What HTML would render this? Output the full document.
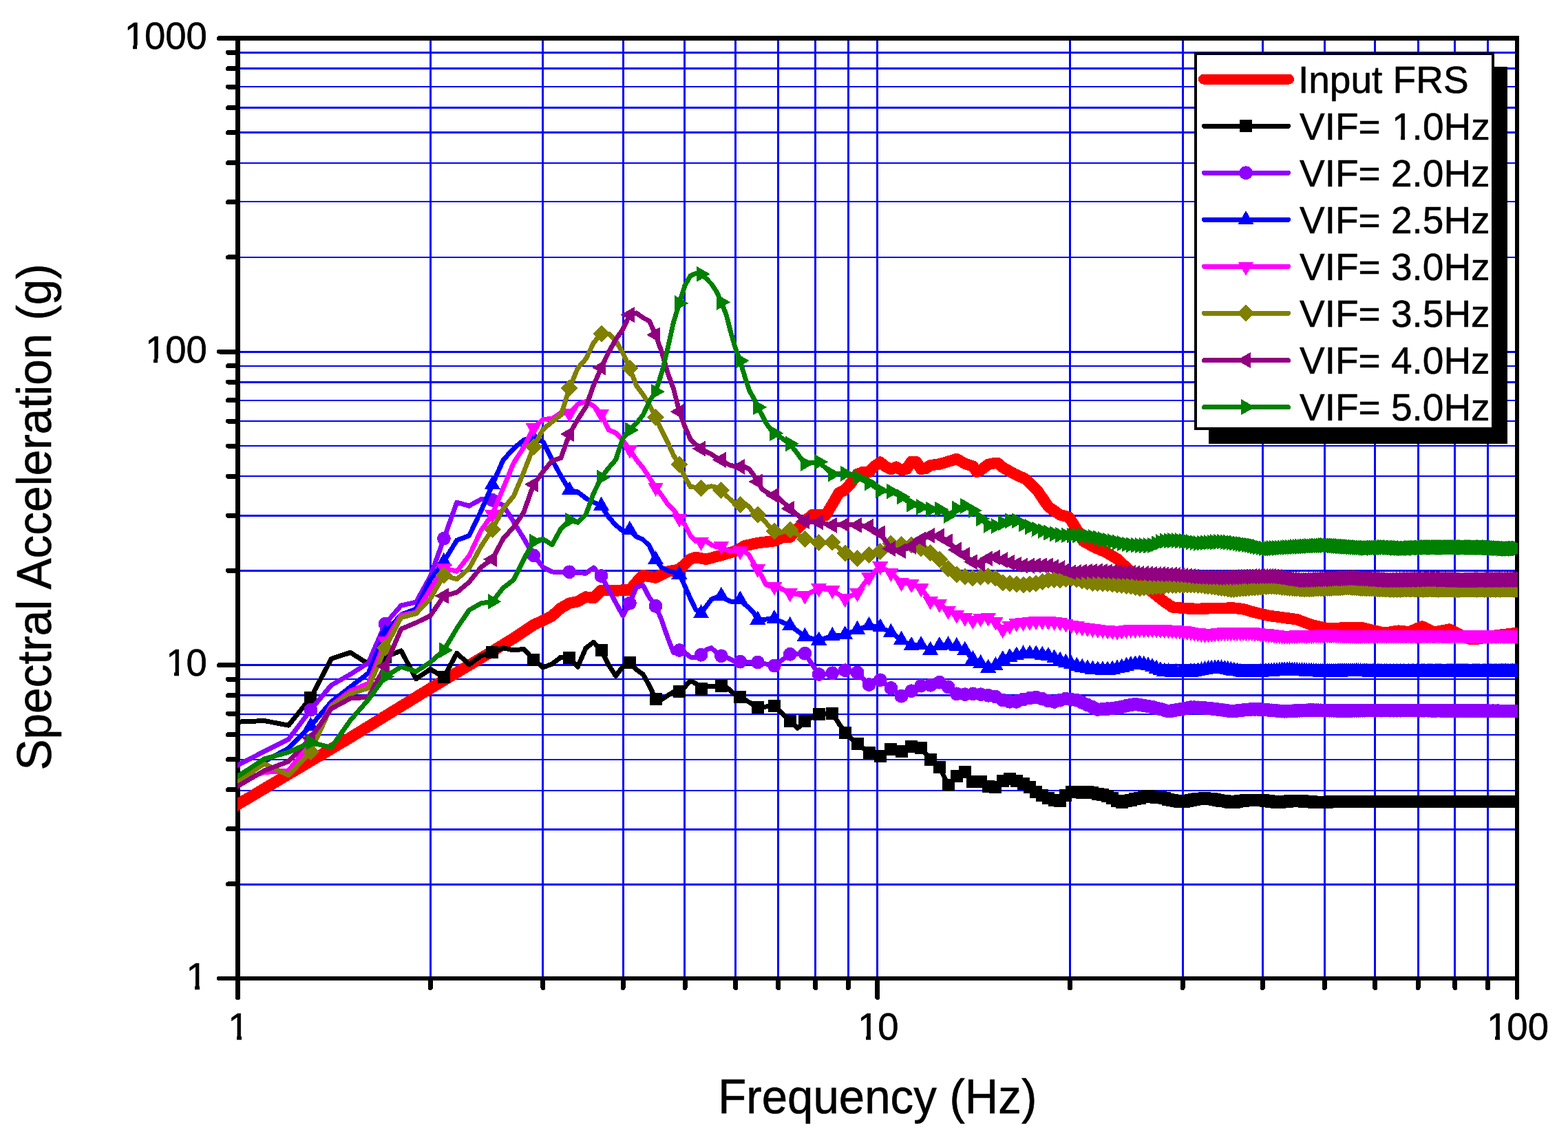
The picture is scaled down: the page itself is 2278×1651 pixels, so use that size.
<!DOCTYPE html>
<html lang="en"><head><meta charset="utf-8"><title>Spectral Acceleration vs Frequency</title>
<style>html,body{margin:0;padding:0;background:#fff}body{width:2278px;height:1651px;overflow:hidden}svg{display:block}text{font-family:"Liberation Sans",sans-serif;fill:#000;stroke:#000;stroke-width:0.6px;stroke-linejoin:round}</style></head><body>
<svg width="2278" height="1651" viewBox="0 0 2278 1651">
<rect width="2278" height="1651" fill="#fff"/>
<defs><clipPath id="pc"><rect x="345" y="56" width="1860" height="1366"/></clipPath></defs>
<path d="M624 59h3V1419h-3zM787 59h3V1419h-3zM904 59h3V1419h-3zM993 59h3V1419h-3zM1067 59h3V1419h-3zM1129 59h3V1419h-3zM1183 59h3V1419h-3zM1231 59h3V1419h-3zM1273 59h3V1419h-3zM1553 59h3V1419h-3zM1717 59h3V1419h-3zM1833 59h3V1419h-3zM1923 59h3V1419h-3zM1996 59h3V1419h-3zM2059 59h3V1419h-3zM2112 59h3V1419h-3zM2160 59h3V1419h-3zM349 75H2201v3H349zM349 98H2201v3H349zM349 125H2201v2H349zM349 155H2201v3H349zM349 191H2201v3H349zM349 236H2201v2H349zM349 292H2201v2H349zM349 373H2201v2H349zM349 510H2201v3H349zM349 531H2201v2H349zM349 554H2201v3H349zM349 581H2201v2H349zM349 611H2201v2H349zM349 647H2201v2H349zM349 691H2201v2H349zM349 748H2201v3H349zM349 828H2201v3H349zM349 965H2201v3H349zM349 986H2201v2H349zM349 1009H2201v3H349zM349 1037H2201v2H349zM349 1067H2201v2H349zM349 1103H2201v2H349zM349 1148H2201v2H349zM349 1204H2201v3H349zM349 1284H2201v3H349z" fill="#0000ff" shape-rendering="crispEdges"/>
<g fill="#000" shape-rendering="crispEdges">
<rect x="342" y="52" width="1865" height="7"/>
<rect x="342" y="1419" width="1865" height="6"/>
<rect x="342" y="52" width="7" height="1373"/>
<rect x="2201" y="52" width="6" height="1373"/>
</g>
<path d="M331.5 1284.9H345M331.5 1204.7H345M331.5 1147.8H345M331.5 1103.6H345M331.5 1067.6H345M331.5 1037.1H345M331.5 1010.6H345M331.5 987.3H345M318.5 966.5H345M331.5 829.4H345M331.5 749.2H345M331.5 692.3H345M331.5 648.1H345M331.5 612.1H345M331.5 581.6H345M331.5 555.1H345M331.5 531.8H345M318.5 511H345M331.5 373.9H345M331.5 293.7H345M331.5 236.8H345M331.5 192.6H345M331.5 156.6H345M331.5 126.1H345M331.5 99.6H345M331.5 76.3H345M318.5 55.5H345M345.5 1422V1449.5M625.2 1422V1435.5M788.9 1422V1435.5M905 1422V1435.5M995 1422V1435.5M1068.6 1422V1435.5M1130.8 1422V1435.5M1184.7 1422V1435.5M1232.2 1422V1435.5M1274.8 1422V1449.5M1554.5 1422V1435.5M1718.1 1422V1435.5M1834.2 1422V1435.5M1924.3 1422V1435.5M1997.8 1422V1435.5M2060.1 1422V1435.5M2113.9 1422V1435.5M2161.5 1422V1435.5" stroke="#000" stroke-width="7" stroke-linecap="round" fill="none" shape-rendering="crispEdges"/>
<path d="M318 1422H345M2204 1422V1450" stroke="#000" stroke-width="6" stroke-linecap="round" fill="none" shape-rendering="crispEdges"/>
<g clip-path="url(#pc)" shape-rendering="crispEdges">
<polyline points="303,1194.3 345.5,1169 384,1146.2 419.1,1125.3 451.4,1106.1 481.3,1088.3 509.1,1071.8 535.2,1055.8 559.6,1040.8 582.7,1026.6 604.5,1013.2 625.2,1000.5 644.9,988.7 663.7,977.4 681.6,966.7 698.8,956.4 715.3,946.5 731.1,936.8 746.3,927.5 761,917.7 775.2,908.3 788.9,901.7 802.1,895 814.9,883.7 827.3,876.7 839.4,874.2 851.1,867.5 862.4,869.2 873.5,857.8 884.3,857.8 894.7,858.7 905,857.5 914.9,857.5 924.7,846 934.2,836.2 943.4,837.9 952.5,839.5 961.4,835.1 970,830.8 978.5,829.1 986.9,827.5 995,819.9 1003,812.5 1010.8,810 1018.5,811.4 1026.1,812.8 1033.5,810.8 1040.8,808.9 1047.9,807 1054.9,804.9 1061.8,802.8 1068.6,800.8 1075.3,797 1081.8,793.3 1088.3,791.8 1094.6,790.4 1100.9,789 1107.1,788.3 1113.1,787.6 1119.1,786.9 1125,786.2 1130.8,783.6 1136.5,781 1142.2,780.9 1147.7,780.8 1153.2,774.4 1158.7,768 1164,763 1169.3,758 1174.5,753.1 1179.6,748.3 1184.7,748.3 1189.7,748.3 1194.7,748.6 1199.6,748.8 1204.4,740.9 1209.2,733 1213.9,724.8 1218.5,716.7 1223.2,714.2 1227.7,711.7 1232.2,706.7 1236.7,701.7 1241.1,695.3 1245.5,689 1249.8,687.5 1254,686 1258.3,686 1262.5,686 1266.6,681.7 1270.7,677.5 1274.8,674.6 1278.8,671.7 1282.7,675 1286.7,678.3 1290.6,680.2 1294.4,682 1298.3,680.3 1302.1,678.7 1305.8,681 1309.5,683.3 1313.2,682.5 1316.9,681.7 1320.5,676.2 1324.1,670.8 1327.6,671 1331.2,671.2 1334.6,676.5 1338.1,681.7 1341.5,681.2 1345,680.8 1348.3,678.5 1351.7,676.2 1355,675.8 1358.3,675.3 1361.6,674.9 1364.8,674.5 1368,673.6 1371.2,672.6 1374.4,671.7 1377.5,670.8 1380.6,669.8 1383.7,668.9 1386.8,667.9 1389.8,667 1392.9,668.7 1395.9,670.4 1398.8,672 1401.8,673.7 1404.7,674.7 1407.6,675.6 1410.5,676.6 1413.4,677.5 1416.3,681.7 1419.1,685.8 1421.9,684.5 1424.7,683.3 1427.5,681.2 1430.2,679.1 1433,677.1 1435.7,675 1438.4,674.4 1441.1,673.9 1443.7,673.3 1446.4,672.8 1449,672.8 1451.6,675 1454.2,677.1 1456.8,679.3 1459.4,680.7 1461.9,682.2 1464.4,683.6 1466.9,685.1 1469.4,686.5 1471.9,687.9 1474.4,689.2 1476.8,690.3 1479.3,691.4 1481.7,692.5 1484.1,693.6 1486.5,694.6 1488.9,695.7 1491.3,697.4 1493.6,699.7 1496,702 1498.3,704.3 1500.6,706.5 1502.9,708.8 1505.2,711 1507.5,713.6 1509.7,716.9 1512,720.2 1514.2,723.4 1516.4,726.7 1518.6,729.9 1520.8,733.1 1523,736.3 1525.2,738 1527.4,739.5 1529.5,741 1531.7,742.5 1533.8,744 1535.9,745.5 1538,746.9 1540.1,748.3 1542.2,748.9 1544.3,749.4 1546.3,749.9 1548.4,750.4 1550.4,751 1552.5,751.5 1554.5,753.6 1556.5,756.9 1558.5,760.2 1560.5,763.4 1562.5,766.7 1564.4,769.9 1566.4,773.4 1568.4,777 1570.3,780.7 1572.2,784.2 1574.2,786.7 1576.1,787.7 1578,788.8 1579.9,789.8 1581.8,790.8 1583.7,791.8 1585.5,792.9 1587.4,793.9 1589.3,794.9 1591.1,795.8 1592.9,796.6 1594.8,797.4 1596.6,798.1 1598.4,798.9 1600.2,799.7 1602,800.5 1603.8,801.3 1605.6,802 1607.4,802.9 1609.1,804 1610.9,805 1612.6,806.1 1614.4,807.1 1616.1,808.2 1617.8,809.2 1619.6,810.2 1621.3,811.3 1623,812.3 1624.7,813.8 1626.4,815.4 1628.1,817 1629.7,818.6 1631.4,820.2 1633.1,821.7 1634.7,823.3 1636.4,824.9 1638,826.4 1639.7,828 1641.3,829.6 1642.9,831.2 1644.5,832.8 1646.1,834.4 1647.8,836.1 1649.3,837.6 1650.9,839.2 1652.5,840.8 1654.1,842.4 1655.7,844 1657.2,845.5 1658.8,846.9 1660.4,848.3 1661.9,849.7 1663.5,851.1 1665,852.5 1666.5,853.9 1668.1,855.3 1669.6,856.6 1671.1,858 1672.6,859.4 1674.1,860.6 1675.6,861.8 1677.1,863 1678.6,864.2 1680.1,865.4 1681.5,866.6 1683,867.7 1684.5,868.9 1685.9,870.1 1687.4,871.2 1688.8,872.4 1690.3,873.5 1691.7,874.5 1693.1,875.5 1694.6,876.5 1696,877.4 1697.4,878.4 1698.8,879.4 1700.2,880.4 1701.6,881.4 1703,882.3 1704.4,882.6 1705.8,882.7 1707.2,882.8 1708.6,882.9 1710,883.1 1711.3,883.2 1712.7,883.3 1714.1,883.4 1715.4,883.5 1716.8,883.6 1718.1,883.8 1719.5,883.9 1720.8,884 1722.1,884.1 1723.5,884.2 1724.8,884.3 1726.1,884.3 1727.4,884.4 1728.7,884.5 1730,884.5 1731.3,884.6 1732.6,884.6 1733.9,884.7 1735.2,884.8 1736.5,884.8 1737.8,884.9 1739.1,885 1740.4,885 1741.6,884.9 1742.9,884.9 1744.2,884.8 1745.4,884.7 1746.7,884.7 1747.9,884.6 1749.2,884.6 1750.4,884.5 1751.7,884.4 1752.9,884.4 1754.1,884.3 1755.4,884.3 1756.6,884.2 1757.8,884.2 1759,884.2 1760.2,884.2 1761.4,884.2 1762.6,884.2 1763.9,884.2 1765.1,884.2 1766.2,884.2 1767.4,884.2 1768.6,884.2 1769.8,884.2 1771,884.2 1772.2,884.2 1773.3,884.2 1774.5,884.1 1775.7,884.1 1776.9,884 1778,883.9 1779.2,883.9 1780.3,883.8 1781.5,883.8 1782.6,883.7 1783.8,883.6 1784.9,883.6 1786,883.5 1787.2,883.5 1788.3,883.4 1789.4,883.3 1790.6,883.4 1791.7,883.5 1792.8,883.6 1793.9,883.8 1795,883.9 1796.2,884 1797.3,884.2 1798.4,884.3 1799.5,884.4 1800.6,884.6 1801.7,884.7 1802.8,884.8 1803.8,885 1804.9,885.1 1806,885.2 1807.1,885.4 1808.2,885.7 1809.2,886.1 1810.3,886.4 1811.4,886.7 1812.5,887 1813.5,887.4 1814.6,887.7 1815.6,888 1816.7,888.3 1817.7,888.6 1818.8,888.9 1819.8,889.2 1820.9,889.4 1821.9,889.7 1823,889.9 1824,890.2 1825,890.4 1826.1,890.7 1827.1,890.9 1828.1,891.2 1829.1,891.4 1830.2,891.7 1831.2,891.9 1832.2,892.2 1833.2,892.4 1834.2,892.7 1835.2,892.9 1836.2,893.2 1837.2,893.4 1838.2,893.7 1839.2,893.9 1840.2,894.2 1841.2,894.4 1842.2,894.6 1843.2,894.8 1844.2,894.9 1845.2,895 1846.1,895.2 1847.1,895.3 1848.1,895.4 1849.1,895.6 1850,895.7 1851,895.8 1852,895.9 1852.9,896.1 1853.9,896.2 1854.9,896.3 1855.8,896.5 1856.8,896.6 1857.7,896.7 1858.7,896.8 1859.6,897 1860.6,897.1 1861.5,897.2 1862.5,897.4 1863.4,897.5 1864.3,897.6 1865.3,897.7 1866.2,897.9 1867.1,898 1868.1,898.1 1869,898.2 1869.9,898.4 1870.8,898.5 1871.8,898.6 1872.7,898.7 1873.6,898.8 1874.5,899 1875.4,899.1 1876.3,899.2 1877.2,899.3 1878.1,899.5 1879,899.6 1880,899.7 1880.8,899.8 1881.7,899.9 1882.6,900.1 1883.5,900.2 1884.4,900.3 1885.3,900.6 1886.2,901 1887.1,901.3 1888,901.7 1888.9,902 1889.7,902.3 1890.6,902.7 1891.5,903 1892.4,903.3 1893.2,903.7 1894.1,904 1895,904.3 1895.8,904.6 1896.7,905 1897.6,905.3 1898.4,905.6 1899.3,905.9 1900.2,906.3 1901,906.6 1901.9,906.9 1902.7,907.2 1903.6,907.6 1904.4,907.9 1905.3,908.2 1906.1,908.4 1907,908.6 1907.8,908.8 1908.6,909 1909.5,909.2 1910.3,909.3 1911.1,909.5 1912,909.7 1912.8,909.9 1913.6,910.1 1914.5,910.3 1915.3,910.4 1916.1,910.6 1916.9,910.8 1917.8,911 1918.6,911.2 1919.4,911.3 1920.2,911.5 1921,911.7 1921.8,911.9 1922.7,912 1923.5,912.2 1924.3,912.4 1925.1,912.6 1925.9,912.7 1926.7,912.9 1927.5,912.9 1928.3,912.9 1929.1,912.9 1929.9,912.9 1930.7,912.9 1931.5,912.9 1932.3,912.9 1933.1,912.9 1933.8,912.8 1934.6,912.8 1935.4,912.8 1936.2,912.8 1937,912.8 1937.8,912.8 1938.5,912.8 1939.3,912.8 1940.1,912.8 1940.9,912.8 1941.6,912.8 1942.4,912.8 1943.2,912.8 1944,912.8 1944.7,912.8 1945.5,912.8 1946.3,912.8 1947,912.7 1947.8,912.7 1948.5,912.7 1949.3,912.7 1950.1,912.7 1950.8,912.7 1951.6,912.7 1952.3,912.7 1953.1,912.7 1953.8,912.7 1954.6,912.7 1955.3,912.7 1956.1,912.7 1956.8,912.7 1957.6,912.7 1958.3,912.7 1959,912.7 1959.8,912.6 1960.5,912.6 1961.3,912.6 1962,912.6 1962.7,912.6 1963.5,912.6 1964.2,912.6 1964.9,912.6 1965.7,912.6 1966.4,912.6 1967.1,912.6 1967.8,912.6 1968.6,912.6 1969.3,912.6 1970,912.6 1970.7,912.6 1971.4,912.6 1972.2,912.6 1972.9,912.5 1973.6,912.5 1974.3,912.5 1975,912.5 1975.7,912.5 1976.4,912.5 1977.1,912.5 1977.9,912.5 1978.6,912.5 1979.3,912.5 1980,912.6 1980.7,912.8 1981.4,913 1982.1,913.1 1982.8,913.3 1983.5,913.5 1984.2,913.6 1984.9,913.8 1985.6,913.9 1986.2,914.1 1986.9,914.3 1987.6,914.4 1988.3,914.6 1989,914.7 1989.7,914.9 1990.4,915.1 1991.1,915.2 1991.7,915.4 1992.4,915.6 1993.1,915.7 1993.8,915.9 1994.5,916 1995.1,916.2 1995.8,916.3 1996.5,916.5 1997.2,916.7 1997.8,916.8 1998.5,917 1999.2,917.1 1999.9,917.3 2000.5,917.4 2001.2,917.6 2001.9,917.8 2002.5,917.9 2003.2,918.1 2003.9,918.2 2004.5,918.4 2005.2,918.5 2005.8,918.7 2006.5,918.8 2007.2,919 2007.8,919.2 2008.5,919.3 2009.1,919.5 2009.8,919.6 2010.4,919.8 2011.1,919.9 2011.7,919.8 2012.4,919.7 2013,919.6 2013.7,919.5 2014.3,919.4 2015,919.3 2015.6,919.2 2016.3,919.1 2016.9,919 2017.5,918.9 2018.2,918.8 2018.8,918.7 2019.5,918.6 2020.1,918.5 2020.7,918.4 2021.4,918.3 2022,918.2 2022.6,918.1 2023.3,918 2023.9,917.9 2024.5,917.8 2025.2,917.7 2025.8,917.6 2026.4,917.6 2027,917.5 2027.7,917.4 2028.3,917.3 2028.9,917.2 2029.5,917.1 2030.1,917 2030.8,916.9 2031.4,916.8 2032,916.7 2032.6,916.8 2033.2,916.8 2033.9,916.9 2034.5,917 2035.1,917 2035.7,917.1 2036.3,917.2 2036.9,917.3 2037.5,917.3 2038.1,917.4 2038.7,917.5 2039.4,917.5 2040,917.6 2040.6,917.7 2041.2,917.7 2041.8,917.8 2042.4,917.9 2043,917.9 2043.6,918 2044.2,918.1 2044.8,918.1 2045.4,918.2 2046,918.3 2046.6,918.4 2047.2,918.3 2047.8,918.1 2048.4,917.8 2049,917.6 2049.5,917.3 2050.1,917.1 2050.7,916.8 2051.3,916.6 2051.9,916.3 2052.5,916.1 2053.1,915.8 2053.7,915.6 2054.3,915.3 2054.8,915.1 2055.4,914.9 2056,914.6 2056.6,914.4 2057.2,914.1 2057.7,913.9 2058.3,913.6 2058.9,913.4 2059.5,913.1 2060.1,912.9 2060.6,912.7 2061.2,912.4 2061.8,912.2 2062.4,911.9 2062.9,911.7 2063.5,911.5 2064.1,911.2 2064.6,911 2065.2,910.7 2065.8,910.5 2066.3,910.6 2066.9,910.9 2067.5,911.1 2068,911.4 2068.6,911.7 2069.2,912 2069.7,912.2 2070.3,912.5 2070.9,912.8 2071.4,913.1 2072,913.4 2072.5,913.6 2073.1,913.9 2073.7,914.2 2074.2,914.5 2074.8,914.7 2075.3,915 2075.9,915.3 2076.4,915.6 2077,915.8 2077.5,916.1 2078.1,916.4 2078.6,916.6 2079.2,916.9 2079.7,917.2 2080.3,917.5 2080.8,917.7 2081.4,918 2081.9,918.3 2082.5,918.5 2083,918.8 2083.6,918.7 2084.1,918.6 2084.7,918.5 2085.2,918.4 2085.7,918.3 2086.3,918.2 2086.8,918.1 2087.4,918 2087.9,917.9 2088.4,917.8 2089,917.7 2089.5,917.6 2090,917.5 2090.6,917.4 2091.1,917.3 2091.6,917.2 2092.2,917.1 2092.7,917 2093.2,916.9 2093.8,916.8 2094.3,916.7 2094.8,916.6 2095.4,916.5 2095.9,916.4 2096.4,916.3 2096.9,916.3 2097.5,916.2 2098,916.1 2098.5,916 2099,915.9 2099.6,915.8 2100.1,915.7 2100.6,915.6 2101.1,915.5 2101.7,915.4 2102.2,915.3 2102.7,915.2 2103.2,915.1 2103.7,915 2104.2,914.9 2104.8,914.8 2105.3,914.7 2105.8,914.6 2106.3,914.8 2106.8,915 2107.3,915.3 2107.8,915.5 2108.4,915.8 2108.9,916 2109.4,916.3 2109.9,916.5 2110.4,916.8 2110.9,917 2111.4,917.3 2111.9,917.6 2112.4,917.8 2112.9,918.1 2113.4,918.3 2113.9,918.6 2114.5,918.8 2115,919.1 2115.5,919.3 2116,919.6 2116.5,919.8 2117,920.1 2117.5,920.3 2118,920.6 2118.5,920.8 2119,921.1 2119.5,921.3 2120,921.6 2120.5,921.8 2120.9,922 2121.4,922.3 2121.9,922.5 2122.4,922.8 2122.9,923 2123.4,923.3 2123.9,923.5 2124.4,923.8 2124.9,924 2125.4,924.3 2125.9,924.5 2126.4,924.7 2126.9,925 2127.3,925.2 2127.8,925.5 2128.3,925.7 2128.8,926 2129.3,926.2 2129.8,926.4 2130.3,926.7 2130.7,926.9 2131.2,927.2 2131.7,927.4 2132.2,927.6 2132.7,927.9 2133.2,928.1 2133.6,928.3 2134.1,928.3 2134.6,928.3 2135.1,928.3 2135.6,928.3 2136,928.3 2136.5,928.3 2137,928.3 2137.5,928.3 2137.9,928.3 2138.4,928.3 2138.9,928.3 2139.4,928.3 2139.8,928.3 2140.3,928.3 2140.8,928.3 2141.3,928.3 2141.7,928.3 2142.2,928.3 2142.7,928.3 2143.1,928.3 2143.6,928.3 2144.1,928.3 2144.5,928.3 2145,928.3 2145.5,928.3 2145.9,928.3 2146.4,928.3 2146.9,928.3 2147.3,928.3 2147.8,928.3 2148.3,928.2 2148.7,928.2 2149.2,928.1 2149.6,928 2150.1,927.9 2150.6,927.8 2151,927.7 2151.5,927.6 2152,927.5 2152.4,927.4 2152.9,927.3 2153.3,927.2 2153.8,927.1 2154.2,927.1 2154.7,927 2155.2,926.9 2155.6,926.8 2156.1,926.7 2156.5,926.6 2157,926.5 2157.4,926.4 2157.9,926.3 2158.3,926.2 2158.8,926.1 2159.2,926.1 2159.7,926 2160.1,925.9 2160.6,925.8 2161,925.7 2161.5,925.6 2161.9,925.5 2162.4,925.4 2162.8,925.3 2163.3,925.2 2163.7,925.2 2164.2,925.1 2164.6,925 2165.1,924.9 2165.5,924.8 2165.9,924.7 2166.4,924.6 2166.8,924.5 2167.3,924.4 2167.7,924.4 2168.2,924.3 2168.6,924.2 2169,924.1 2169.5,924 2169.9,924 2170.3,923.9 2170.8,923.9 2171.2,923.8 2171.7,923.8 2172.1,923.7 2172.5,923.7 2173,923.6 2173.4,923.6 2173.8,923.5 2174.3,923.5 2174.7,923.4 2175.1,923.4 2175.6,923.3 2176,923.3 2176.4,923.2 2176.9,923.2 2177.3,923.1 2177.7,923.1 2178.2,923 2178.6,922.9 2179,922.9 2179.5,922.8 2179.9,922.8 2180.3,922.7 2180.7,922.7 2181.2,922.6 2181.6,922.6 2182,922.5 2182.4,922.5 2182.9,922.4 2183.3,922.4 2183.7,922.3 2184.1,922.3 2184.6,922.2 2185,922.2 2185.4,922.1 2185.8,922.1 2186.3,922 2186.7,922 2187.1,921.9 2187.5,921.9 2187.9,921.8 2188.4,921.8 2188.8,921.7 2189.2,921.7 2189.6,921.6 2190,921.6 2190.5,921.5 2190.9,921.5 2191.3,921.4 2191.7,921.4 2192.1,921.3 2192.5,921.3 2193,921.2 2193.4,921.2 2193.8,921.1 2194.2,921.1 2194.6,921 2195,921 2195.4,920.9 2195.8,920.9 2196.3,920.8 2196.7,920.8 2197.1,920.7 2197.5,920.7 2197.9,920.6 2198.3,920.6 2198.7,920.5 2199.1,920.5 2199.5,920.4 2199.9,920.4 2200.4,920.3 2200.8,920.3 2201.2,920.2 2201.6,920.2 2202,920.1 2202.4,920.1 2202.8,920 2203.2,920 2203.6,919.9 2204,919.9 2204.4,919.9" fill="none" stroke="#ff0000" stroke-width="16.5" stroke-linejoin="round" stroke-linecap="round"/>
<polyline points="303,1051.1 345.5,1049.2 384,1047.5 419.1,1054.2 451.4,1014.2 481.3,957.5 509.1,948.3 535.2,965 559.6,955 582.7,945.8 604.5,986.7 625.2,972.5 644.9,984.2 663.7,949.2 681.6,965.8 698.8,953.3 715.3,948 731.1,941.7 746.3,945 761,943.3 775.2,958.7 788.9,970 802.1,965 814.9,955 827.3,955.8 839.4,969.2 851.1,941.7 862.4,933.3 873.5,945 884.3,966.7 894.7,982.5 905,968.3 914.9,963 924.7,973.3 934.2,980 943.4,996.7 952.5,1015.8 961.4,1016.7 970,1010.8 978.5,1005.8 986.9,1005 995,998.3 1003,989.2 1010.8,993.3 1018.5,1000.8 1026.1,997.5 1033.5,997.5 1040.8,997.5 1047.9,996.7 1054.9,998.3 1061.8,1004.2 1068.6,1010 1075.3,1012.5 1081.8,1016.5 1088.3,1020.5 1094.6,1024.4 1100.9,1028.3 1107.1,1027.7 1113.1,1027 1119.1,1026.4 1125,1025.8 1130.8,1031.5 1136.5,1037.2 1142.2,1042.8 1147.7,1048.3 1153.2,1053.3 1158.7,1058.3 1164,1053.3 1169.3,1048.3 1174.5,1045.5 1179.6,1042.8 1184.7,1040.1 1189.7,1037.5 1194.7,1037.4 1199.6,1037.2 1204.4,1037.1 1209.2,1037 1213.9,1044.1 1218.5,1051.2 1223.2,1058.1 1227.7,1065 1232.2,1069.1 1236.7,1073.1 1241.1,1077.1 1245.5,1081 1249.8,1084.2 1254,1087.3 1258.3,1090.4 1262.5,1093.5 1266.6,1094.9 1270.7,1096.3 1274.8,1097.6 1278.8,1099 1282.7,1096.5 1286.7,1094 1290.6,1091.5 1294.4,1089 1298.3,1089.8 1302.1,1090.5 1305.8,1091.3 1309.5,1092 1313.2,1090.2 1316.9,1088.5 1320.5,1086.7 1324.1,1085 1327.6,1085.4 1331.2,1085.9 1334.6,1086.3 1338.1,1086.7 1341.5,1091.1 1345,1095.5 1348.3,1099.9 1351.7,1104.2 1355,1106.9 1358.3,1109.6 1361.6,1112.3 1364.8,1115 1368,1121.5 1371.2,1128 1374.4,1134.4 1377.5,1140.8 1380.6,1137.6 1383.7,1134.4 1386.8,1131.2 1389.8,1128 1392.9,1126.5 1395.9,1125 1398.8,1123.5 1401.8,1122 1404.7,1125.5 1407.6,1128.9 1410.5,1132.4 1413.4,1135.8 1416.3,1135.8 1419.1,1135.8 1421.9,1135.8 1424.7,1135.8 1427.5,1137.6 1430.2,1139.4 1433,1141.2 1435.7,1143 1438.4,1143.2 1441.1,1143.4 1443.7,1143.5 1446.4,1143.7 1449,1141.4 1451.6,1139.2 1454.2,1136.9 1456.8,1134.7 1459.4,1134.1 1461.9,1133.4 1464.4,1132.8 1466.9,1132.2 1469.4,1132.9 1471.9,1133.6 1474.4,1134.3 1476.8,1135 1479.3,1136.1 1481.7,1137.1 1484.1,1138.2 1486.5,1139.2 1488.9,1140.5 1491.3,1141.7 1493.6,1143 1496,1144.2 1498.3,1145.9 1500.6,1147.5 1502.9,1149.2 1505.2,1150.8 1507.5,1152.1 1509.7,1153.3 1512,1154.6 1514.2,1155.8 1516.4,1156.9 1518.6,1157.9 1520.8,1159 1523,1160 1525.2,1160.8 1527.4,1161.5 1529.5,1162.3 1531.7,1163 1533.8,1163.2 1535.9,1163.4 1538,1163.5 1540.1,1163.7 1542.2,1161.7 1544.3,1159.7 1546.3,1157.8 1548.4,1155.8 1550.4,1154.5 1552.5,1153.3 1554.5,1152 1556.5,1150.8 1558.5,1150.8 1560.5,1150.8 1562.5,1150.8 1564.4,1150.8 1566.4,1151 1568.4,1151.3 1570.3,1151.5 1572.2,1151.7 1574.2,1151.6 1576.1,1151.5 1578,1151.4 1579.9,1151.3 1581.8,1151.2 1583.7,1151.6 1585.5,1151.9 1587.4,1152.2 1589.3,1152.6 1591.1,1152.9 1592.9,1153.3 1594.8,1153.6 1596.6,1153.9 1598.4,1154.3 1600.2,1154.6 1602,1154.9 1603.8,1155.3 1605.6,1155.6 1607.4,1156.1 1609.1,1157 1610.9,1157.8 1612.6,1158.7 1614.4,1159.5 1616.1,1160.3 1617.8,1161.2 1619.6,1162 1621.3,1162.8 1623,1163.6 1624.7,1164.5 1626.4,1165.3 1628.1,1166.1 1629.7,1165.9 1631.4,1165.5 1633.1,1165.1 1634.7,1164.8 1636.4,1164.4 1638,1164 1639.7,1163.6 1641.3,1163.3 1642.9,1162.9 1644.5,1162.5 1646.1,1162.2 1647.8,1161.8 1649.3,1161.4 1650.9,1161.1 1652.5,1160.7 1654.1,1160.3 1655.7,1159.9 1657.2,1159.5 1658.8,1159.1 1660.4,1158.7 1661.9,1158.4 1663.5,1158 1665,1157.6 1666.5,1157.2 1668.1,1156.9 1669.6,1157 1671.1,1157.2 1672.6,1157.4 1674.1,1157.7 1675.6,1157.9 1677.1,1158.1 1678.6,1158.3 1680.1,1158.5 1681.5,1158.8 1683,1159 1684.5,1159.2 1685.9,1159.4 1687.4,1159.6 1688.8,1159.8 1690.3,1160.1 1691.7,1160.4 1693.1,1160.7 1694.6,1161 1696,1161.3 1697.4,1161.6 1698.8,1161.9 1700.2,1162.2 1701.6,1162.5 1703,1162.8 1704.4,1163.1 1705.8,1163.4 1707.2,1163.6 1708.6,1163.9 1710,1164.2 1711.3,1164.5 1712.7,1164.8 1714.1,1165.1 1715.4,1165.2 1716.8,1165 1718.1,1164.8 1719.5,1164.6 1720.8,1164.3 1722.1,1164.1 1723.5,1163.9 1724.8,1163.7 1726.1,1163.4 1727.4,1163.2 1728.7,1163 1730,1162.8 1731.3,1162.6 1732.6,1162.4 1733.9,1162.2 1735.2,1162.1 1736.5,1161.9 1737.8,1161.7 1739.1,1161.6 1740.4,1161.4 1741.6,1161.3 1742.9,1161.1 1744.2,1160.9 1745.4,1160.8 1746.7,1160.6 1747.9,1160.5 1749.2,1160.3 1750.4,1160.2 1751.7,1160 1752.9,1160.2 1754.1,1160.4 1755.4,1160.6 1756.6,1160.7 1757.8,1160.9 1759,1161.1 1760.2,1161.3 1761.4,1161.5 1762.6,1161.7 1763.9,1161.9 1765.1,1162 1766.2,1162.2 1767.4,1162.4 1768.6,1162.6 1769.8,1162.8 1771,1162.9 1772.2,1163.1 1773.3,1163.3 1774.5,1163.5 1775.7,1163.7 1776.9,1163.9 1778,1164.1 1779.2,1164.2 1780.3,1164.4 1781.5,1164.6 1782.6,1164.8 1783.8,1165 1784.9,1165.2 1786,1165.4 1787.2,1165.5 1788.3,1165.7 1789.4,1165.9 1790.6,1165.9 1791.7,1165.8 1792.8,1165.6 1793.9,1165.4 1795,1165.3 1796.2,1165.1 1797.3,1165 1798.4,1164.8 1799.5,1164.7 1800.6,1164.5 1801.7,1164.4 1802.8,1164.2 1803.8,1164.1 1804.9,1163.9 1806,1163.8 1807.1,1163.6 1808.2,1163.5 1809.2,1163.3 1810.3,1163.2 1811.4,1163 1812.5,1162.9 1813.5,1162.7 1814.6,1162.6 1815.6,1162.5 1816.7,1162.5 1817.7,1162.5 1818.8,1162.5 1819.8,1162.5 1820.9,1162.5 1821.9,1162.5 1823,1162.5 1824,1162.5 1825,1162.5 1826.1,1162.5 1827.1,1162.5 1828.1,1162.5 1829.1,1162.5 1830.2,1162.5 1831.2,1162.5 1832.2,1162.6 1833.2,1162.7 1834.2,1162.8 1835.2,1163 1836.2,1163.1 1837.2,1163.2 1838.2,1163.4 1839.2,1163.5 1840.2,1163.6 1841.2,1163.8 1842.2,1163.9 1843.2,1164 1844.2,1164.1 1845.2,1164.3 1846.1,1164.4 1847.1,1164.5 1848.1,1164.7 1849.1,1164.8 1850,1164.9 1851,1165 1852,1165.2 1852.9,1165.3 1853.9,1165.4 1854.9,1165.6 1855.8,1165.7 1856.8,1165.8 1857.7,1165.7 1858.7,1165.6 1859.6,1165.6 1860.6,1165.5 1861.5,1165.4 1862.5,1165.3 1863.4,1165.2 1864.3,1165.2 1865.3,1165.1 1866.2,1165 1867.1,1164.9 1868.1,1164.8 1869,1164.8 1869.9,1164.7 1870.8,1164.6 1871.8,1164.5 1872.7,1164.5 1873.6,1164.4 1874.5,1164.3 1875.4,1164.2 1876.3,1164.2 1877.2,1164.1 1878.1,1164 1879,1163.9 1880,1163.8 1880.8,1163.8 1881.7,1163.7 1882.6,1163.8 1883.5,1163.8 1884.4,1163.9 1885.3,1164 1886.2,1164 1887.1,1164.1 1888,1164.1 1888.9,1164.2 1889.7,1164.3 1890.6,1164.3 1891.5,1164.4 1892.4,1164.5 1893.2,1164.5 1894.1,1164.6 1895,1164.6 1895.8,1164.7 1896.7,1164.8 1897.6,1164.8 1898.4,1164.9 1899.3,1165 1900.2,1165 1901,1165.1 1901.9,1165.1 1902.7,1165.2 1903.6,1165.3 1904.4,1165.3 1905.3,1165.4 1906.1,1165.4 1907,1165.5 1907.8,1165.6 1908.6,1165.6 1909.5,1165.7 1910.3,1165.7 1911.1,1165.8 1912,1165.9 1912.8,1165.9 1913.6,1166 1914.5,1166 1915.3,1166.1 1916.1,1166.2 1916.9,1166.2 1917.8,1166.1 1918.6,1166.1 1919.4,1166.1 1920.2,1166 1921,1166 1921.8,1165.9 1922.7,1165.9 1923.5,1165.9 1924.3,1165.8 1925.1,1165.8 1925.9,1165.7 1926.7,1165.7 1927.5,1165.6 1928.3,1165.6 1929.1,1165.6 1929.9,1165.5 1930.7,1165.5 1931.5,1165.4 1932.3,1165.4 1933.1,1165.4 1933.8,1165.3 1934.6,1165.3 1935.4,1165.2 1936.2,1165.2 1937,1165.2 1937.8,1165.1 1938.5,1165.1 1939.3,1165 1940.1,1165 1940.9,1165 1941.6,1164.9 1942.4,1164.9 1943.2,1164.8 1944,1164.8 1944.7,1164.8 1945.5,1164.7 1946.3,1164.7 1947,1164.7 1947.8,1164.6 1948.5,1164.6 1949.3,1164.5 1950.1,1164.5 1950.8,1164.5 1951.6,1164.5 1952.3,1164.5 1953.1,1164.5 1953.8,1164.5 1954.6,1164.5 1955.3,1164.5 1956.1,1164.5 1956.8,1164.5 1957.6,1164.5 1958.3,1164.5 1959,1164.5 1959.8,1164.5 1960.5,1164.5 1961.3,1164.5 1962,1164.5 1962.7,1164.5 1963.5,1164.5 1964.2,1164.5 1964.9,1164.5 1965.7,1164.5 1966.4,1164.5 1967.1,1164.5 1967.8,1164.5 1968.6,1164.5 1969.3,1164.5 1970,1164.5 1970.7,1164.5 1971.4,1164.5 1972.2,1164.5 1972.9,1164.5 1973.6,1164.5 1974.3,1164.5 1975,1164.5 1975.7,1164.6 1976.4,1164.6 1977.1,1164.6 1977.9,1164.6 1978.6,1164.6 1979.3,1164.6 1980,1164.6 1980.7,1164.6 1981.4,1164.6 1982.1,1164.6 1982.8,1164.6 1983.5,1164.6 1984.2,1164.6 1984.9,1164.6 1985.6,1164.6 1986.2,1164.6 1986.9,1164.6 1987.6,1164.6 1988.3,1164.6 1989,1164.6 1989.7,1164.6 1990.4,1164.6 1991.1,1164.6 1991.7,1164.6 1992.4,1164.6 1993.1,1164.6 1993.8,1164.6 1994.5,1164.6 1995.1,1164.6 1995.8,1164.6 1996.5,1164.6 1997.2,1164.6 1997.8,1164.6 1998.5,1164.6 1999.2,1164.6 1999.9,1164.6 2000.5,1164.6 2001.2,1164.6 2001.9,1164.6 2002.5,1164.6 2003.2,1164.6 2003.9,1164.6 2004.5,1164.6 2005.2,1164.6 2005.8,1164.6 2006.5,1164.6 2007.2,1164.6 2007.8,1164.6 2008.5,1164.6 2009.1,1164.6 2009.8,1164.6 2010.4,1164.6 2011.1,1164.6 2011.7,1164.6 2012.4,1164.6 2013,1164.6 2013.7,1164.6 2014.3,1164.6 2015,1164.6 2015.6,1164.6 2016.3,1164.6 2016.9,1164.6 2017.5,1164.6 2018.2,1164.6 2018.8,1164.6 2019.5,1164.6 2020.1,1164.6 2020.7,1164.6 2021.4,1164.6 2022,1164.6 2022.6,1164.6 2023.3,1164.6 2023.9,1164.6 2024.5,1164.6 2025.2,1164.6 2025.8,1164.6 2026.4,1164.7 2027,1164.7 2027.7,1164.7 2028.3,1164.7 2028.9,1164.7 2029.5,1164.7 2030.1,1164.7 2030.8,1164.7 2031.4,1164.7 2032,1164.7 2032.6,1164.7 2033.2,1164.7 2033.9,1164.7 2034.5,1164.7 2035.1,1164.7 2035.7,1164.7 2036.3,1164.7 2036.9,1164.7 2037.5,1164.7 2038.1,1164.7 2038.7,1164.7 2039.4,1164.7 2040,1164.7 2040.6,1164.7 2041.2,1164.7 2041.8,1164.7 2042.4,1164.7 2043,1164.7 2043.6,1164.7 2044.2,1164.7 2044.8,1164.7 2045.4,1164.7 2046,1164.7 2046.6,1164.7 2047.2,1164.7 2047.8,1164.7 2048.4,1164.7 2049,1164.7 2049.5,1164.7 2050.1,1164.7 2050.7,1164.7 2051.3,1164.7 2051.9,1164.7 2052.5,1164.7 2053.1,1164.7 2053.7,1164.7 2054.3,1164.7 2054.8,1164.7 2055.4,1164.7 2056,1164.7 2056.6,1164.7 2057.2,1164.7 2057.7,1164.7 2058.3,1164.7 2058.9,1164.7 2059.5,1164.7 2060.1,1164.7 2060.6,1164.7 2061.2,1164.7 2061.8,1164.7 2062.4,1164.7 2062.9,1164.7 2063.5,1164.7 2064.1,1164.7 2064.6,1164.7 2065.2,1164.7 2065.8,1164.7 2066.3,1164.7 2066.9,1164.7 2067.5,1164.7 2068,1164.7 2068.6,1164.7 2069.2,1164.7 2069.7,1164.7 2070.3,1164.7 2070.9,1164.7 2071.4,1164.7 2072,1164.7 2072.5,1164.7 2073.1,1164.7 2073.7,1164.7 2074.2,1164.7 2074.8,1164.7 2075.3,1164.7 2075.9,1164.7 2076.4,1164.7 2077,1164.7 2077.5,1164.8 2078.1,1164.8 2078.6,1164.8 2079.2,1164.8 2079.7,1164.8 2080.3,1164.8 2080.8,1164.8 2081.4,1164.8 2081.9,1164.8 2082.5,1164.8 2083,1164.8 2083.6,1164.8 2084.1,1164.8 2084.7,1164.8 2085.2,1164.8 2085.7,1164.8 2086.3,1164.8 2086.8,1164.8 2087.4,1164.8 2087.9,1164.8 2088.4,1164.8 2089,1164.8 2089.5,1164.8 2090,1164.8 2090.6,1164.8 2091.1,1164.8 2091.6,1164.8 2092.2,1164.8 2092.7,1164.8 2093.2,1164.8 2093.8,1164.8 2094.3,1164.8 2094.8,1164.8 2095.4,1164.8 2095.9,1164.8 2096.4,1164.8 2096.9,1164.8 2097.5,1164.8 2098,1164.8 2098.5,1164.8 2099,1164.8 2099.6,1164.8 2100.1,1164.8 2100.6,1164.8 2101.1,1164.8 2101.7,1164.8 2102.2,1164.8 2102.7,1164.8 2103.2,1164.8 2103.7,1164.8 2104.2,1164.8 2104.8,1164.8 2105.3,1164.8 2105.8,1164.8 2106.3,1164.8 2106.8,1164.8 2107.3,1164.8 2107.8,1164.8 2108.4,1164.8 2108.9,1164.8 2109.4,1164.8 2109.9,1164.8 2110.4,1164.8 2110.9,1164.8 2111.4,1164.8 2111.9,1164.8 2112.4,1164.8 2112.9,1164.8 2113.4,1164.8 2113.9,1164.8 2114.5,1164.8 2115,1164.8 2115.5,1164.8 2116,1164.8 2116.5,1164.8 2117,1164.8 2117.5,1164.8 2118,1164.8 2118.5,1164.8 2119,1164.8 2119.5,1164.8 2120,1164.8 2120.5,1164.8 2120.9,1164.8 2121.4,1164.8 2121.9,1164.8 2122.4,1164.8 2122.9,1164.8 2123.4,1164.8 2123.9,1164.8 2124.4,1164.8 2124.9,1164.8 2125.4,1164.8 2125.9,1164.8 2126.4,1164.8 2126.9,1164.8 2127.3,1164.8 2127.8,1164.9 2128.3,1164.9 2128.8,1164.9 2129.3,1164.9 2129.8,1164.9 2130.3,1164.9 2130.7,1164.9 2131.2,1164.9 2131.7,1164.9 2132.2,1164.9 2132.7,1164.9 2133.2,1164.9 2133.6,1164.9 2134.1,1164.9 2134.6,1164.9 2135.1,1164.9 2135.6,1164.9 2136,1164.9 2136.5,1164.9 2137,1164.9 2137.5,1164.9 2137.9,1164.9 2138.4,1164.9 2138.9,1164.9 2139.4,1164.9 2139.8,1164.9 2140.3,1164.9 2140.8,1164.9 2141.3,1164.9 2141.7,1164.9 2142.2,1164.9 2142.7,1164.9 2143.1,1164.9 2143.6,1164.9 2144.1,1164.9 2144.5,1164.9 2145,1164.9 2145.5,1164.9 2145.9,1164.9 2146.4,1164.9 2146.9,1164.9 2147.3,1164.9 2147.8,1164.9 2148.3,1164.9 2148.7,1164.9 2149.2,1164.9 2149.6,1164.9 2150.1,1164.9 2150.6,1164.9 2151,1164.9 2151.5,1164.9 2152,1164.9 2152.4,1164.9 2152.9,1164.9 2153.3,1164.9 2153.8,1164.9 2154.2,1164.9 2154.7,1164.9 2155.2,1164.9 2155.6,1164.9 2156.1,1164.9 2156.5,1164.9 2157,1164.9 2157.4,1164.9 2157.9,1164.9 2158.3,1164.9 2158.8,1164.9 2159.2,1164.9 2159.7,1164.9 2160.1,1164.9 2160.6,1164.9 2161,1164.9 2161.5,1164.9 2161.9,1164.9 2162.4,1164.9 2162.8,1164.9 2163.3,1164.9 2163.7,1164.9 2164.2,1164.9 2164.6,1164.9 2165.1,1164.9 2165.5,1164.9 2165.9,1164.9 2166.4,1164.9 2166.8,1164.9 2167.3,1164.9 2167.7,1164.9 2168.2,1164.9 2168.6,1164.9 2169,1164.9 2169.5,1164.9 2169.9,1164.9 2170.3,1164.9 2170.8,1164.9 2171.2,1164.9 2171.7,1164.9 2172.1,1164.9 2172.5,1164.9 2173,1164.9 2173.4,1164.9 2173.8,1164.9 2174.3,1164.9 2174.7,1164.9 2175.1,1164.9 2175.6,1164.9 2176,1164.9 2176.4,1164.9 2176.9,1164.9 2177.3,1164.9 2177.7,1164.9 2178.2,1164.9 2178.6,1164.9 2179,1165 2179.5,1165 2179.9,1165 2180.3,1165 2180.7,1165 2181.2,1165 2181.6,1165 2182,1165 2182.4,1165 2182.9,1165 2183.3,1165 2183.7,1165 2184.1,1165 2184.6,1165 2185,1165 2185.4,1165 2185.8,1165 2186.3,1165 2186.7,1165 2187.1,1165 2187.5,1165 2187.9,1165 2188.4,1165 2188.8,1165 2189.2,1165 2189.6,1165 2190,1165 2190.5,1165 2190.9,1165 2191.3,1165 2191.7,1165 2192.1,1165 2192.5,1165 2193,1165 2193.4,1165 2193.8,1165 2194.2,1165 2194.6,1165 2195,1165 2195.4,1165 2195.8,1165 2196.3,1165 2196.7,1165 2197.1,1165 2197.5,1165 2197.9,1165 2198.3,1165 2198.7,1165 2199.1,1165 2199.5,1165 2199.9,1165 2200.4,1165 2200.8,1165 2201.2,1165 2201.6,1165 2202,1165 2202.4,1165 2202.8,1165 2203.2,1165 2203.6,1165 2204,1165 2204.4,1165" fill="none" stroke="#000000" stroke-width="7" stroke-linejoin="round" stroke-linecap="round"/>
<path d="M294 1042.1h18v18h-18zM442.4 1005.2h18v18h-18zM550.6 946h18v18h-18zM635.9 975.2h18v18h-18zM706.3 939h18v18h-18zM766.2 949.7h18v18h-18zM818.3 946.8h18v18h-18zM864.5 936h18v18h-18zM905.9 954h18v18h-18zM943.5 1006.8h18v18h-18zM977.9 996h18v18h-18zM1009.5 991.8h18v18h-18zM1038.9 987.7h18v18h-18zM1066.3 1003.5h18v18h-18zM1091.9 1019.3h18v18h-18zM1116 1016.8h18v18h-18zM1138.7 1039.3h18v18h-18zM1160.3 1039.3h18v18h-18zM1180.7 1028.5h18v18h-18zM1200.2 1028h18v18h-18zM1218.7 1056h18v18h-18zM1236.5 1072h18v18h-18zM1253.5 1084.5h18v18h-18zM1269.8 1090h18v18h-18zM1285.4 1080h18v18h-18zM1300.5 1083h18v18h-18zM1315.1 1076h18v18h-18zM1329.1 1077.7h18v18h-18zM1342.7 1095.2h18v18h-18zM1355.8 1106h18v18h-18zM1368.5 1131.8h18v18h-18zM1380.8 1119h18v18h-18zM1392.8 1113h18v18h-18zM1404.4 1126.8h18v18h-18zM1415.7 1126.8h18v18h-18zM1426.7 1134h18v18h-18zM1437.4 1134.7h18v18h-18zM1447.8 1125.7h18v18h-18zM1457.9 1123.2h18v18h-18zM1467.8 1126h18v18h-18zM1477.5 1130.2h18v18h-18zM1487 1135.2h18v18h-18zM1496.2 1141.8h18v18h-18zM1505.2 1146.8h18v18h-18zM1514 1151h18v18h-18zM1522.7 1154h18v18h-18zM1531.1 1154.7h18v18h-18zM1539.4 1146.8h18v18h-18zM1547.5 1141.8h18v18h-18zM1555.4 1141.8h18v18h-18zM1563.2 1142.7h18v18h-18zM1570.9 1142.3h18v18h-18zM1578.4 1143.2h18v18h-18zM1585.8 1144.6h18v18h-18zM1593 1145.9h18v18h-18zM1600.1 1148h18v18h-18zM1607.1 1151.3h18v18h-18zM1614 1154.6h18v18h-18zM1620.7 1156.9h18v18h-18zM1627.4 1155.4h18v18h-18zM1633.9 1153.9h18v18h-18zM1640.3 1152.4h18v18h-18zM1646.7 1150.9h18v18h-18zM1652.9 1149.4h18v18h-18zM1659.1 1147.9h18v18h-18zM1665.1 1148.7h18v18h-18zM1671.1 1149.5h18v18h-18zM1676.9 1150.4h18v18h-18zM1682.7 1151.4h18v18h-18zM1688.4 1152.6h18v18h-18zM1694 1153.8h18v18h-18zM1699.6 1154.9h18v18h-18zM1705.1 1156.1h18v18h-18zM1710.5 1155.6h18v18h-18zM1715.8 1154.7h18v18h-18zM1721 1153.8h18v18h-18zM1726.2 1153.1h18v18h-18zM1731.4 1152.4h18v18h-18zM1736.4 1151.8h18v18h-18zM1741.4 1151.2h18v18h-18zM1746.4 1151.6h18v18h-18zM1751.2 1152.3h18v18h-18zM1756.1 1153h18v18h-18zM1760.8 1153.8h18v18h-18zM1765.5 1154.5h18v18h-18zM1770.2 1155.2h18v18h-18zM1774.8 1156h18v18h-18zM1779.3 1156.7h18v18h-18zM1783.8 1156.6h18v18h-18zM1788.3 1156h18v18h-18zM1792.7 1155.4h18v18h-18zM1797 1154.8h18v18h-18zM1801.3 1154.2h18v18h-18zM1805.6 1153.6h18v18h-18zM1809.8 1153.5h18v18h-18zM1814 1153.5h18v18h-18zM1818.1 1153.5h18v18h-18zM1822.2 1153.5h18v18h-18zM1826.2 1154h18v18h-18zM1830.2 1154.5h18v18h-18zM1834.2 1155h18v18h-18zM1838.1 1155.5h18v18h-18zM1842 1156h18v18h-18zM1845.9 1156.6h18v18h-18zM1849.7 1156.6h18v18h-18zM1853.5 1156.3h18v18h-18zM1857.2 1156h18v18h-18zM1860.9 1155.7h18v18h-18zM1864.6 1155.4h18v18h-18zM1868.2 1155.1h18v18h-18zM1871.8 1154.8h18v18h-18zM1875.4 1154.9h18v18h-18zM1879 1155.1h18v18h-18zM1882.5 1155.4h18v18h-18zM1886 1155.6h18v18h-18zM1889.4 1155.9h18v18h-18zM1892.9 1156.1h18v18h-18zM1896.3 1156.4h18v18h-18zM1899.6 1156.6h18v18h-18zM1903 1156.9h18v18h-18zM1906.3 1157.1h18v18h-18zM1909.6 1157.1h18v18h-18zM1912.8 1156.9h18v18h-18zM1916.1 1156.8h18v18h-18zM1919.3 1156.6h18v18h-18zM1922.5 1156.4h18v18h-18zM1925.6 1156.3h18v18h-18zM1928.8 1156.1h18v18h-18zM1931.9 1156h18v18h-18zM1935 1155.8h18v18h-18zM1938 1155.7h18v18h-18zM1941.1 1155.5h18v18h-18zM1944.1 1155.5h18v18h-18zM1947.1 1155.5h18v18h-18zM1950 1155.5h18v18h-18zM1953 1155.5h18v18h-18zM1955.9 1155.5h18v18h-18zM1958.8 1155.5h18v18h-18zM1961.7 1155.5h18v18h-18zM1964.6 1155.5h18v18h-18zM1967.4 1155.6h18v18h-18zM1970.3 1155.6h18v18h-18zM1973.1 1155.6h18v18h-18zM1975.9 1155.6h18v18h-18zM1978.6 1155.6h18v18h-18zM1981.4 1155.6h18v18h-18zM1984.1 1155.6h18v18h-18zM1986.8 1155.6h18v18h-18zM1989.5 1155.6h18v18h-18zM1992.2 1155.6h18v18h-18zM1994.9 1155.6h18v18h-18zM1997.5 1155.6h18v18h-18zM2000.1 1155.6h18v18h-18zM2002.7 1155.6h18v18h-18zM2005.3 1155.6h18v18h-18zM2007.9 1155.6h18v18h-18zM2010.5 1155.6h18v18h-18zM2013 1155.6h18v18h-18zM2015.5 1155.6h18v18h-18zM2018 1155.7h18v18h-18zM2020.5 1155.7h18v18h-18zM2023 1155.7h18v18h-18zM2025.5 1155.7h18v18h-18zM2027.9 1155.7h18v18h-18zM2030.4 1155.7h18v18h-18zM2032.8 1155.7h18v18h-18zM2035.2 1155.7h18v18h-18zM2037.6 1155.7h18v18h-18zM2040 1155.7h18v18h-18zM2042.3 1155.7h18v18h-18zM2044.7 1155.7h18v18h-18zM2047 1155.7h18v18h-18zM2049.3 1155.7h18v18h-18zM2051.6 1155.7h18v18h-18zM2053.9 1155.7h18v18h-18zM2056.2 1155.7h18v18h-18zM2058.5 1155.7h18v18h-18zM2060.7 1155.7h18v18h-18zM2063 1155.7h18v18h-18zM2065.2 1155.7h18v18h-18zM2067.4 1155.7h18v18h-18zM2069.6 1155.8h18v18h-18zM2071.8 1155.8h18v18h-18zM2074 1155.8h18v18h-18zM2076.2 1155.8h18v18h-18zM2078.4 1155.8h18v18h-18zM2080.5 1155.8h18v18h-18zM2082.6 1155.8h18v18h-18zM2084.8 1155.8h18v18h-18zM2086.9 1155.8h18v18h-18zM2089 1155.8h18v18h-18zM2091.1 1155.8h18v18h-18zM2093.2 1155.8h18v18h-18zM2095.2 1155.8h18v18h-18zM2097.3 1155.8h18v18h-18zM2099.4 1155.8h18v18h-18zM2101.4 1155.8h18v18h-18zM2103.4 1155.8h18v18h-18zM2105.5 1155.8h18v18h-18zM2107.5 1155.8h18v18h-18zM2109.5 1155.8h18v18h-18zM2111.5 1155.8h18v18h-18zM2113.4 1155.8h18v18h-18zM2115.4 1155.8h18v18h-18zM2117.4 1155.8h18v18h-18zM2119.3 1155.9h18v18h-18zM2121.3 1155.9h18v18h-18zM2123.2 1155.9h18v18h-18zM2125.1 1155.9h18v18h-18zM2127 1155.9h18v18h-18zM2128.9 1155.9h18v18h-18zM2130.8 1155.9h18v18h-18zM2132.7 1155.9h18v18h-18zM2134.6 1155.9h18v18h-18zM2136.5 1155.9h18v18h-18zM2138.3 1155.9h18v18h-18zM2140.2 1155.9h18v18h-18zM2142 1155.9h18v18h-18zM2143.9 1155.9h18v18h-18zM2145.7 1155.9h18v18h-18zM2147.5 1155.9h18v18h-18zM2149.3 1155.9h18v18h-18zM2151.1 1155.9h18v18h-18zM2152.9 1155.9h18v18h-18zM2154.7 1155.9h18v18h-18zM2156.5 1155.9h18v18h-18zM2158.3 1155.9h18v18h-18zM2160 1155.9h18v18h-18zM2161.8 1155.9h18v18h-18zM2163.5 1155.9h18v18h-18zM2165.3 1155.9h18v18h-18zM2167 1155.9h18v18h-18zM2168.7 1155.9h18v18h-18zM2170.5 1156h18v18h-18zM2172.2 1156h18v18h-18zM2173.9 1156h18v18h-18zM2175.6 1156h18v18h-18zM2177.3 1156h18v18h-18zM2178.9 1156h18v18h-18zM2180.6 1156h18v18h-18zM2182.3 1156h18v18h-18zM2184 1156h18v18h-18zM2185.6 1156h18v18h-18zM2187.3 1156h18v18h-18zM2188.9 1156h18v18h-18zM2190.5 1156h18v18h-18zM2192.2 1156h18v18h-18zM2193.8 1156h18v18h-18zM2195.4 1156h18v18h-18z" fill="#000000"/>
<polyline points="303,1134.1 345.5,1112 384,1092 419.1,1074.5 451.4,1031.7 481.3,995.8 509.1,980 535.2,963.3 559.6,906.7 582.7,880 604.5,875.2 625.2,837.7 644.9,782.7 663.7,730.2 681.6,735.2 698.8,725.7 715.3,726.8 731.1,734.3 746.3,758.5 761,782.7 775.2,807.2 788.9,824.2 802.1,831 814.9,831.3 827.3,831.3 839.4,832.6 851.1,833.2 862.4,825.1 873.5,837 884.3,857 894.7,876 905,895 914.9,876.7 924.7,853.3 934.2,850.8 943.4,868.3 952.5,880.8 961.4,901.7 970,926.7 978.5,948.3 986.9,945 995,948.3 1003,955 1010.8,955 1018.5,951.7 1026.1,944.2 1033.5,941.7 1040.8,948.3 1047.9,953.3 1054.9,955 1061.8,958.3 1068.6,961.7 1075.3,961.7 1081.8,961.9 1088.3,962.1 1094.6,962.3 1100.9,962.5 1107.1,963.8 1113.1,965 1119.1,966.3 1125,967.5 1130.8,963.2 1136.5,959 1142.2,954.9 1147.7,950.8 1153.2,950.5 1158.7,950.2 1164,950 1169.3,949.7 1174.5,957.4 1179.6,965 1184.7,972.6 1189.7,980 1194.7,979.6 1199.6,979.1 1204.4,978.7 1209.2,978.3 1213.9,977.3 1218.5,976.2 1223.2,975.2 1227.7,974.2 1232.2,975 1236.7,975.9 1241.1,976.7 1245.5,977.5 1249.8,981.9 1254,986.3 1258.3,990.7 1262.5,995 1266.6,993.3 1270.7,991.6 1274.8,989.9 1278.8,988.3 1282.7,991.3 1286.7,994.2 1290.6,997.1 1294.4,1000 1298.3,1003 1302.1,1005.9 1305.8,1008.8 1309.5,1011.7 1313.2,1009.8 1316.9,1007.9 1320.5,1006 1324.1,1004.2 1327.6,1002.3 1331.2,1000.4 1334.6,998.6 1338.1,996.7 1341.5,996.5 1345,996.2 1348.3,996 1351.7,995.8 1355,994.8 1358.3,993.7 1361.6,992.7 1364.8,991.7 1368,993.4 1371.2,995 1374.4,996.7 1377.5,998.3 1380.6,1000.8 1383.7,1003.3 1386.8,1005.8 1389.8,1008.3 1392.9,1008.5 1395.9,1008.8 1398.8,1009 1401.8,1009.2 1404.7,1009 1407.6,1008.7 1410.5,1008.5 1413.4,1008.3 1416.3,1008.5 1419.1,1008.8 1421.9,1009 1424.7,1009.2 1427.5,1009.6 1430.2,1010 1433,1010.4 1435.7,1010.8 1438.4,1011.2 1441.1,1011.7 1443.7,1012.1 1446.4,1012.5 1449,1013.8 1451.6,1015 1454.2,1016.3 1456.8,1017.5 1459.4,1018.1 1461.9,1018.7 1464.4,1019.2 1466.9,1019.8 1469.4,1020.3 1471.9,1020.9 1474.4,1020.8 1476.8,1019.9 1479.3,1019.1 1481.7,1018.2 1484.1,1017.4 1486.5,1016.5 1488.9,1015.7 1491.3,1015.1 1493.6,1014.9 1496,1014.6 1498.3,1014.3 1500.6,1014 1502.9,1013.8 1505.2,1013.5 1507.5,1013.5 1509.7,1014.3 1512,1015 1514.2,1015.7 1516.4,1016.5 1518.6,1017.2 1520.8,1017.9 1523,1018.6 1525.2,1019 1527.4,1019.3 1529.5,1019.7 1531.7,1020 1533.8,1019.4 1535.9,1018.9 1538,1018.3 1540.1,1017.7 1542.2,1017.2 1544.3,1016.6 1546.3,1016 1548.4,1015.5 1550.4,1015.8 1552.5,1016.1 1554.5,1016.4 1556.5,1016.6 1558.5,1016.9 1560.5,1017.2 1562.5,1017.5 1564.4,1017.7 1566.4,1018.4 1568.4,1019.3 1570.3,1020.2 1572.2,1021.1 1574.2,1021.9 1576.1,1022.8 1578,1023.6 1579.9,1024.5 1581.8,1025.3 1583.7,1026.2 1585.5,1027 1587.4,1027.8 1589.3,1028.7 1591.1,1029.5 1592.9,1030.3 1594.8,1031.1 1596.6,1031.1 1598.4,1030.9 1600.2,1030.8 1602,1030.7 1603.8,1030.5 1605.6,1030.4 1607.4,1030.2 1609.1,1030.1 1610.9,1029.9 1612.6,1029.7 1614.4,1029.6 1616.1,1029.4 1617.8,1029.2 1619.6,1029.1 1621.3,1028.9 1623,1028.7 1624.7,1028.4 1626.4,1028 1628.1,1027.7 1629.7,1027.3 1631.4,1026.9 1633.1,1026.5 1634.7,1026.2 1636.4,1025.8 1638,1025.5 1639.7,1025.1 1641.3,1024.7 1642.9,1024.4 1644.5,1024 1646.1,1023.7 1647.8,1023.3 1649.3,1023.4 1650.9,1023.7 1652.5,1023.9 1654.1,1024.2 1655.7,1024.5 1657.2,1024.7 1658.8,1025 1660.4,1025.3 1661.9,1025.5 1663.5,1025.8 1665,1026.1 1666.5,1026.3 1668.1,1026.6 1669.6,1026.9 1671.1,1027.1 1672.6,1027.4 1674.1,1027.7 1675.6,1028.1 1677.1,1028.4 1678.6,1028.8 1680.1,1029.2 1681.5,1029.5 1683,1029.9 1684.5,1030.3 1685.9,1030.6 1687.4,1031 1688.8,1031.4 1690.3,1031.7 1691.7,1032.1 1693.1,1032.4 1694.6,1032.8 1696,1033.1 1697.4,1033.5 1698.8,1033.6 1700.2,1033.4 1701.6,1033.1 1703,1032.9 1704.4,1032.6 1705.8,1032.4 1707.2,1032.2 1708.6,1031.9 1710,1031.7 1711.3,1031.4 1712.7,1031.2 1714.1,1031 1715.4,1030.7 1716.8,1030.5 1718.1,1030.2 1719.5,1030 1720.8,1029.7 1722.1,1029.5 1723.5,1029.2 1724.8,1029 1726.1,1028.7 1727.4,1028.5 1728.7,1028.3 1730,1028 1731.3,1027.8 1732.6,1027.8 1733.9,1027.9 1735.2,1028 1736.5,1028 1737.8,1028.1 1739.1,1028.2 1740.4,1028.3 1741.6,1028.4 1742.9,1028.5 1744.2,1028.6 1745.4,1028.7 1746.7,1028.8 1747.9,1028.9 1749.2,1029 1750.4,1029 1751.7,1029.1 1752.9,1029.2 1754.1,1029.3 1755.4,1029.4 1756.6,1029.5 1757.8,1029.6 1759,1029.8 1760.2,1029.9 1761.4,1030.1 1762.6,1030.3 1763.9,1030.4 1765.1,1030.6 1766.2,1030.7 1767.4,1030.9 1768.6,1031 1769.8,1031.2 1771,1031.3 1772.2,1031.5 1773.3,1031.6 1774.5,1031.7 1775.7,1031.9 1776.9,1032 1778,1032.2 1779.2,1032.3 1780.3,1032.5 1781.5,1032.6 1782.6,1032.8 1783.8,1032.9 1784.9,1033.1 1786,1033.2 1787.2,1033.3 1788.3,1033.5 1789.4,1033.6 1790.6,1033.6 1791.7,1033.5 1792.8,1033.4 1793.9,1033.3 1795,1033.2 1796.2,1033.1 1797.3,1032.9 1798.4,1032.8 1799.5,1032.7 1800.6,1032.6 1801.7,1032.5 1802.8,1032.4 1803.8,1032.3 1804.9,1032.2 1806,1032 1807.1,1031.9 1808.2,1031.8 1809.2,1031.7 1810.3,1031.6 1811.4,1031.5 1812.5,1031.4 1813.5,1031.3 1814.6,1031.2 1815.6,1031 1816.7,1030.9 1817.7,1030.8 1818.8,1030.8 1819.8,1030.8 1820.9,1030.8 1821.9,1030.9 1823,1030.9 1824,1030.9 1825,1030.9 1826.1,1030.9 1827.1,1030.9 1828.1,1030.9 1829.1,1031 1830.2,1031 1831.2,1031 1832.2,1031 1833.2,1031.1 1834.2,1031.2 1835.2,1031.3 1836.2,1031.4 1837.2,1031.5 1838.2,1031.5 1839.2,1031.6 1840.2,1031.7 1841.2,1031.8 1842.2,1031.9 1843.2,1032 1844.2,1032.1 1845.2,1032.2 1846.1,1032.2 1847.1,1032.3 1848.1,1032.4 1849.1,1032.5 1850,1032.6 1851,1032.7 1852,1032.8 1852.9,1032.8 1853.9,1032.9 1854.9,1033 1855.8,1033.1 1856.8,1033.2 1857.7,1033.3 1858.7,1033.3 1859.6,1033.4 1860.6,1033.5 1861.5,1033.6 1862.5,1033.7 1863.4,1033.8 1864.3,1033.8 1865.3,1033.9 1866.2,1033.8 1867.1,1033.8 1868.1,1033.8 1869,1033.7 1869.9,1033.7 1870.8,1033.6 1871.8,1033.6 1872.7,1033.5 1873.6,1033.5 1874.5,1033.4 1875.4,1033.4 1876.3,1033.4 1877.2,1033.3 1878.1,1033.3 1879,1033.2 1880,1033.2 1880.8,1033.1 1881.7,1033.1 1882.6,1033.1 1883.5,1033 1884.4,1033 1885.3,1032.9 1886.2,1032.9 1887.1,1032.9 1888,1032.8 1888.9,1032.8 1889.7,1032.7 1890.6,1032.7 1891.5,1032.6 1892.4,1032.6 1893.2,1032.6 1894.1,1032.5 1895,1032.5 1895.8,1032.4 1896.7,1032.4 1897.6,1032.4 1898.4,1032.3 1899.3,1032.3 1900.2,1032.2 1901,1032.2 1901.9,1032.1 1902.7,1032.1 1903.6,1032.1 1904.4,1032 1905.3,1032 1906.1,1032 1907,1032 1907.8,1032.1 1908.6,1032.1 1909.5,1032.1 1910.3,1032.1 1911.1,1032.1 1912,1032.2 1912.8,1032.2 1913.6,1032.2 1914.5,1032.2 1915.3,1032.2 1916.1,1032.3 1916.9,1032.3 1917.8,1032.3 1918.6,1032.3 1919.4,1032.3 1920.2,1032.4 1921,1032.4 1921.8,1032.4 1922.7,1032.4 1923.5,1032.4 1924.3,1032.4 1925.1,1032.5 1925.9,1032.5 1926.7,1032.5 1927.5,1032.5 1928.3,1032.5 1929.1,1032.6 1929.9,1032.6 1930.7,1032.6 1931.5,1032.6 1932.3,1032.6 1933.1,1032.7 1933.8,1032.7 1934.6,1032.7 1935.4,1032.7 1936.2,1032.7 1937,1032.7 1937.8,1032.8 1938.5,1032.8 1939.3,1032.8 1940.1,1032.8 1940.9,1032.8 1941.6,1032.9 1942.4,1032.9 1943.2,1032.9 1944,1032.9 1944.7,1032.9 1945.5,1032.9 1946.3,1033 1947,1033 1947.8,1033 1948.5,1033 1949.3,1033 1950.1,1033 1950.8,1033 1951.6,1033 1952.3,1033 1953.1,1033 1953.8,1032.9 1954.6,1032.9 1955.3,1032.9 1956.1,1032.9 1956.8,1032.9 1957.6,1032.9 1958.3,1032.9 1959,1032.9 1959.8,1032.9 1960.5,1032.9 1961.3,1032.9 1962,1032.9 1962.7,1032.9 1963.5,1032.9 1964.2,1032.8 1964.9,1032.8 1965.7,1032.8 1966.4,1032.8 1967.1,1032.8 1967.8,1032.8 1968.6,1032.8 1969.3,1032.8 1970,1032.8 1970.7,1032.8 1971.4,1032.8 1972.2,1032.8 1972.9,1032.8 1973.6,1032.8 1974.3,1032.7 1975,1032.7 1975.7,1032.7 1976.4,1032.7 1977.1,1032.7 1977.9,1032.7 1978.6,1032.7 1979.3,1032.7 1980,1032.7 1980.7,1032.7 1981.4,1032.7 1982.1,1032.7 1982.8,1032.7 1983.5,1032.7 1984.2,1032.7 1984.9,1032.6 1985.6,1032.6 1986.2,1032.6 1986.9,1032.6 1987.6,1032.6 1988.3,1032.6 1989,1032.6 1989.7,1032.6 1990.4,1032.6 1991.1,1032.6 1991.7,1032.6 1992.4,1032.6 1993.1,1032.6 1993.8,1032.6 1994.5,1032.6 1995.1,1032.6 1995.8,1032.6 1996.5,1032.6 1997.2,1032.6 1997.8,1032.6 1998.5,1032.6 1999.2,1032.6 1999.9,1032.6 2000.5,1032.6 2001.2,1032.6 2001.9,1032.6 2002.5,1032.6 2003.2,1032.6 2003.9,1032.6 2004.5,1032.6 2005.2,1032.6 2005.8,1032.6 2006.5,1032.6 2007.2,1032.6 2007.8,1032.6 2008.5,1032.6 2009.1,1032.6 2009.8,1032.6 2010.4,1032.6 2011.1,1032.6 2011.7,1032.6 2012.4,1032.6 2013,1032.6 2013.7,1032.6 2014.3,1032.6 2015,1032.6 2015.6,1032.6 2016.3,1032.6 2016.9,1032.6 2017.5,1032.6 2018.2,1032.6 2018.8,1032.6 2019.5,1032.6 2020.1,1032.6 2020.7,1032.6 2021.4,1032.6 2022,1032.6 2022.6,1032.6 2023.3,1032.6 2023.9,1032.6 2024.5,1032.6 2025.2,1032.6 2025.8,1032.6 2026.4,1032.6 2027,1032.6 2027.7,1032.6 2028.3,1032.6 2028.9,1032.6 2029.5,1032.6 2030.1,1032.6 2030.8,1032.6 2031.4,1032.6 2032,1032.6 2032.6,1032.6 2033.2,1032.6 2033.9,1032.6 2034.5,1032.6 2035.1,1032.6 2035.7,1032.6 2036.3,1032.6 2036.9,1032.6 2037.5,1032.6 2038.1,1032.6 2038.7,1032.6 2039.4,1032.6 2040,1032.6 2040.6,1032.6 2041.2,1032.6 2041.8,1032.6 2042.4,1032.6 2043,1032.6 2043.6,1032.6 2044.2,1032.6 2044.8,1032.6 2045.4,1032.6 2046,1032.6 2046.6,1032.6 2047.2,1032.6 2047.8,1032.6 2048.4,1032.6 2049,1032.6 2049.5,1032.6 2050.1,1032.6 2050.7,1032.6 2051.3,1032.6 2051.9,1032.6 2052.5,1032.6 2053.1,1032.6 2053.7,1032.6 2054.3,1032.6 2054.8,1032.6 2055.4,1032.6 2056,1032.6 2056.6,1032.6 2057.2,1032.6 2057.7,1032.6 2058.3,1032.6 2058.9,1032.6 2059.5,1032.6 2060.1,1032.6 2060.6,1032.6 2061.2,1032.6 2061.8,1032.7 2062.4,1032.7 2062.9,1032.7 2063.5,1032.7 2064.1,1032.7 2064.6,1032.7 2065.2,1032.7 2065.8,1032.7 2066.3,1032.7 2066.9,1032.7 2067.5,1032.7 2068,1032.7 2068.6,1032.7 2069.2,1032.7 2069.7,1032.7 2070.3,1032.7 2070.9,1032.7 2071.4,1032.7 2072,1032.7 2072.5,1032.7 2073.1,1032.7 2073.7,1032.7 2074.2,1032.7 2074.8,1032.7 2075.3,1032.7 2075.9,1032.7 2076.4,1032.7 2077,1032.7 2077.5,1032.7 2078.1,1032.7 2078.6,1032.8 2079.2,1032.8 2079.7,1032.8 2080.3,1032.8 2080.8,1032.8 2081.4,1032.8 2081.9,1032.8 2082.5,1032.8 2083,1032.8 2083.6,1032.8 2084.1,1032.8 2084.7,1032.8 2085.2,1032.8 2085.7,1032.8 2086.3,1032.8 2086.8,1032.8 2087.4,1032.8 2087.9,1032.8 2088.4,1032.8 2089,1032.8 2089.5,1032.8 2090,1032.8 2090.6,1032.8 2091.1,1032.8 2091.6,1032.8 2092.2,1032.8 2092.7,1032.8 2093.2,1032.8 2093.8,1032.8 2094.3,1032.8 2094.8,1032.8 2095.4,1032.9 2095.9,1032.9 2096.4,1032.9 2096.9,1032.9 2097.5,1032.9 2098,1032.9 2098.5,1032.9 2099,1032.9 2099.6,1032.9 2100.1,1032.9 2100.6,1032.9 2101.1,1032.9 2101.7,1032.9 2102.2,1032.9 2102.7,1032.9 2103.2,1032.9 2103.7,1032.9 2104.2,1032.9 2104.8,1032.9 2105.3,1032.9 2105.8,1032.9 2106.3,1032.9 2106.8,1032.9 2107.3,1032.9 2107.8,1032.9 2108.4,1032.9 2108.9,1032.9 2109.4,1032.9 2109.9,1032.9 2110.4,1032.9 2110.9,1032.9 2111.4,1032.9 2111.9,1033 2112.4,1033 2112.9,1033 2113.4,1033 2113.9,1033 2114.5,1033 2115,1033 2115.5,1033 2116,1033 2116.5,1033 2117,1033 2117.5,1033 2118,1033 2118.5,1033 2119,1033 2119.5,1033 2120,1033 2120.5,1033 2120.9,1033 2121.4,1033 2121.9,1033 2122.4,1033 2122.9,1033 2123.4,1033 2123.9,1033 2124.4,1033 2124.9,1033 2125.4,1033 2125.9,1033 2126.4,1033 2126.9,1033 2127.3,1033 2127.8,1033 2128.3,1033 2128.8,1033.1 2129.3,1033.1 2129.8,1033.1 2130.3,1033.1 2130.7,1033.1 2131.2,1033.1 2131.7,1033.1 2132.2,1033.1 2132.7,1033.1 2133.2,1033.1 2133.6,1033.1 2134.1,1033.1 2134.6,1033.1 2135.1,1033.1 2135.6,1033.1 2136,1033.1 2136.5,1033.1 2137,1033.1 2137.5,1033.1 2137.9,1033.1 2138.4,1033.1 2138.9,1033.1 2139.4,1033.1 2139.8,1033.1 2140.3,1033.1 2140.8,1033.1 2141.3,1033.1 2141.7,1033.1 2142.2,1033.1 2142.7,1033.1 2143.1,1033.1 2143.6,1033.1 2144.1,1033.1 2144.5,1033.1 2145,1033.1 2145.5,1033.2 2145.9,1033.2 2146.4,1033.2 2146.9,1033.2 2147.3,1033.2 2147.8,1033.2 2148.3,1033.2 2148.7,1033.2 2149.2,1033.2 2149.6,1033.2 2150.1,1033.2 2150.6,1033.2 2151,1033.2 2151.5,1033.2 2152,1033.2 2152.4,1033.2 2152.9,1033.2 2153.3,1033.2 2153.8,1033.2 2154.2,1033.2 2154.7,1033.2 2155.2,1033.2 2155.6,1033.2 2156.1,1033.2 2156.5,1033.2 2157,1033.2 2157.4,1033.2 2157.9,1033.2 2158.3,1033.2 2158.8,1033.2 2159.2,1033.2 2159.7,1033.2 2160.1,1033.2 2160.6,1033.2 2161,1033.2 2161.5,1033.2 2161.9,1033.2 2162.4,1033.3 2162.8,1033.3 2163.3,1033.3 2163.7,1033.3 2164.2,1033.3 2164.6,1033.3 2165.1,1033.3 2165.5,1033.3 2165.9,1033.3 2166.4,1033.3 2166.8,1033.3 2167.3,1033.3 2167.7,1033.3 2168.2,1033.3 2168.6,1033.3 2169,1033.3 2169.5,1033.3 2169.9,1033.3 2170.3,1033.3 2170.8,1033.3 2171.2,1033.3 2171.7,1033.3 2172.1,1033.3 2172.5,1033.3 2173,1033.3 2173.4,1033.3 2173.8,1033.3 2174.3,1033.3 2174.7,1033.3 2175.1,1033.3 2175.6,1033.3 2176,1033.3 2176.4,1033.3 2176.9,1033.3 2177.3,1033.3 2177.7,1033.3 2178.2,1033.3 2178.6,1033.3 2179,1033.4 2179.5,1033.4 2179.9,1033.4 2180.3,1033.4 2180.7,1033.4 2181.2,1033.4 2181.6,1033.4 2182,1033.4 2182.4,1033.4 2182.9,1033.4 2183.3,1033.4 2183.7,1033.4 2184.1,1033.4 2184.6,1033.4 2185,1033.4 2185.4,1033.4 2185.8,1033.4 2186.3,1033.4 2186.7,1033.4 2187.1,1033.4 2187.5,1033.4 2187.9,1033.4 2188.4,1033.4 2188.8,1033.4 2189.2,1033.4 2189.6,1033.4 2190,1033.4 2190.5,1033.4 2190.9,1033.4 2191.3,1033.4 2191.7,1033.4 2192.1,1033.4 2192.5,1033.4 2193,1033.4 2193.4,1033.4 2193.8,1033.4 2194.2,1033.4 2194.6,1033.4 2195,1033.4 2195.4,1033.4 2195.8,1033.5 2196.3,1033.5 2196.7,1033.5 2197.1,1033.5 2197.5,1033.5 2197.9,1033.5 2198.3,1033.5 2198.7,1033.5 2199.1,1033.5 2199.5,1033.5 2199.9,1033.5 2200.4,1033.5 2200.8,1033.5 2201.2,1033.5 2201.6,1033.5 2202,1033.5 2202.4,1033.5 2202.8,1033.5 2203.2,1033.5 2203.6,1033.5 2204,1033.5 2204.4,1033.5" fill="none" stroke="#9000ff" stroke-width="7" stroke-linejoin="round" stroke-linecap="round"/>
<path d="M293.1 1134.1a9.9 9.9 0 1 0 19.8 0a9.9 9.9 0 1 0 -19.8 0zM441.5 1031.7a9.9 9.9 0 1 0 19.8 0a9.9 9.9 0 1 0 -19.8 0zM549.7 906.7a9.9 9.9 0 1 0 19.8 0a9.9 9.9 0 1 0 -19.8 0zM635 782.7a9.9 9.9 0 1 0 19.8 0a9.9 9.9 0 1 0 -19.8 0zM705.4 726.8a9.9 9.9 0 1 0 19.8 0a9.9 9.9 0 1 0 -19.8 0zM765.3 807.2a9.9 9.9 0 1 0 19.8 0a9.9 9.9 0 1 0 -19.8 0zM817.4 831.3a9.9 9.9 0 1 0 19.8 0a9.9 9.9 0 1 0 -19.8 0zM863.6 837a9.9 9.9 0 1 0 19.8 0a9.9 9.9 0 1 0 -19.8 0zM905 876.7a9.9 9.9 0 1 0 19.8 0a9.9 9.9 0 1 0 -19.8 0zM942.6 880.8a9.9 9.9 0 1 0 19.8 0a9.9 9.9 0 1 0 -19.8 0zM977 945a9.9 9.9 0 1 0 19.8 0a9.9 9.9 0 1 0 -19.8 0zM1008.6 951.7a9.9 9.9 0 1 0 19.8 0a9.9 9.9 0 1 0 -19.8 0zM1038 953.3a9.9 9.9 0 1 0 19.8 0a9.9 9.9 0 1 0 -19.8 0zM1065.4 961.7a9.9 9.9 0 1 0 19.8 0a9.9 9.9 0 1 0 -19.8 0zM1091 962.5a9.9 9.9 0 1 0 19.8 0a9.9 9.9 0 1 0 -19.8 0zM1115.1 967.5a9.9 9.9 0 1 0 19.8 0a9.9 9.9 0 1 0 -19.8 0zM1137.8 950.8a9.9 9.9 0 1 0 19.8 0a9.9 9.9 0 1 0 -19.8 0zM1159.4 949.7a9.9 9.9 0 1 0 19.8 0a9.9 9.9 0 1 0 -19.8 0zM1179.8 980a9.9 9.9 0 1 0 19.8 0a9.9 9.9 0 1 0 -19.8 0zM1199.3 978.3a9.9 9.9 0 1 0 19.8 0a9.9 9.9 0 1 0 -19.8 0zM1217.8 974.2a9.9 9.9 0 1 0 19.8 0a9.9 9.9 0 1 0 -19.8 0zM1235.6 977.5a9.9 9.9 0 1 0 19.8 0a9.9 9.9 0 1 0 -19.8 0zM1252.6 995a9.9 9.9 0 1 0 19.8 0a9.9 9.9 0 1 0 -19.8 0zM1268.9 988.3a9.9 9.9 0 1 0 19.8 0a9.9 9.9 0 1 0 -19.8 0zM1284.5 1000a9.9 9.9 0 1 0 19.8 0a9.9 9.9 0 1 0 -19.8 0zM1299.6 1011.7a9.9 9.9 0 1 0 19.8 0a9.9 9.9 0 1 0 -19.8 0zM1314.2 1004.2a9.9 9.9 0 1 0 19.8 0a9.9 9.9 0 1 0 -19.8 0zM1328.2 996.7a9.9 9.9 0 1 0 19.8 0a9.9 9.9 0 1 0 -19.8 0zM1341.8 995.8a9.9 9.9 0 1 0 19.8 0a9.9 9.9 0 1 0 -19.8 0zM1354.9 991.7a9.9 9.9 0 1 0 19.8 0a9.9 9.9 0 1 0 -19.8 0zM1367.6 998.3a9.9 9.9 0 1 0 19.8 0a9.9 9.9 0 1 0 -19.8 0zM1379.9 1008.3a9.9 9.9 0 1 0 19.8 0a9.9 9.9 0 1 0 -19.8 0zM1391.9 1009.2a9.9 9.9 0 1 0 19.8 0a9.9 9.9 0 1 0 -19.8 0zM1403.5 1008.3a9.9 9.9 0 1 0 19.8 0a9.9 9.9 0 1 0 -19.8 0zM1414.8 1009.2a9.9 9.9 0 1 0 19.8 0a9.9 9.9 0 1 0 -19.8 0zM1425.8 1010.8a9.9 9.9 0 1 0 19.8 0a9.9 9.9 0 1 0 -19.8 0zM1436.5 1012.5a9.9 9.9 0 1 0 19.8 0a9.9 9.9 0 1 0 -19.8 0zM1446.9 1017.5a9.9 9.9 0 1 0 19.8 0a9.9 9.9 0 1 0 -19.8 0zM1457 1019.8a9.9 9.9 0 1 0 19.8 0a9.9 9.9 0 1 0 -19.8 0zM1466.9 1019.9a9.9 9.9 0 1 0 19.8 0a9.9 9.9 0 1 0 -19.8 0zM1476.6 1016.5a9.9 9.9 0 1 0 19.8 0a9.9 9.9 0 1 0 -19.8 0zM1486.1 1014.6a9.9 9.9 0 1 0 19.8 0a9.9 9.9 0 1 0 -19.8 0zM1495.3 1013.5a9.9 9.9 0 1 0 19.8 0a9.9 9.9 0 1 0 -19.8 0zM1504.3 1015.7a9.9 9.9 0 1 0 19.8 0a9.9 9.9 0 1 0 -19.8 0zM1513.1 1018.6a9.9 9.9 0 1 0 19.8 0a9.9 9.9 0 1 0 -19.8 0zM1521.8 1020a9.9 9.9 0 1 0 19.8 0a9.9 9.9 0 1 0 -19.8 0zM1530.2 1017.7a9.9 9.9 0 1 0 19.8 0a9.9 9.9 0 1 0 -19.8 0zM1538.5 1015.5a9.9 9.9 0 1 0 19.8 0a9.9 9.9 0 1 0 -19.8 0zM1546.6 1016.6a9.9 9.9 0 1 0 19.8 0a9.9 9.9 0 1 0 -19.8 0zM1554.5 1017.7a9.9 9.9 0 1 0 19.8 0a9.9 9.9 0 1 0 -19.8 0zM1562.3 1021.1a9.9 9.9 0 1 0 19.8 0a9.9 9.9 0 1 0 -19.8 0zM1570 1024.5a9.9 9.9 0 1 0 19.8 0a9.9 9.9 0 1 0 -19.8 0zM1577.5 1027.8a9.9 9.9 0 1 0 19.8 0a9.9 9.9 0 1 0 -19.8 0zM1584.9 1031.1a9.9 9.9 0 1 0 19.8 0a9.9 9.9 0 1 0 -19.8 0zM1592.1 1030.7a9.9 9.9 0 1 0 19.8 0a9.9 9.9 0 1 0 -19.8 0zM1599.2 1030.1a9.9 9.9 0 1 0 19.8 0a9.9 9.9 0 1 0 -19.8 0zM1606.2 1029.4a9.9 9.9 0 1 0 19.8 0a9.9 9.9 0 1 0 -19.8 0zM1613.1 1028.7a9.9 9.9 0 1 0 19.8 0a9.9 9.9 0 1 0 -19.8 0zM1619.8 1027.3a9.9 9.9 0 1 0 19.8 0a9.9 9.9 0 1 0 -19.8 0zM1626.5 1025.8a9.9 9.9 0 1 0 19.8 0a9.9 9.9 0 1 0 -19.8 0zM1633 1024.4a9.9 9.9 0 1 0 19.8 0a9.9 9.9 0 1 0 -19.8 0zM1639.4 1023.4a9.9 9.9 0 1 0 19.8 0a9.9 9.9 0 1 0 -19.8 0zM1645.8 1024.5a9.9 9.9 0 1 0 19.8 0a9.9 9.9 0 1 0 -19.8 0zM1652 1025.5a9.9 9.9 0 1 0 19.8 0a9.9 9.9 0 1 0 -19.8 0zM1658.2 1026.6a9.9 9.9 0 1 0 19.8 0a9.9 9.9 0 1 0 -19.8 0zM1664.2 1027.7a9.9 9.9 0 1 0 19.8 0a9.9 9.9 0 1 0 -19.8 0zM1670.2 1029.2a9.9 9.9 0 1 0 19.8 0a9.9 9.9 0 1 0 -19.8 0zM1676 1030.6a9.9 9.9 0 1 0 19.8 0a9.9 9.9 0 1 0 -19.8 0zM1681.8 1032.1a9.9 9.9 0 1 0 19.8 0a9.9 9.9 0 1 0 -19.8 0zM1687.5 1033.5a9.9 9.9 0 1 0 19.8 0a9.9 9.9 0 1 0 -19.8 0zM1693.1 1032.9a9.9 9.9 0 1 0 19.8 0a9.9 9.9 0 1 0 -19.8 0zM1698.7 1031.9a9.9 9.9 0 1 0 19.8 0a9.9 9.9 0 1 0 -19.8 0zM1704.2 1031a9.9 9.9 0 1 0 19.8 0a9.9 9.9 0 1 0 -19.8 0zM1709.6 1030a9.9 9.9 0 1 0 19.8 0a9.9 9.9 0 1 0 -19.8 0zM1714.9 1029a9.9 9.9 0 1 0 19.8 0a9.9 9.9 0 1 0 -19.8 0zM1720.1 1028a9.9 9.9 0 1 0 19.8 0a9.9 9.9 0 1 0 -19.8 0zM1725.3 1028a9.9 9.9 0 1 0 19.8 0a9.9 9.9 0 1 0 -19.8 0zM1730.5 1028.3a9.9 9.9 0 1 0 19.8 0a9.9 9.9 0 1 0 -19.8 0zM1735.5 1028.7a9.9 9.9 0 1 0 19.8 0a9.9 9.9 0 1 0 -19.8 0zM1740.5 1029a9.9 9.9 0 1 0 19.8 0a9.9 9.9 0 1 0 -19.8 0zM1745.5 1029.4a9.9 9.9 0 1 0 19.8 0a9.9 9.9 0 1 0 -19.8 0zM1750.3 1029.9a9.9 9.9 0 1 0 19.8 0a9.9 9.9 0 1 0 -19.8 0zM1755.2 1030.6a9.9 9.9 0 1 0 19.8 0a9.9 9.9 0 1 0 -19.8 0zM1759.9 1031.2a9.9 9.9 0 1 0 19.8 0a9.9 9.9 0 1 0 -19.8 0zM1764.6 1031.7a9.9 9.9 0 1 0 19.8 0a9.9 9.9 0 1 0 -19.8 0zM1769.3 1032.3a9.9 9.9 0 1 0 19.8 0a9.9 9.9 0 1 0 -19.8 0zM1773.9 1032.9a9.9 9.9 0 1 0 19.8 0a9.9 9.9 0 1 0 -19.8 0zM1778.4 1033.5a9.9 9.9 0 1 0 19.8 0a9.9 9.9 0 1 0 -19.8 0zM1782.9 1033.4a9.9 9.9 0 1 0 19.8 0a9.9 9.9 0 1 0 -19.8 0zM1787.4 1032.9a9.9 9.9 0 1 0 19.8 0a9.9 9.9 0 1 0 -19.8 0zM1791.8 1032.5a9.9 9.9 0 1 0 19.8 0a9.9 9.9 0 1 0 -19.8 0zM1796.1 1032a9.9 9.9 0 1 0 19.8 0a9.9 9.9 0 1 0 -19.8 0zM1800.4 1031.6a9.9 9.9 0 1 0 19.8 0a9.9 9.9 0 1 0 -19.8 0zM1804.7 1031.2a9.9 9.9 0 1 0 19.8 0a9.9 9.9 0 1 0 -19.8 0zM1808.9 1030.8a9.9 9.9 0 1 0 19.8 0a9.9 9.9 0 1 0 -19.8 0zM1813.1 1030.9a9.9 9.9 0 1 0 19.8 0a9.9 9.9 0 1 0 -19.8 0zM1817.2 1030.9a9.9 9.9 0 1 0 19.8 0a9.9 9.9 0 1 0 -19.8 0zM1821.3 1031a9.9 9.9 0 1 0 19.8 0a9.9 9.9 0 1 0 -19.8 0zM1825.3 1031.3a9.9 9.9 0 1 0 19.8 0a9.9 9.9 0 1 0 -19.8 0zM1829.3 1031.6a9.9 9.9 0 1 0 19.8 0a9.9 9.9 0 1 0 -19.8 0zM1833.3 1032a9.9 9.9 0 1 0 19.8 0a9.9 9.9 0 1 0 -19.8 0zM1837.2 1032.3a9.9 9.9 0 1 0 19.8 0a9.9 9.9 0 1 0 -19.8 0zM1841.1 1032.7a9.9 9.9 0 1 0 19.8 0a9.9 9.9 0 1 0 -19.8 0zM1845 1033a9.9 9.9 0 1 0 19.8 0a9.9 9.9 0 1 0 -19.8 0zM1848.8 1033.3a9.9 9.9 0 1 0 19.8 0a9.9 9.9 0 1 0 -19.8 0zM1852.6 1033.7a9.9 9.9 0 1 0 19.8 0a9.9 9.9 0 1 0 -19.8 0zM1856.3 1033.8a9.9 9.9 0 1 0 19.8 0a9.9 9.9 0 1 0 -19.8 0zM1860 1033.7a9.9 9.9 0 1 0 19.8 0a9.9 9.9 0 1 0 -19.8 0zM1863.7 1033.5a9.9 9.9 0 1 0 19.8 0a9.9 9.9 0 1 0 -19.8 0zM1867.3 1033.3a9.9 9.9 0 1 0 19.8 0a9.9 9.9 0 1 0 -19.8 0zM1870.9 1033.1a9.9 9.9 0 1 0 19.8 0a9.9 9.9 0 1 0 -19.8 0zM1874.5 1033a9.9 9.9 0 1 0 19.8 0a9.9 9.9 0 1 0 -19.8 0zM1878.1 1032.8a9.9 9.9 0 1 0 19.8 0a9.9 9.9 0 1 0 -19.8 0zM1881.6 1032.6a9.9 9.9 0 1 0 19.8 0a9.9 9.9 0 1 0 -19.8 0zM1885.1 1032.5a9.9 9.9 0 1 0 19.8 0a9.9 9.9 0 1 0 -19.8 0zM1888.5 1032.3a9.9 9.9 0 1 0 19.8 0a9.9 9.9 0 1 0 -19.8 0zM1892 1032.1a9.9 9.9 0 1 0 19.8 0a9.9 9.9 0 1 0 -19.8 0zM1895.4 1032a9.9 9.9 0 1 0 19.8 0a9.9 9.9 0 1 0 -19.8 0zM1898.7 1032.1a9.9 9.9 0 1 0 19.8 0a9.9 9.9 0 1 0 -19.8 0zM1902.1 1032.2a9.9 9.9 0 1 0 19.8 0a9.9 9.9 0 1 0 -19.8 0zM1905.4 1032.2a9.9 9.9 0 1 0 19.8 0a9.9 9.9 0 1 0 -19.8 0zM1908.7 1032.3a9.9 9.9 0 1 0 19.8 0a9.9 9.9 0 1 0 -19.8 0zM1911.9 1032.4a9.9 9.9 0 1 0 19.8 0a9.9 9.9 0 1 0 -19.8 0zM1915.2 1032.5a9.9 9.9 0 1 0 19.8 0a9.9 9.9 0 1 0 -19.8 0zM1918.4 1032.5a9.9 9.9 0 1 0 19.8 0a9.9 9.9 0 1 0 -19.8 0zM1921.6 1032.6a9.9 9.9 0 1 0 19.8 0a9.9 9.9 0 1 0 -19.8 0zM1924.7 1032.7a9.9 9.9 0 1 0 19.8 0a9.9 9.9 0 1 0 -19.8 0zM1927.9 1032.8a9.9 9.9 0 1 0 19.8 0a9.9 9.9 0 1 0 -19.8 0zM1931 1032.8a9.9 9.9 0 1 0 19.8 0a9.9 9.9 0 1 0 -19.8 0zM1934.1 1032.9a9.9 9.9 0 1 0 19.8 0a9.9 9.9 0 1 0 -19.8 0zM1937.1 1033a9.9 9.9 0 1 0 19.8 0a9.9 9.9 0 1 0 -19.8 0zM1940.2 1033a9.9 9.9 0 1 0 19.8 0a9.9 9.9 0 1 0 -19.8 0zM1943.2 1033a9.9 9.9 0 1 0 19.8 0a9.9 9.9 0 1 0 -19.8 0zM1946.2 1032.9a9.9 9.9 0 1 0 19.8 0a9.9 9.9 0 1 0 -19.8 0zM1949.1 1032.9a9.9 9.9 0 1 0 19.8 0a9.9 9.9 0 1 0 -19.8 0zM1952.1 1032.9a9.9 9.9 0 1 0 19.8 0a9.9 9.9 0 1 0 -19.8 0zM1955 1032.8a9.9 9.9 0 1 0 19.8 0a9.9 9.9 0 1 0 -19.8 0zM1957.9 1032.8a9.9 9.9 0 1 0 19.8 0a9.9 9.9 0 1 0 -19.8 0zM1960.8 1032.8a9.9 9.9 0 1 0 19.8 0a9.9 9.9 0 1 0 -19.8 0zM1963.7 1032.8a9.9 9.9 0 1 0 19.8 0a9.9 9.9 0 1 0 -19.8 0zM1966.5 1032.7a9.9 9.9 0 1 0 19.8 0a9.9 9.9 0 1 0 -19.8 0zM1969.4 1032.7a9.9 9.9 0 1 0 19.8 0a9.9 9.9 0 1 0 -19.8 0zM1972.2 1032.7a9.9 9.9 0 1 0 19.8 0a9.9 9.9 0 1 0 -19.8 0zM1975 1032.6a9.9 9.9 0 1 0 19.8 0a9.9 9.9 0 1 0 -19.8 0zM1977.7 1032.6a9.9 9.9 0 1 0 19.8 0a9.9 9.9 0 1 0 -19.8 0zM1980.5 1032.6a9.9 9.9 0 1 0 19.8 0a9.9 9.9 0 1 0 -19.8 0zM1983.2 1032.6a9.9 9.9 0 1 0 19.8 0a9.9 9.9 0 1 0 -19.8 0zM1985.9 1032.6a9.9 9.9 0 1 0 19.8 0a9.9 9.9 0 1 0 -19.8 0zM1988.6 1032.6a9.9 9.9 0 1 0 19.8 0a9.9 9.9 0 1 0 -19.8 0zM1991.3 1032.6a9.9 9.9 0 1 0 19.8 0a9.9 9.9 0 1 0 -19.8 0zM1994 1032.6a9.9 9.9 0 1 0 19.8 0a9.9 9.9 0 1 0 -19.8 0zM1996.6 1032.6a9.9 9.9 0 1 0 19.8 0a9.9 9.9 0 1 0 -19.8 0zM1999.2 1032.6a9.9 9.9 0 1 0 19.8 0a9.9 9.9 0 1 0 -19.8 0zM2001.8 1032.6a9.9 9.9 0 1 0 19.8 0a9.9 9.9 0 1 0 -19.8 0zM2004.4 1032.6a9.9 9.9 0 1 0 19.8 0a9.9 9.9 0 1 0 -19.8 0zM2007 1032.6a9.9 9.9 0 1 0 19.8 0a9.9 9.9 0 1 0 -19.8 0zM2009.6 1032.6a9.9 9.9 0 1 0 19.8 0a9.9 9.9 0 1 0 -19.8 0zM2012.1 1032.6a9.9 9.9 0 1 0 19.8 0a9.9 9.9 0 1 0 -19.8 0zM2014.6 1032.6a9.9 9.9 0 1 0 19.8 0a9.9 9.9 0 1 0 -19.8 0zM2017.1 1032.6a9.9 9.9 0 1 0 19.8 0a9.9 9.9 0 1 0 -19.8 0zM2019.6 1032.6a9.9 9.9 0 1 0 19.8 0a9.9 9.9 0 1 0 -19.8 0zM2022.1 1032.6a9.9 9.9 0 1 0 19.8 0a9.9 9.9 0 1 0 -19.8 0zM2024.6 1032.6a9.9 9.9 0 1 0 19.8 0a9.9 9.9 0 1 0 -19.8 0zM2027 1032.6a9.9 9.9 0 1 0 19.8 0a9.9 9.9 0 1 0 -19.8 0zM2029.5 1032.6a9.9 9.9 0 1 0 19.8 0a9.9 9.9 0 1 0 -19.8 0zM2031.9 1032.6a9.9 9.9 0 1 0 19.8 0a9.9 9.9 0 1 0 -19.8 0zM2034.3 1032.6a9.9 9.9 0 1 0 19.8 0a9.9 9.9 0 1 0 -19.8 0zM2036.7 1032.6a9.9 9.9 0 1 0 19.8 0a9.9 9.9 0 1 0 -19.8 0zM2039.1 1032.6a9.9 9.9 0 1 0 19.8 0a9.9 9.9 0 1 0 -19.8 0zM2041.4 1032.6a9.9 9.9 0 1 0 19.8 0a9.9 9.9 0 1 0 -19.8 0zM2043.8 1032.6a9.9 9.9 0 1 0 19.8 0a9.9 9.9 0 1 0 -19.8 0zM2046.1 1032.6a9.9 9.9 0 1 0 19.8 0a9.9 9.9 0 1 0 -19.8 0zM2048.4 1032.6a9.9 9.9 0 1 0 19.8 0a9.9 9.9 0 1 0 -19.8 0zM2050.7 1032.6a9.9 9.9 0 1 0 19.8 0a9.9 9.9 0 1 0 -19.8 0zM2053 1032.7a9.9 9.9 0 1 0 19.8 0a9.9 9.9 0 1 0 -19.8 0zM2055.3 1032.7a9.9 9.9 0 1 0 19.8 0a9.9 9.9 0 1 0 -19.8 0zM2057.6 1032.7a9.9 9.9 0 1 0 19.8 0a9.9 9.9 0 1 0 -19.8 0zM2059.8 1032.7a9.9 9.9 0 1 0 19.8 0a9.9 9.9 0 1 0 -19.8 0zM2062.1 1032.7a9.9 9.9 0 1 0 19.8 0a9.9 9.9 0 1 0 -19.8 0zM2064.3 1032.7a9.9 9.9 0 1 0 19.8 0a9.9 9.9 0 1 0 -19.8 0zM2066.5 1032.7a9.9 9.9 0 1 0 19.8 0a9.9 9.9 0 1 0 -19.8 0zM2068.7 1032.8a9.9 9.9 0 1 0 19.8 0a9.9 9.9 0 1 0 -19.8 0zM2070.9 1032.8a9.9 9.9 0 1 0 19.8 0a9.9 9.9 0 1 0 -19.8 0zM2073.1 1032.8a9.9 9.9 0 1 0 19.8 0a9.9 9.9 0 1 0 -19.8 0zM2075.3 1032.8a9.9 9.9 0 1 0 19.8 0a9.9 9.9 0 1 0 -19.8 0zM2077.5 1032.8a9.9 9.9 0 1 0 19.8 0a9.9 9.9 0 1 0 -19.8 0zM2079.6 1032.8a9.9 9.9 0 1 0 19.8 0a9.9 9.9 0 1 0 -19.8 0zM2081.7 1032.8a9.9 9.9 0 1 0 19.8 0a9.9 9.9 0 1 0 -19.8 0zM2083.9 1032.8a9.9 9.9 0 1 0 19.8 0a9.9 9.9 0 1 0 -19.8 0zM2086 1032.9a9.9 9.9 0 1 0 19.8 0a9.9 9.9 0 1 0 -19.8 0zM2088.1 1032.9a9.9 9.9 0 1 0 19.8 0a9.9 9.9 0 1 0 -19.8 0zM2090.2 1032.9a9.9 9.9 0 1 0 19.8 0a9.9 9.9 0 1 0 -19.8 0zM2092.3 1032.9a9.9 9.9 0 1 0 19.8 0a9.9 9.9 0 1 0 -19.8 0zM2094.3 1032.9a9.9 9.9 0 1 0 19.8 0a9.9 9.9 0 1 0 -19.8 0zM2096.4 1032.9a9.9 9.9 0 1 0 19.8 0a9.9 9.9 0 1 0 -19.8 0zM2098.5 1032.9a9.9 9.9 0 1 0 19.8 0a9.9 9.9 0 1 0 -19.8 0zM2100.5 1032.9a9.9 9.9 0 1 0 19.8 0a9.9 9.9 0 1 0 -19.8 0zM2102.5 1033a9.9 9.9 0 1 0 19.8 0a9.9 9.9 0 1 0 -19.8 0zM2104.6 1033a9.9 9.9 0 1 0 19.8 0a9.9 9.9 0 1 0 -19.8 0zM2106.6 1033a9.9 9.9 0 1 0 19.8 0a9.9 9.9 0 1 0 -19.8 0zM2108.6 1033a9.9 9.9 0 1 0 19.8 0a9.9 9.9 0 1 0 -19.8 0zM2110.6 1033a9.9 9.9 0 1 0 19.8 0a9.9 9.9 0 1 0 -19.8 0zM2112.5 1033a9.9 9.9 0 1 0 19.8 0a9.9 9.9 0 1 0 -19.8 0zM2114.5 1033a9.9 9.9 0 1 0 19.8 0a9.9 9.9 0 1 0 -19.8 0zM2116.5 1033a9.9 9.9 0 1 0 19.8 0a9.9 9.9 0 1 0 -19.8 0zM2118.4 1033a9.9 9.9 0 1 0 19.8 0a9.9 9.9 0 1 0 -19.8 0zM2120.4 1033.1a9.9 9.9 0 1 0 19.8 0a9.9 9.9 0 1 0 -19.8 0zM2122.3 1033.1a9.9 9.9 0 1 0 19.8 0a9.9 9.9 0 1 0 -19.8 0zM2124.2 1033.1a9.9 9.9 0 1 0 19.8 0a9.9 9.9 0 1 0 -19.8 0zM2126.1 1033.1a9.9 9.9 0 1 0 19.8 0a9.9 9.9 0 1 0 -19.8 0zM2128 1033.1a9.9 9.9 0 1 0 19.8 0a9.9 9.9 0 1 0 -19.8 0zM2129.9 1033.1a9.9 9.9 0 1 0 19.8 0a9.9 9.9 0 1 0 -19.8 0zM2131.8 1033.1a9.9 9.9 0 1 0 19.8 0a9.9 9.9 0 1 0 -19.8 0zM2133.7 1033.1a9.9 9.9 0 1 0 19.8 0a9.9 9.9 0 1 0 -19.8 0zM2135.6 1033.2a9.9 9.9 0 1 0 19.8 0a9.9 9.9 0 1 0 -19.8 0zM2137.4 1033.2a9.9 9.9 0 1 0 19.8 0a9.9 9.9 0 1 0 -19.8 0zM2139.3 1033.2a9.9 9.9 0 1 0 19.8 0a9.9 9.9 0 1 0 -19.8 0zM2141.1 1033.2a9.9 9.9 0 1 0 19.8 0a9.9 9.9 0 1 0 -19.8 0zM2143 1033.2a9.9 9.9 0 1 0 19.8 0a9.9 9.9 0 1 0 -19.8 0zM2144.8 1033.2a9.9 9.9 0 1 0 19.8 0a9.9 9.9 0 1 0 -19.8 0zM2146.6 1033.2a9.9 9.9 0 1 0 19.8 0a9.9 9.9 0 1 0 -19.8 0zM2148.4 1033.2a9.9 9.9 0 1 0 19.8 0a9.9 9.9 0 1 0 -19.8 0zM2150.2 1033.2a9.9 9.9 0 1 0 19.8 0a9.9 9.9 0 1 0 -19.8 0zM2152 1033.2a9.9 9.9 0 1 0 19.8 0a9.9 9.9 0 1 0 -19.8 0zM2153.8 1033.3a9.9 9.9 0 1 0 19.8 0a9.9 9.9 0 1 0 -19.8 0zM2155.6 1033.3a9.9 9.9 0 1 0 19.8 0a9.9 9.9 0 1 0 -19.8 0zM2157.4 1033.3a9.9 9.9 0 1 0 19.8 0a9.9 9.9 0 1 0 -19.8 0zM2159.1 1033.3a9.9 9.9 0 1 0 19.8 0a9.9 9.9 0 1 0 -19.8 0zM2160.9 1033.3a9.9 9.9 0 1 0 19.8 0a9.9 9.9 0 1 0 -19.8 0zM2162.6 1033.3a9.9 9.9 0 1 0 19.8 0a9.9 9.9 0 1 0 -19.8 0zM2164.4 1033.3a9.9 9.9 0 1 0 19.8 0a9.9 9.9 0 1 0 -19.8 0zM2166.1 1033.3a9.9 9.9 0 1 0 19.8 0a9.9 9.9 0 1 0 -19.8 0zM2167.8 1033.3a9.9 9.9 0 1 0 19.8 0a9.9 9.9 0 1 0 -19.8 0zM2169.6 1033.4a9.9 9.9 0 1 0 19.8 0a9.9 9.9 0 1 0 -19.8 0zM2171.3 1033.4a9.9 9.9 0 1 0 19.8 0a9.9 9.9 0 1 0 -19.8 0zM2173 1033.4a9.9 9.9 0 1 0 19.8 0a9.9 9.9 0 1 0 -19.8 0zM2174.7 1033.4a9.9 9.9 0 1 0 19.8 0a9.9 9.9 0 1 0 -19.8 0zM2176.4 1033.4a9.9 9.9 0 1 0 19.8 0a9.9 9.9 0 1 0 -19.8 0zM2178 1033.4a9.9 9.9 0 1 0 19.8 0a9.9 9.9 0 1 0 -19.8 0zM2179.7 1033.4a9.9 9.9 0 1 0 19.8 0a9.9 9.9 0 1 0 -19.8 0zM2181.4 1033.4a9.9 9.9 0 1 0 19.8 0a9.9 9.9 0 1 0 -19.8 0zM2183.1 1033.4a9.9 9.9 0 1 0 19.8 0a9.9 9.9 0 1 0 -19.8 0zM2184.7 1033.4a9.9 9.9 0 1 0 19.8 0a9.9 9.9 0 1 0 -19.8 0zM2186.4 1033.5a9.9 9.9 0 1 0 19.8 0a9.9 9.9 0 1 0 -19.8 0zM2188 1033.5a9.9 9.9 0 1 0 19.8 0a9.9 9.9 0 1 0 -19.8 0zM2189.6 1033.5a9.9 9.9 0 1 0 19.8 0a9.9 9.9 0 1 0 -19.8 0zM2191.3 1033.5a9.9 9.9 0 1 0 19.8 0a9.9 9.9 0 1 0 -19.8 0zM2192.9 1033.5a9.9 9.9 0 1 0 19.8 0a9.9 9.9 0 1 0 -19.8 0zM2194.5 1033.5a9.9 9.9 0 1 0 19.8 0a9.9 9.9 0 1 0 -19.8 0z" fill="#9000ff"/>
<polyline points="303,1151.5 345.5,1128 384,1106.7 419.1,1087.5 451.4,1055 481.3,1020 509.1,998.3 535.2,978.3 559.6,920 582.7,893.3 604.5,885 625.2,842.7 644.9,816 663.7,785.2 681.6,778.5 698.8,742.7 715.3,704.3 731.1,668.5 746.3,651.8 761,639.3 775.2,636.8 788.9,641.8 802.1,668.3 814.9,691.7 827.3,712.5 839.4,715 851.1,724.2 862.4,730 873.5,735 884.3,751.7 894.7,763.3 905,771.7 914.9,770 924.7,780 934.2,784.2 943.4,793.3 952.5,813.3 961.4,825 970,829.2 978.5,831.7 986.9,835 995,851.7 1003,870 1010.8,886 1018.5,891.5 1026.1,881 1033.5,871.2 1040.8,868 1047.9,866 1054.9,871 1061.8,874.2 1068.6,874.2 1075.3,871.7 1081.8,878.3 1088.3,883.3 1094.6,890 1100.9,900.8 1107.1,900.4 1113.1,900 1119.1,899.6 1125,899.2 1130.8,901.8 1136.5,904.3 1142.2,906.8 1147.7,909.2 1153.2,913.2 1158.7,917.2 1164,921.1 1169.3,925 1174.5,926.5 1179.6,927.9 1184.7,929.4 1189.7,930.8 1194.7,929.1 1199.6,927.5 1204.4,925.8 1209.2,924.2 1213.9,923.8 1218.5,923.3 1223.2,922.9 1227.7,922.5 1232.2,920.6 1236.7,918.7 1241.1,916.8 1245.5,915 1249.8,913.5 1254,912.1 1258.3,910.6 1262.5,909.2 1266.6,909.8 1270.7,910.5 1274.8,911.1 1278.8,911.7 1282.7,913.6 1286.7,915.5 1290.6,917.4 1294.4,919.2 1298.3,921.9 1302.1,924.7 1305.8,927.3 1309.5,930 1313.2,932.1 1316.9,934.2 1320.5,936.3 1324.1,938.3 1327.6,938.1 1331.2,937.9 1334.6,937.7 1338.1,937.5 1341.5,939.4 1345,941.3 1348.3,943.1 1351.7,945 1355,943.3 1358.3,941.6 1361.6,940 1364.8,938.3 1368,938.1 1371.2,937.9 1374.4,937.7 1377.5,937.5 1380.6,937.9 1383.7,938.4 1386.8,938.8 1389.8,939.2 1392.9,940.7 1395.9,942.1 1398.8,943.6 1401.8,945 1404.7,948.4 1407.6,951.7 1410.5,955 1413.4,958.3 1416.3,959.8 1419.1,961.3 1421.9,962.7 1424.7,964.2 1427.5,965.9 1430.2,967.5 1433,969.2 1435.7,970.8 1438.4,970 1441.1,969.1 1443.7,968.3 1446.4,967.5 1449,965.2 1451.6,962.8 1454.2,960.5 1456.8,958.3 1459.4,957.5 1461.9,956.7 1464.4,956 1466.9,955.2 1469.4,954.5 1471.9,953.7 1474.4,953.1 1476.8,952.6 1479.3,952.1 1481.7,951.6 1484.1,951.2 1486.5,950.7 1488.9,950.2 1491.3,950.1 1493.6,950.2 1496,950.3 1498.3,950.4 1500.6,950.5 1502.9,950.6 1505.2,950.7 1507.5,950.9 1509.7,951.3 1512,951.6 1514.2,951.9 1516.4,952.3 1518.6,952.6 1520.8,952.9 1523,953.3 1525.2,954.1 1527.4,954.9 1529.5,955.8 1531.7,956.7 1533.8,957.5 1535.9,958.4 1538,959.2 1540.1,960 1542.2,960.8 1544.3,961.5 1546.3,962.2 1548.4,962.9 1550.4,963.6 1552.5,964.3 1554.5,965 1556.5,965.7 1558.5,966.3 1560.5,966.8 1562.5,967.4 1564.4,967.9 1566.4,968.4 1568.4,969 1570.3,969.5 1572.2,970 1574.2,970.5 1576.1,970.8 1578,971.1 1579.9,971.5 1581.8,971.8 1583.7,972.2 1585.5,972.5 1587.4,972.8 1589.3,973.2 1591.1,973.4 1592.9,973.5 1594.8,973.6 1596.6,973.7 1598.4,973.8 1600.2,973.9 1602,973.9 1603.8,974 1605.6,974.1 1607.4,974.1 1609.1,973.8 1610.9,973.6 1612.6,973.3 1614.4,973 1616.1,972.8 1617.8,972.5 1619.6,972.3 1621.3,972 1623,971.7 1624.7,971.3 1626.4,970.8 1628.1,970.3 1629.7,969.8 1631.4,969.3 1633.1,968.8 1634.7,968.3 1636.4,967.8 1638,967.3 1639.7,966.8 1641.3,966.5 1642.9,966.3 1644.5,966.1 1646.1,965.9 1647.8,965.7 1649.3,965.5 1650.9,965.3 1652.5,965 1654.1,964.8 1655.7,964.6 1657.2,964.7 1658.8,965.1 1660.4,965.5 1661.9,966 1663.5,966.4 1665,966.8 1666.5,967.3 1668.1,967.7 1669.6,968.1 1671.1,968.6 1672.6,969 1674.1,969.5 1675.6,970.1 1677.1,970.7 1678.6,971.3 1680.1,971.9 1681.5,972.5 1683,973 1684.5,973.6 1685.9,974.2 1687.4,974.8 1688.8,975.3 1690.3,975.8 1691.7,976 1693.1,976.1 1694.6,976.3 1696,976.4 1697.4,976.6 1698.8,976.7 1700.2,976.8 1701.6,977 1703,977.1 1704.4,977.3 1705.8,977.4 1707.2,977.5 1708.6,977.5 1710,977.5 1711.3,977.5 1712.7,977.5 1714.1,977.5 1715.4,977.5 1716.8,977.5 1718.1,977.5 1719.5,977.5 1720.8,977.5 1722.1,977.5 1723.5,977.5 1724.8,977.3 1726.1,977.2 1727.4,977.1 1728.7,976.9 1730,976.8 1731.3,976.7 1732.6,976.5 1733.9,976.4 1735.2,976.3 1736.5,976.2 1737.8,976 1739.1,975.9 1740.4,975.7 1741.6,975.4 1742.9,975.1 1744.2,974.9 1745.4,974.6 1746.7,974.3 1747.9,974 1749.2,973.7 1750.4,973.4 1751.7,973.1 1752.9,972.9 1754.1,972.6 1755.4,972.3 1756.6,972 1757.8,971.9 1759,971.9 1760.2,971.8 1761.4,971.8 1762.6,971.7 1763.9,971.7 1765.1,971.6 1766.2,971.5 1767.4,971.5 1768.6,971.4 1769.8,971.4 1771,971.3 1772.2,971.3 1773.3,971.2 1774.5,971.4 1775.7,971.6 1776.9,971.8 1778,972 1779.2,972.3 1780.3,972.5 1781.5,972.7 1782.6,972.9 1783.8,973.1 1784.9,973.3 1786,973.5 1787.2,973.7 1788.3,973.9 1789.4,974.1 1790.6,974.3 1791.7,974.5 1792.8,974.8 1793.9,975 1795,975.2 1796.2,975.4 1797.3,975.6 1798.4,975.9 1799.5,976.1 1800.6,976.3 1801.7,976.5 1802.8,976.7 1803.8,976.9 1804.9,977.1 1806,977.4 1807.1,977.5 1808.2,977.5 1809.2,977.6 1810.3,977.6 1811.4,977.6 1812.5,977.7 1813.5,977.7 1814.6,977.7 1815.6,977.7 1816.7,977.8 1817.7,977.8 1818.8,977.7 1819.8,977.7 1820.9,977.6 1821.9,977.5 1823,977.5 1824,977.4 1825,977.3 1826.1,977.3 1827.1,977.2 1828.1,977.1 1829.1,977.1 1830.2,977 1831.2,976.9 1832.2,976.9 1833.2,976.8 1834.2,976.7 1835.2,976.7 1836.2,976.6 1837.2,976.5 1838.2,976.5 1839.2,976.4 1840.2,976.3 1841.2,976.3 1842.2,976.2 1843.2,976.1 1844.2,976.1 1845.2,976 1846.1,975.9 1847.1,975.9 1848.1,975.8 1849.1,975.8 1850,975.7 1851,975.6 1852,975.6 1852.9,975.5 1853.9,975.4 1854.9,975.4 1855.8,975.3 1856.8,975.2 1857.7,975.2 1858.7,975.1 1859.6,975.1 1860.6,975 1861.5,974.9 1862.5,974.9 1863.4,974.8 1864.3,974.7 1865.3,974.7 1866.2,974.6 1867.1,974.6 1868.1,974.5 1869,974.4 1869.9,974.4 1870.8,974.5 1871.8,974.5 1872.7,974.6 1873.6,974.6 1874.5,974.6 1875.4,974.7 1876.3,974.7 1877.2,974.8 1878.1,974.8 1879,974.9 1880,974.9 1880.8,975 1881.7,975 1882.6,975.1 1883.5,975.1 1884.4,975.2 1885.3,975.2 1886.2,975.2 1887.1,975.3 1888,975.3 1888.9,975.4 1889.7,975.4 1890.6,975.5 1891.5,975.5 1892.4,975.6 1893.2,975.6 1894.1,975.6 1895,975.7 1895.8,975.7 1896.7,975.8 1897.6,975.8 1898.4,975.9 1899.3,975.9 1900.2,976 1901,976 1901.9,976 1902.7,976.1 1903.6,976.1 1904.4,976.2 1905.3,976.2 1906.1,976.3 1907,976.3 1907.8,976.3 1908.6,976.4 1909.5,976.4 1910.3,976.5 1911.1,976.5 1912,976.6 1912.8,976.6 1913.6,976.6 1914.5,976.7 1915.3,976.7 1916.1,976.8 1916.9,976.8 1917.8,976.9 1918.6,976.9 1919.4,976.9 1920.2,977 1921,977 1921.8,977.1 1922.7,977.1 1923.5,977.1 1924.3,977.2 1925.1,977.2 1925.9,977.3 1926.7,977.3 1927.5,977.3 1928.3,977.3 1929.1,977.2 1929.9,977.2 1930.7,977.2 1931.5,977.2 1932.3,977.2 1933.1,977.1 1933.8,977.1 1934.6,977.1 1935.4,977.1 1936.2,977.1 1937,977.1 1937.8,977 1938.5,977 1939.3,977 1940.1,977 1940.9,977 1941.6,976.9 1942.4,976.9 1943.2,976.9 1944,976.9 1944.7,976.9 1945.5,976.9 1946.3,976.8 1947,976.8 1947.8,976.8 1948.5,976.8 1949.3,976.8 1950.1,976.7 1950.8,976.7 1951.6,976.7 1952.3,976.7 1953.1,976.7 1953.8,976.7 1954.6,976.6 1955.3,976.6 1956.1,976.6 1956.8,976.6 1957.6,976.6 1958.3,976.5 1959,976.5 1959.8,976.5 1960.5,976.5 1961.3,976.5 1962,976.5 1962.7,976.4 1963.5,976.4 1964.2,976.4 1964.9,976.4 1965.7,976.4 1966.4,976.4 1967.1,976.3 1967.8,976.3 1968.6,976.3 1969.3,976.3 1970,976.3 1970.7,976.3 1971.4,976.4 1972.2,976.4 1972.9,976.4 1973.6,976.4 1974.3,976.4 1975,976.4 1975.7,976.5 1976.4,976.5 1977.1,976.5 1977.9,976.5 1978.6,976.5 1979.3,976.5 1980,976.6 1980.7,976.6 1981.4,976.6 1982.1,976.6 1982.8,976.6 1983.5,976.6 1984.2,976.7 1984.9,976.7 1985.6,976.7 1986.2,976.7 1986.9,976.7 1987.6,976.7 1988.3,976.8 1989,976.8 1989.7,976.8 1990.4,976.8 1991.1,976.8 1991.7,976.8 1992.4,976.9 1993.1,976.9 1993.8,976.9 1994.5,976.9 1995.1,976.9 1995.8,976.9 1996.5,977 1997.2,977 1997.8,977 1998.5,977 1999.2,977 1999.9,977 2000.5,977.1 2001.2,977.1 2001.9,977.1 2002.5,977.1 2003.2,977.1 2003.9,977.1 2004.5,977.1 2005.2,977.2 2005.8,977.2 2006.5,977.2 2007.2,977.2 2007.8,977.2 2008.5,977.2 2009.1,977.3 2009.8,977.3 2010.4,977.3 2011.1,977.3 2011.7,977.3 2012.4,977.3 2013,977.3 2013.7,977.3 2014.3,977.3 2015,977.3 2015.6,977.3 2016.3,977.3 2016.9,977.3 2017.5,977.3 2018.2,977.3 2018.8,977.3 2019.5,977.3 2020.1,977.3 2020.7,977.3 2021.4,977.3 2022,977.3 2022.6,977.3 2023.3,977.3 2023.9,977.3 2024.5,977.3 2025.2,977.3 2025.8,977.3 2026.4,977.3 2027,977.3 2027.7,977.3 2028.3,977.3 2028.9,977.3 2029.5,977.3 2030.1,977.3 2030.8,977.3 2031.4,977.3 2032,977.3 2032.6,977.3 2033.2,977.3 2033.9,977.3 2034.5,977.3 2035.1,977.3 2035.7,977.3 2036.3,977.3 2036.9,977.3 2037.5,977.3 2038.1,977.3 2038.7,977.3 2039.4,977.3 2040,977.3 2040.6,977.3 2041.2,977.3 2041.8,977.3 2042.4,977.3 2043,977.3 2043.6,977.3 2044.2,977.3 2044.8,977.3 2045.4,977.3 2046,977.3 2046.6,977.3 2047.2,977.3 2047.8,977.3 2048.4,977.3 2049,977.3 2049.5,977.3 2050.1,977.3 2050.7,977.3 2051.3,977.3 2051.9,977.3 2052.5,977.3 2053.1,977.3 2053.7,977.3 2054.3,977.3 2054.8,977.3 2055.4,977.3 2056,977.3 2056.6,977.3 2057.2,977.3 2057.7,977.3 2058.3,977.3 2058.9,977.3 2059.5,977.2 2060.1,977.2 2060.6,977.2 2061.2,977.2 2061.8,977.2 2062.4,977.2 2062.9,977.2 2063.5,977.2 2064.1,977.2 2064.6,977.2 2065.2,977.2 2065.8,977.2 2066.3,977.2 2066.9,977.2 2067.5,977.2 2068,977.2 2068.6,977.2 2069.2,977.2 2069.7,977.2 2070.3,977.2 2070.9,977.2 2071.4,977.2 2072,977.2 2072.5,977.2 2073.1,977.2 2073.7,977.2 2074.2,977.2 2074.8,977.2 2075.3,977.2 2075.9,977.2 2076.4,977.2 2077,977.2 2077.5,977.2 2078.1,977.2 2078.6,977.2 2079.2,977.2 2079.7,977.2 2080.3,977.2 2080.8,977.2 2081.4,977.2 2081.9,977.2 2082.5,977.2 2083,977.2 2083.6,977.2 2084.1,977.2 2084.7,977.2 2085.2,977.2 2085.7,977.2 2086.3,977.2 2086.8,977.2 2087.4,977.2 2087.9,977.2 2088.4,977.2 2089,977.2 2089.5,977.2 2090,977.2 2090.6,977.2 2091.1,977.2 2091.6,977.2 2092.2,977.2 2092.7,977.2 2093.2,977.2 2093.8,977.2 2094.3,977.2 2094.8,977.2 2095.4,977.2 2095.9,977.2 2096.4,977.2 2096.9,977.2 2097.5,977.2 2098,977.2 2098.5,977.2 2099,977.2 2099.6,977.2 2100.1,977.2 2100.6,977.2 2101.1,977.2 2101.7,977.2 2102.2,977.2 2102.7,977.2 2103.2,977.2 2103.7,977.2 2104.2,977.2 2104.8,977.2 2105.3,977.2 2105.8,977.2 2106.3,977.2 2106.8,977.2 2107.3,977.2 2107.8,977.2 2108.4,977.2 2108.9,977.2 2109.4,977.2 2109.9,977.2 2110.4,977.2 2110.9,977.2 2111.4,977.2 2111.9,977.2 2112.4,977.2 2112.9,977.2 2113.4,977.2 2113.9,977.2 2114.5,977.2 2115,977.2 2115.5,977.2 2116,977.2 2116.5,977.2 2117,977.2 2117.5,977.2 2118,977.2 2118.5,977.2 2119,977.2 2119.5,977.2 2120,977.2 2120.5,977.2 2120.9,977.2 2121.4,977.2 2121.9,977.2 2122.4,977.2 2122.9,977.2 2123.4,977.2 2123.9,977.2 2124.4,977.2 2124.9,977.2 2125.4,977.2 2125.9,977.2 2126.4,977.2 2126.9,977.2 2127.3,977.2 2127.8,977.2 2128.3,977.2 2128.8,977.2 2129.3,977.2 2129.8,977.2 2130.3,977.2 2130.7,977.2 2131.2,977.2 2131.7,977.2 2132.2,977.2 2132.7,977.2 2133.2,977.2 2133.6,977.2 2134.1,977.2 2134.6,977.2 2135.1,977.2 2135.6,977.2 2136,977.2 2136.5,977.2 2137,977.2 2137.5,977.2 2137.9,977.2 2138.4,977.2 2138.9,977.2 2139.4,977.2 2139.8,977.2 2140.3,977.2 2140.8,977.2 2141.3,977.2 2141.7,977.2 2142.2,977.2 2142.7,977.2 2143.1,977.2 2143.6,977.2 2144.1,977.2 2144.5,977.2 2145,977.2 2145.5,977.2 2145.9,977.2 2146.4,977.2 2146.9,977.2 2147.3,977.2 2147.8,977.2 2148.3,977.2 2148.7,977.2 2149.2,977.2 2149.6,977.2 2150.1,977.2 2150.6,977.2 2151,977.2 2151.5,977.2 2152,977.2 2152.4,977.2 2152.9,977.2 2153.3,977.2 2153.8,977.2 2154.2,977.2 2154.7,977.2 2155.2,977.2 2155.6,977.2 2156.1,977.1 2156.5,977.1 2157,977.1 2157.4,977.1 2157.9,977.1 2158.3,977.1 2158.8,977.1 2159.2,977.1 2159.7,977.1 2160.1,977.1 2160.6,977.1 2161,977.1 2161.5,977.1 2161.9,977.1 2162.4,977.1 2162.8,977.1 2163.3,977.1 2163.7,977.1 2164.2,977.1 2164.6,977.1 2165.1,977.1 2165.5,977.1 2165.9,977.1 2166.4,977.1 2166.8,977.1 2167.3,977.1 2167.7,977.1 2168.2,977.1 2168.6,977.1 2169,977.1 2169.5,977.1 2169.9,977.1 2170.3,977.1 2170.8,977.1 2171.2,977.1 2171.7,977.1 2172.1,977.1 2172.5,977.1 2173,977.1 2173.4,977.1 2173.8,977.1 2174.3,977.1 2174.7,977.1 2175.1,977.1 2175.6,977.1 2176,977.1 2176.4,977.1 2176.9,977.1 2177.3,977.1 2177.7,977.1 2178.2,977.1 2178.6,977.1 2179,977.1 2179.5,977.1 2179.9,977.1 2180.3,977.1 2180.7,977.1 2181.2,977.1 2181.6,977.1 2182,977.1 2182.4,977.1 2182.9,977.1 2183.3,977.1 2183.7,977.1 2184.1,977.1 2184.6,977.1 2185,977.1 2185.4,977.1 2185.8,977.1 2186.3,977.1 2186.7,977.1 2187.1,977.1 2187.5,977.1 2187.9,977.1 2188.4,977.1 2188.8,977.1 2189.2,977.1 2189.6,977.1 2190,977.1 2190.5,977.1 2190.9,977.1 2191.3,977.1 2191.7,977.1 2192.1,977.1 2192.5,977.1 2193,977.1 2193.4,977.1 2193.8,977.1 2194.2,977.1 2194.6,977.1 2195,977.1 2195.4,977.1 2195.8,977.1 2196.3,977.1 2196.7,977.1 2197.1,977.1 2197.5,977.1 2197.9,977.1 2198.3,977.1 2198.7,977.1 2199.1,977.1 2199.5,977.1 2199.9,977.1 2200.4,977.1 2200.8,977.1 2201.2,977.1 2201.6,977.1 2202,977.1 2202.4,977.1 2202.8,977.1 2203.2,977.1 2203.6,977.1 2204,977.1 2204.4,977.1" fill="none" stroke="#0000ff" stroke-width="7" stroke-linejoin="round" stroke-linecap="round"/>
<path d="M303 1138.2l11.5 20h-23zM451.4 1041.7l11.5 20h-23zM559.6 906.7l11.5 20h-23zM644.9 802.7l11.5 20h-23zM715.3 691l11.5 20h-23zM775.2 623.5l11.5 20h-23zM827.3 699.2l11.5 20h-23zM873.5 721.7l11.5 20h-23zM914.9 756.7l11.5 20h-23zM952.5 800l11.5 20h-23zM986.9 821.7l11.5 20h-23zM1018.5 878.2l11.5 20h-23zM1047.9 852.7l11.5 20h-23zM1075.3 858.4l11.5 20h-23zM1100.9 887.5l11.5 20h-23zM1125 885.9l11.5 20h-23zM1147.7 895.9l11.5 20h-23zM1169.3 911.7l11.5 20h-23zM1189.7 917.5l11.5 20h-23zM1209.2 910.9l11.5 20h-23zM1227.7 909.2l11.5 20h-23zM1245.5 901.7l11.5 20h-23zM1262.5 895.9l11.5 20h-23zM1278.8 898.4l11.5 20h-23zM1294.4 905.9l11.5 20h-23zM1309.5 916.7l11.5 20h-23zM1324.1 925l11.5 20h-23zM1338.1 924.2l11.5 20h-23zM1351.7 931.7l11.5 20h-23zM1364.8 925l11.5 20h-23zM1377.5 924.2l11.5 20h-23zM1389.8 925.9l11.5 20h-23zM1401.8 931.7l11.5 20h-23zM1413.4 945l11.5 20h-23zM1424.7 950.9l11.5 20h-23zM1435.7 957.5l11.5 20h-23zM1446.4 954.2l11.5 20h-23zM1456.8 945l11.5 20h-23zM1466.9 941.9l11.5 20h-23zM1476.8 939.3l11.5 20h-23zM1486.5 937.4l11.5 20h-23zM1496 937l11.5 20h-23zM1505.2 937.4l11.5 20h-23zM1514.2 938.6l11.5 20h-23zM1523 940l11.5 20h-23zM1531.7 943.4l11.5 20h-23zM1540.1 946.7l11.5 20h-23zM1548.4 949.6l11.5 20h-23zM1556.5 952.4l11.5 20h-23zM1564.4 954.6l11.5 20h-23zM1572.2 956.7l11.5 20h-23zM1579.9 958.2l11.5 20h-23zM1587.4 959.5l11.5 20h-23zM1594.8 960.3l11.5 20h-23zM1602 960.6l11.5 20h-23zM1609.1 960.5l11.5 20h-23zM1616.1 959.5l11.5 20h-23zM1623 958.4l11.5 20h-23zM1629.7 956.5l11.5 20h-23zM1636.4 954.5l11.5 20h-23zM1642.9 953l11.5 20h-23zM1649.3 952.2l11.5 20h-23zM1655.7 951.3l11.5 20h-23zM1661.9 952.7l11.5 20h-23zM1668.1 954.4l11.5 20h-23zM1674.1 956.2l11.5 20h-23zM1680.1 958.6l11.5 20h-23zM1685.9 960.9l11.5 20h-23zM1691.7 962.7l11.5 20h-23zM1697.4 963.3l11.5 20h-23zM1703 963.8l11.5 20h-23zM1708.6 964.2l11.5 20h-23zM1714.1 964.2l11.5 20h-23zM1719.5 964.2l11.5 20h-23zM1724.8 964l11.5 20h-23zM1730 963.5l11.5 20h-23zM1735.2 963l11.5 20h-23zM1740.4 962.4l11.5 20h-23zM1745.4 961.3l11.5 20h-23zM1750.4 960.1l11.5 20h-23zM1755.4 959l11.5 20h-23zM1760.2 958.5l11.5 20h-23zM1765.1 958.3l11.5 20h-23zM1769.8 958.1l11.5 20h-23zM1774.5 958.1l11.5 20h-23zM1779.2 959l11.5 20h-23zM1783.8 959.8l11.5 20h-23zM1788.3 960.6l11.5 20h-23zM1792.8 961.5l11.5 20h-23zM1797.3 962.3l11.5 20h-23zM1801.7 963.2l11.5 20h-23zM1806 964.1l11.5 20h-23zM1810.3 964.3l11.5 20h-23zM1814.6 964.4l11.5 20h-23zM1818.8 964.4l11.5 20h-23zM1823 964.2l11.5 20h-23zM1827.1 963.9l11.5 20h-23zM1831.2 963.6l11.5 20h-23zM1835.2 963.4l11.5 20h-23zM1839.2 963.1l11.5 20h-23zM1843.2 962.8l11.5 20h-23zM1847.1 962.6l11.5 20h-23zM1851 962.3l11.5 20h-23zM1854.9 962.1l11.5 20h-23zM1858.7 961.8l11.5 20h-23zM1862.5 961.6l11.5 20h-23zM1866.2 961.3l11.5 20h-23zM1869.9 961.1l11.5 20h-23zM1873.6 961.3l11.5 20h-23zM1877.2 961.5l11.5 20h-23zM1880.8 961.7l11.5 20h-23zM1884.4 961.9l11.5 20h-23zM1888 962l11.5 20h-23zM1891.5 962.2l11.5 20h-23zM1895 962.4l11.5 20h-23zM1898.4 962.6l11.5 20h-23zM1901.9 962.7l11.5 20h-23zM1905.3 962.9l11.5 20h-23zM1908.6 963.1l11.5 20h-23zM1912 963.3l11.5 20h-23zM1915.3 963.4l11.5 20h-23zM1918.6 963.6l11.5 20h-23zM1921.8 963.8l11.5 20h-23zM1925.1 963.9l11.5 20h-23zM1928.3 964l11.5 20h-23zM1931.5 963.9l11.5 20h-23zM1934.6 963.8l11.5 20h-23zM1937.8 963.7l11.5 20h-23zM1940.9 963.7l11.5 20h-23zM1944 963.6l11.5 20h-23zM1947 963.5l11.5 20h-23zM1950.1 963.4l11.5 20h-23zM1953.1 963.4l11.5 20h-23zM1956.1 963.3l11.5 20h-23zM1959 963.2l11.5 20h-23zM1962 963.2l11.5 20h-23zM1964.9 963.1l11.5 20h-23zM1967.8 963l11.5 20h-23zM1970.7 963l11.5 20h-23zM1973.6 963.1l11.5 20h-23zM1976.4 963.2l11.5 20h-23zM1979.3 963.2l11.5 20h-23zM1982.1 963.3l11.5 20h-23zM1984.9 963.4l11.5 20h-23zM1987.6 963.4l11.5 20h-23zM1990.4 963.5l11.5 20h-23zM1993.1 963.6l11.5 20h-23zM1995.8 963.6l11.5 20h-23zM1998.5 963.7l11.5 20h-23zM2001.2 963.8l11.5 20h-23zM2003.9 963.8l11.5 20h-23zM2006.5 963.9l11.5 20h-23zM2009.1 964l11.5 20h-23zM2011.7 964l11.5 20h-23zM2014.3 964l11.5 20h-23zM2016.9 964l11.5 20h-23zM2019.5 964l11.5 20h-23zM2022 964l11.5 20h-23zM2024.5 964l11.5 20h-23zM2027 964l11.5 20h-23zM2029.5 964l11.5 20h-23zM2032 964l11.5 20h-23zM2034.5 964l11.5 20h-23zM2036.9 964l11.5 20h-23zM2039.4 964l11.5 20h-23zM2041.8 964l11.5 20h-23zM2044.2 964l11.5 20h-23zM2046.6 964l11.5 20h-23zM2049 964l11.5 20h-23zM2051.3 964l11.5 20h-23zM2053.7 964l11.5 20h-23zM2056 964l11.5 20h-23zM2058.3 964l11.5 20h-23zM2060.6 963.9l11.5 20h-23zM2062.9 963.9l11.5 20h-23zM2065.2 963.9l11.5 20h-23zM2067.5 963.9l11.5 20h-23zM2069.7 963.9l11.5 20h-23zM2072 963.9l11.5 20h-23zM2074.2 963.9l11.5 20h-23zM2076.4 963.9l11.5 20h-23zM2078.6 963.9l11.5 20h-23zM2080.8 963.9l11.5 20h-23zM2083 963.9l11.5 20h-23zM2085.2 963.9l11.5 20h-23zM2087.4 963.9l11.5 20h-23zM2089.5 963.9l11.5 20h-23zM2091.6 963.9l11.5 20h-23zM2093.8 963.9l11.5 20h-23zM2095.9 963.9l11.5 20h-23zM2098 963.9l11.5 20h-23zM2100.1 963.9l11.5 20h-23zM2102.2 963.9l11.5 20h-23zM2104.2 963.9l11.5 20h-23zM2106.3 963.9l11.5 20h-23zM2108.4 963.9l11.5 20h-23zM2110.4 963.9l11.5 20h-23zM2112.4 963.9l11.5 20h-23zM2114.5 963.9l11.5 20h-23zM2116.5 963.9l11.5 20h-23zM2118.5 963.9l11.5 20h-23zM2120.5 963.9l11.5 20h-23zM2122.4 963.9l11.5 20h-23zM2124.4 963.9l11.5 20h-23zM2126.4 963.9l11.5 20h-23zM2128.3 963.9l11.5 20h-23zM2130.3 963.9l11.5 20h-23zM2132.2 963.9l11.5 20h-23zM2134.1 963.9l11.5 20h-23zM2136 963.9l11.5 20h-23zM2137.9 963.9l11.5 20h-23zM2139.8 963.9l11.5 20h-23zM2141.7 963.9l11.5 20h-23zM2143.6 963.9l11.5 20h-23zM2145.5 963.9l11.5 20h-23zM2147.3 963.9l11.5 20h-23zM2149.2 963.9l11.5 20h-23zM2151 963.9l11.5 20h-23zM2152.9 963.9l11.5 20h-23zM2154.7 963.9l11.5 20h-23zM2156.5 963.8l11.5 20h-23zM2158.3 963.8l11.5 20h-23zM2160.1 963.8l11.5 20h-23zM2161.9 963.8l11.5 20h-23zM2163.7 963.8l11.5 20h-23zM2165.5 963.8l11.5 20h-23zM2167.3 963.8l11.5 20h-23zM2169 963.8l11.5 20h-23zM2170.8 963.8l11.5 20h-23zM2172.5 963.8l11.5 20h-23zM2174.3 963.8l11.5 20h-23zM2176 963.8l11.5 20h-23zM2177.7 963.8l11.5 20h-23zM2179.5 963.8l11.5 20h-23zM2181.2 963.8l11.5 20h-23zM2182.9 963.8l11.5 20h-23zM2184.6 963.8l11.5 20h-23zM2186.3 963.8l11.5 20h-23zM2187.9 963.8l11.5 20h-23zM2189.6 963.8l11.5 20h-23zM2191.3 963.8l11.5 20h-23zM2193 963.8l11.5 20h-23zM2194.6 963.8l11.5 20h-23zM2196.3 963.8l11.5 20h-23zM2197.9 963.8l11.5 20h-23zM2199.5 963.8l11.5 20h-23zM2201.2 963.8l11.5 20h-23zM2202.8 963.8l11.5 20h-23zM2204.4 963.8l11.5 20h-23z" fill="#0000ff"/>
<polyline points="303,1148.8 345.5,1135 384,1122.5 419.1,1120 451.4,1080 481.3,1025 509.1,1004 535.2,993.3 559.6,931.7 582.7,894 604.5,890 625.2,856 644.9,826 663.7,830.2 681.6,807.7 698.8,771 715.3,747.7 731.1,709.3 746.3,672.7 761,650 775.2,622 788.9,609.6 802.1,608.3 814.9,600 827.3,601 839.4,587.5 851.1,583.3 862.4,590 873.5,601.7 884.3,625 894.7,629 905,640 914.9,653.3 924.7,668.3 934.2,680 943.4,694.2 952.5,708.3 961.4,720 970,732.5 978.5,740.8 986.9,753.3 995,762.5 1003,778.3 1010.8,786.7 1018.5,787.5 1026.1,786.7 1033.5,791.7 1040.8,795 1047.9,793.3 1054.9,799.2 1061.8,800.8 1068.6,800.8 1075.3,800.8 1081.8,801.7 1088.3,806.7 1094.6,818.3 1100.9,826.7 1107.1,838.3 1113.1,850 1119.1,851.7 1125,852.5 1130.8,853.3 1136.5,856.2 1142.2,859.1 1147.7,862 1153.2,862.9 1158.7,863.8 1164,864.6 1169.3,865.5 1174.5,862.8 1179.6,860.2 1184.7,857.6 1189.7,855 1194.7,855.6 1199.6,856.3 1204.4,856.9 1209.2,857.5 1213.9,860.7 1218.5,863.8 1223.2,866.9 1227.7,870 1232.2,867.9 1236.7,865.8 1241.1,863.7 1245.5,861.7 1249.8,855.9 1254,850.1 1258.3,844.4 1262.5,838.8 1266.6,834.8 1270.7,830.8 1274.8,826.9 1278.8,823 1282.7,825.4 1286.7,827.8 1290.6,830.2 1294.4,832.5 1298.3,836.1 1302.1,839.7 1305.8,843.2 1309.5,846.7 1313.2,847.2 1316.9,847.7 1320.5,848.2 1324.1,848.7 1327.6,850.3 1331.2,851.9 1334.6,853.4 1338.1,855 1341.5,859.6 1345,864.2 1348.3,868.8 1351.7,873.3 1355,874.4 1358.3,875.4 1361.6,876.5 1364.8,877.5 1368,880 1371.2,882.5 1374.4,885 1377.5,887.5 1380.6,889 1383.7,890.4 1386.8,891.9 1389.8,893.3 1392.9,894.4 1395.9,895.4 1398.8,896.5 1401.8,897.5 1404.7,898.6 1407.6,899.6 1410.5,900.7 1413.4,901.7 1416.3,900.8 1419.1,900 1421.9,899.1 1424.7,898.3 1427.5,898.1 1430.2,897.9 1433,897.7 1435.7,897.5 1438.4,899 1441.1,900.4 1443.7,901.9 1446.4,903.3 1449,906.3 1451.6,909.2 1454.2,912.2 1456.8,915 1459.4,913.5 1461.9,912.1 1464.4,910.7 1466.9,909.3 1469.4,907.9 1471.9,906.6 1474.4,905.7 1476.8,905.5 1479.3,905.2 1481.7,905 1484.1,904.8 1486.5,904.5 1488.9,904.3 1491.3,904.1 1493.6,903.8 1496,903.6 1498.3,903.4 1500.6,903.1 1502.9,902.9 1505.2,902.7 1507.5,902.5 1509.7,902.6 1512,902.7 1514.2,902.7 1516.4,902.8 1518.6,902.9 1520.8,902.9 1523,903 1525.2,903.1 1527.4,903.3 1529.5,903.4 1531.7,903.6 1533.8,903.8 1535.9,903.9 1538,904.1 1540.1,904.2 1542.2,904.7 1544.3,905.2 1546.3,905.8 1548.4,906.3 1550.4,906.8 1552.5,907.3 1554.5,907.8 1556.5,908.2 1558.5,908.7 1560.5,909.1 1562.5,909.5 1564.4,909.9 1566.4,910.3 1568.4,910.7 1570.3,911.1 1572.2,911.5 1574.2,911.8 1576.1,912.1 1578,912.4 1579.9,912.7 1581.8,913 1583.7,913.3 1585.5,913.5 1587.4,913.8 1589.3,914.1 1591.1,914.3 1592.9,914.5 1594.8,914.7 1596.6,914.8 1598.4,915 1600.2,915.2 1602,915.4 1603.8,915.5 1605.6,915.7 1607.4,915.9 1609.1,916 1610.9,916.2 1612.6,916.4 1614.4,916.6 1616.1,916.8 1617.8,916.9 1619.6,917.1 1621.3,917.3 1623,917.5 1624.7,917.3 1626.4,917 1628.1,916.8 1629.7,916.5 1631.4,916.3 1633.1,916 1634.7,915.8 1636.4,915.5 1638,915.3 1639.7,915.1 1641.3,914.9 1642.9,914.9 1644.5,914.8 1646.1,914.7 1647.8,914.6 1649.3,914.6 1650.9,914.5 1652.5,914.4 1654.1,914.3 1655.7,914.2 1657.2,914.2 1658.8,914.2 1660.4,914.2 1661.9,914.2 1663.5,914.2 1665,914.2 1666.5,914.2 1668.1,914.2 1669.6,914.2 1671.1,914.2 1672.6,914.2 1674.1,914.2 1675.6,914.3 1677.1,914.4 1678.6,914.5 1680.1,914.5 1681.5,914.6 1683,914.7 1684.5,914.7 1685.9,914.8 1687.4,914.9 1688.8,914.9 1690.3,915 1691.7,915.1 1693.1,915.2 1694.6,915.2 1696,915.3 1697.4,915.4 1698.8,915.4 1700.2,915.5 1701.6,915.6 1703,915.6 1704.4,915.7 1705.8,915.8 1707.2,915.9 1708.6,916 1710,916.1 1711.3,916.3 1712.7,916.4 1714.1,916.6 1715.4,916.7 1716.8,916.8 1718.1,917 1719.5,917.1 1720.8,917.2 1722.1,917.4 1723.5,917.5 1724.8,917.7 1726.1,917.9 1727.4,918.1 1728.7,918.3 1730,918.5 1731.3,918.7 1732.6,918.9 1733.9,919.1 1735.2,919.3 1736.5,919.5 1737.8,919.7 1739.1,919.9 1740.4,920.1 1741.6,920.2 1742.9,920.4 1744.2,920.6 1745.4,920.8 1746.7,921 1747.9,921.2 1749.2,921.3 1750.4,921.5 1751.7,921.7 1752.9,921.6 1754.1,921.4 1755.4,921.3 1756.6,921.1 1757.8,921 1759,920.9 1760.2,920.7 1761.4,920.6 1762.6,920.4 1763.9,920.3 1765.1,920.2 1766.2,920 1767.4,919.9 1768.6,919.7 1769.8,919.6 1771,919.5 1772.2,919.3 1773.3,919.2 1774.5,919.2 1775.7,919.1 1776.9,919.1 1778,919.1 1779.2,919 1780.3,919 1781.5,919 1782.6,918.9 1783.8,918.9 1784.9,918.9 1786,918.8 1787.2,918.8 1788.3,918.8 1789.4,918.7 1790.6,918.7 1791.7,918.7 1792.8,918.7 1793.9,918.7 1795,918.7 1796.2,918.7 1797.3,918.7 1798.4,918.7 1799.5,918.7 1800.6,918.7 1801.7,918.7 1802.8,918.7 1803.8,918.7 1804.9,918.7 1806,918.7 1807.1,918.7 1808.2,918.7 1809.2,918.7 1810.3,918.7 1811.4,918.7 1812.5,918.7 1813.5,918.7 1814.6,918.7 1815.6,918.7 1816.7,918.7 1817.7,918.7 1818.8,918.8 1819.8,918.9 1820.9,919 1821.9,919.1 1823,919.3 1824,919.4 1825,919.5 1826.1,919.6 1827.1,919.7 1828.1,919.8 1829.1,919.9 1830.2,920.1 1831.2,920.2 1832.2,920.3 1833.2,920.4 1834.2,920.5 1835.2,920.6 1836.2,920.7 1837.2,920.8 1838.2,920.9 1839.2,921.1 1840.2,921.2 1841.2,921.3 1842.2,921.4 1843.2,921.5 1844.2,921.6 1845.2,921.7 1846.1,921.8 1847.1,921.9 1848.1,922 1849.1,922.2 1850,922.3 1851,922.4 1852,922.5 1852.9,922.6 1853.9,922.7 1854.9,922.8 1855.8,922.9 1856.8,923 1857.7,923.1 1858.7,923.2 1859.6,923.3 1860.6,923.4 1861.5,923.5 1862.5,923.6 1863.4,923.7 1864.3,923.7 1865.3,923.6 1866.2,923.6 1867.1,923.6 1868.1,923.6 1869,923.5 1869.9,923.5 1870.8,923.5 1871.8,923.5 1872.7,923.4 1873.6,923.4 1874.5,923.4 1875.4,923.4 1876.3,923.3 1877.2,923.3 1878.1,923.3 1879,923.3 1880,923.2 1880.8,923.2 1881.7,923.2 1882.6,923.2 1883.5,923.2 1884.4,923.1 1885.3,923.1 1886.2,923.1 1887.1,923.1 1888,923 1888.9,923 1889.7,923 1890.6,923 1891.5,922.9 1892.4,922.9 1893.2,922.9 1894.1,922.9 1895,922.8 1895.8,922.8 1896.7,922.8 1897.6,922.8 1898.4,922.8 1899.3,922.7 1900.2,922.7 1901,922.7 1901.9,922.7 1902.7,922.6 1903.6,922.6 1904.4,922.6 1905.3,922.6 1906.1,922.5 1907,922.5 1907.8,922.5 1908.6,922.5 1909.5,922.5 1910.3,922.4 1911.1,922.4 1912,922.4 1912.8,922.4 1913.6,922.3 1914.5,922.3 1915.3,922.3 1916.1,922.3 1916.9,922.3 1917.8,922.2 1918.6,922.2 1919.4,922.2 1920.2,922.2 1921,922.1 1921.8,922.1 1922.7,922.1 1923.5,922.1 1924.3,922.1 1925.1,922 1925.9,922 1926.7,922 1927.5,922 1928.3,922.1 1929.1,922.1 1929.9,922.1 1930.7,922.1 1931.5,922.1 1932.3,922.2 1933.1,922.2 1933.8,922.2 1934.6,922.2 1935.4,922.3 1936.2,922.3 1937,922.3 1937.8,922.3 1938.5,922.4 1939.3,922.4 1940.1,922.4 1940.9,922.4 1941.6,922.5 1942.4,922.5 1943.2,922.5 1944,922.5 1944.7,922.6 1945.5,922.6 1946.3,922.6 1947,922.6 1947.8,922.7 1948.5,922.7 1949.3,922.7 1950.1,922.7 1950.8,922.7 1951.6,922.8 1952.3,922.8 1953.1,922.8 1953.8,922.8 1954.6,922.9 1955.3,922.9 1956.1,922.9 1956.8,922.9 1957.6,923 1958.3,923 1959,923 1959.8,923 1960.5,923 1961.3,923.1 1962,923.1 1962.7,923.1 1963.5,923.1 1964.2,923.2 1964.9,923.2 1965.7,923.2 1966.4,923.2 1967.1,923.2 1967.8,923.3 1968.6,923.3 1969.3,923.3 1970,923.3 1970.7,923.3 1971.4,923.3 1972.2,923.2 1972.9,923.2 1973.6,923.2 1974.3,923.2 1975,923.2 1975.7,923.2 1976.4,923.2 1977.1,923.2 1977.9,923.1 1978.6,923.1 1979.3,923.1 1980,923.1 1980.7,923.1 1981.4,923.1 1982.1,923.1 1982.8,923.1 1983.5,923.1 1984.2,923 1984.9,923 1985.6,923 1986.2,923 1986.9,923 1987.6,923 1988.3,923 1989,923 1989.7,923 1990.4,922.9 1991.1,922.9 1991.7,922.9 1992.4,922.9 1993.1,922.9 1993.8,922.9 1994.5,922.9 1995.1,922.9 1995.8,922.9 1996.5,922.8 1997.2,922.8 1997.8,922.8 1998.5,922.8 1999.2,922.8 1999.9,922.8 2000.5,922.8 2001.2,922.8 2001.9,922.8 2002.5,922.7 2003.2,922.7 2003.9,922.7 2004.5,922.7 2005.2,922.7 2005.8,922.7 2006.5,922.7 2007.2,922.7 2007.8,922.7 2008.5,922.6 2009.1,922.6 2009.8,922.6 2010.4,922.6 2011.1,922.6 2011.7,922.6 2012.4,922.6 2013,922.6 2013.7,922.6 2014.3,922.6 2015,922.6 2015.6,922.6 2016.3,922.6 2016.9,922.6 2017.5,922.6 2018.2,922.6 2018.8,922.6 2019.5,922.6 2020.1,922.6 2020.7,922.6 2021.4,922.6 2022,922.6 2022.6,922.6 2023.3,922.6 2023.9,922.6 2024.5,922.6 2025.2,922.6 2025.8,922.6 2026.4,922.6 2027,922.6 2027.7,922.6 2028.3,922.6 2028.9,922.6 2029.5,922.6 2030.1,922.6 2030.8,922.6 2031.4,922.6 2032,922.6 2032.6,922.6 2033.2,922.6 2033.9,922.6 2034.5,922.6 2035.1,922.6 2035.7,922.6 2036.3,922.6 2036.9,922.6 2037.5,922.6 2038.1,922.6 2038.7,922.6 2039.4,922.6 2040,922.6 2040.6,922.6 2041.2,922.6 2041.8,922.6 2042.4,922.6 2043,922.6 2043.6,922.6 2044.2,922.6 2044.8,922.6 2045.4,922.6 2046,922.6 2046.6,922.6 2047.2,922.6 2047.8,922.6 2048.4,922.6 2049,922.6 2049.5,922.6 2050.1,922.6 2050.7,922.6 2051.3,922.6 2051.9,922.6 2052.5,922.6 2053.1,922.6 2053.7,922.6 2054.3,922.6 2054.8,922.6 2055.4,922.6 2056,922.6 2056.6,922.6 2057.2,922.6 2057.7,922.6 2058.3,922.6 2058.9,922.6 2059.5,922.6 2060.1,922.6 2060.6,922.6 2061.2,922.6 2061.8,922.6 2062.4,922.6 2062.9,922.6 2063.5,922.6 2064.1,922.6 2064.6,922.6 2065.2,922.6 2065.8,922.6 2066.3,922.6 2066.9,922.6 2067.5,922.6 2068,922.6 2068.6,922.6 2069.2,922.6 2069.7,922.6 2070.3,922.6 2070.9,922.6 2071.4,922.6 2072,922.6 2072.5,922.6 2073.1,922.6 2073.7,922.6 2074.2,922.6 2074.8,922.6 2075.3,922.6 2075.9,922.6 2076.4,922.6 2077,922.6 2077.5,922.6 2078.1,922.6 2078.6,922.6 2079.2,922.6 2079.7,922.6 2080.3,922.6 2080.8,922.6 2081.4,922.6 2081.9,922.6 2082.5,922.6 2083,922.6 2083.6,922.6 2084.1,922.6 2084.7,922.6 2085.2,922.6 2085.7,922.6 2086.3,922.6 2086.8,922.6 2087.4,922.6 2087.9,922.6 2088.4,922.6 2089,922.6 2089.5,922.6 2090,922.6 2090.6,922.6 2091.1,922.6 2091.6,922.6 2092.2,922.6 2092.7,922.6 2093.2,922.6 2093.8,922.6 2094.3,922.6 2094.8,922.6 2095.4,922.6 2095.9,922.6 2096.4,922.6 2096.9,922.6 2097.5,922.6 2098,922.6 2098.5,922.6 2099,922.6 2099.6,922.6 2100.1,922.6 2100.6,922.6 2101.1,922.6 2101.7,922.6 2102.2,922.6 2102.7,922.6 2103.2,922.6 2103.7,922.6 2104.2,922.6 2104.8,922.6 2105.3,922.6 2105.8,922.6 2106.3,922.6 2106.8,922.6 2107.3,922.6 2107.8,922.6 2108.4,922.6 2108.9,922.6 2109.4,922.6 2109.9,922.6 2110.4,922.6 2110.9,922.6 2111.4,922.6 2111.9,922.6 2112.4,922.6 2112.9,922.6 2113.4,922.6 2113.9,922.6 2114.5,922.6 2115,922.6 2115.5,922.6 2116,922.6 2116.5,922.6 2117,922.6 2117.5,922.6 2118,922.6 2118.5,922.6 2119,922.6 2119.5,922.6 2120,922.6 2120.5,922.6 2120.9,922.6 2121.4,922.6 2121.9,922.6 2122.4,922.6 2122.9,922.6 2123.4,922.6 2123.9,922.6 2124.4,922.6 2124.9,922.6 2125.4,922.6 2125.9,922.6 2126.4,922.6 2126.9,922.6 2127.3,922.6 2127.8,922.6 2128.3,922.6 2128.8,922.6 2129.3,922.6 2129.8,922.6 2130.3,922.6 2130.7,922.6 2131.2,922.6 2131.7,922.6 2132.2,922.6 2132.7,922.6 2133.2,922.6 2133.6,922.6 2134.1,922.6 2134.6,922.6 2135.1,922.6 2135.6,922.6 2136,922.6 2136.5,922.6 2137,922.6 2137.5,922.6 2137.9,922.6 2138.4,922.6 2138.9,922.6 2139.4,922.6 2139.8,922.6 2140.3,922.6 2140.8,922.6 2141.3,922.6 2141.7,922.6 2142.2,922.6 2142.7,922.6 2143.1,922.6 2143.6,922.6 2144.1,922.6 2144.5,922.6 2145,922.6 2145.5,922.6 2145.9,922.6 2146.4,922.6 2146.9,922.6 2147.3,922.6 2147.8,922.6 2148.3,922.6 2148.7,922.6 2149.2,922.6 2149.6,922.6 2150.1,922.6 2150.6,922.6 2151,922.6 2151.5,922.6 2152,922.6 2152.4,922.6 2152.9,922.6 2153.3,922.6 2153.8,922.6 2154.2,922.6 2154.7,922.6 2155.2,922.6 2155.6,922.6 2156.1,922.6 2156.5,922.6 2157,922.6 2157.4,922.6 2157.9,922.6 2158.3,922.6 2158.8,922.6 2159.2,922.6 2159.7,922.6 2160.1,922.6 2160.6,922.6 2161,922.6 2161.5,922.6 2161.9,922.6 2162.4,922.6 2162.8,922.6 2163.3,922.6 2163.7,922.6 2164.2,922.6 2164.6,922.6 2165.1,922.6 2165.5,922.6 2165.9,922.6 2166.4,922.6 2166.8,922.6 2167.3,922.6 2167.7,922.6 2168.2,922.6 2168.6,922.6 2169,922.6 2169.5,922.6 2169.9,922.6 2170.3,922.6 2170.8,922.6 2171.2,922.6 2171.7,922.6 2172.1,922.6 2172.5,922.6 2173,922.6 2173.4,922.6 2173.8,922.6 2174.3,922.6 2174.7,922.6 2175.1,922.6 2175.6,922.6 2176,922.6 2176.4,922.6 2176.9,922.6 2177.3,922.6 2177.7,922.6 2178.2,922.6 2178.6,922.6 2179,922.6 2179.5,922.6 2179.9,922.6 2180.3,922.6 2180.7,922.6 2181.2,922.6 2181.6,922.6 2182,922.6 2182.4,922.6 2182.9,922.6 2183.3,922.6 2183.7,922.6 2184.1,922.6 2184.6,922.6 2185,922.6 2185.4,922.6 2185.8,922.6 2186.3,922.6 2186.7,922.6 2187.1,922.6 2187.5,922.6 2187.9,922.6 2188.4,922.6 2188.8,922.6 2189.2,922.6 2189.6,922.6 2190,922.6 2190.5,922.6 2190.9,922.6 2191.3,922.6 2191.7,922.6 2192.1,922.6 2192.5,922.6 2193,922.6 2193.4,922.6 2193.8,922.6 2194.2,922.6 2194.6,922.6 2195,922.6 2195.4,922.6 2195.8,922.6 2196.3,922.6 2196.7,922.6 2197.1,922.6 2197.5,922.6 2197.9,922.6 2198.3,922.6 2198.7,922.6 2199.1,922.6 2199.5,922.6 2199.9,922.6 2200.4,922.6 2200.8,922.6 2201.2,922.6 2201.6,922.6 2202,922.6 2202.4,922.6 2202.8,922.6 2203.2,922.6 2203.6,922.6 2204,922.6 2204.4,922.6" fill="none" stroke="#ff00ff" stroke-width="7" stroke-linejoin="round" stroke-linecap="round"/>
<path d="M303 1162.1l-11.5 -20h23zM451.4 1093.3l-11.5 -20h23zM559.6 945l-11.5 -20h23zM644.9 839.3l-11.5 -20h23zM715.3 761l-11.5 -20h23zM775.2 635.3l-11.5 -20h23zM827.3 614.3l-11.5 -20h23zM873.5 615l-11.5 -20h23zM914.9 666.6l-11.5 -20h23zM952.5 721.6l-11.5 -20h23zM986.9 766.6l-11.5 -20h23zM1018.5 800.8l-11.5 -20h23zM1047.9 806.6l-11.5 -20h23zM1075.3 814.1l-11.5 -20h23zM1100.9 840l-11.5 -20h23zM1125 865.8l-11.5 -20h23zM1147.7 875.3l-11.5 -20h23zM1169.3 878.8l-11.5 -20h23zM1189.7 868.3l-11.5 -20h23zM1209.2 870.8l-11.5 -20h23zM1227.7 883.3l-11.5 -20h23zM1245.5 875l-11.5 -20h23zM1262.5 852.1l-11.5 -20h23zM1278.8 836.3l-11.5 -20h23zM1294.4 845.8l-11.5 -20h23zM1309.5 860l-11.5 -20h23zM1324.1 862l-11.5 -20h23zM1338.1 868.3l-11.5 -20h23zM1351.7 886.6l-11.5 -20h23zM1364.8 890.8l-11.5 -20h23zM1377.5 900.8l-11.5 -20h23zM1389.8 906.6l-11.5 -20h23zM1401.8 910.8l-11.5 -20h23zM1413.4 915l-11.5 -20h23zM1424.7 911.6l-11.5 -20h23zM1435.7 910.8l-11.5 -20h23zM1446.4 916.6l-11.5 -20h23zM1456.8 928.3l-11.5 -20h23zM1466.9 922.6l-11.5 -20h23zM1476.8 918.8l-11.5 -20h23zM1486.5 917.8l-11.5 -20h23zM1496 916.9l-11.5 -20h23zM1505.2 916l-11.5 -20h23zM1514.2 916l-11.5 -20h23zM1523 916.3l-11.5 -20h23zM1531.7 916.9l-11.5 -20h23zM1540.1 917.5l-11.5 -20h23zM1548.4 919.6l-11.5 -20h23zM1556.5 921.5l-11.5 -20h23zM1564.4 923.2l-11.5 -20h23zM1572.2 924.8l-11.5 -20h23zM1579.9 926l-11.5 -20h23zM1587.4 927.1l-11.5 -20h23zM1594.8 928l-11.5 -20h23zM1602 928.7l-11.5 -20h23zM1609.1 929.3l-11.5 -20h23zM1616.1 930.1l-11.5 -20h23zM1623 930.8l-11.5 -20h23zM1629.7 929.8l-11.5 -20h23zM1636.4 928.8l-11.5 -20h23zM1642.9 928.2l-11.5 -20h23zM1649.3 927.9l-11.5 -20h23zM1655.7 927.5l-11.5 -20h23zM1661.9 927.5l-11.5 -20h23zM1668.1 927.5l-11.5 -20h23zM1674.1 927.5l-11.5 -20h23zM1680.1 927.8l-11.5 -20h23zM1685.9 928.1l-11.5 -20h23zM1691.7 928.4l-11.5 -20h23zM1697.4 928.7l-11.5 -20h23zM1703 928.9l-11.5 -20h23zM1708.6 929.3l-11.5 -20h23zM1714.1 929.9l-11.5 -20h23zM1719.5 930.4l-11.5 -20h23zM1724.8 931l-11.5 -20h23zM1730 931.8l-11.5 -20h23zM1735.2 932.6l-11.5 -20h23zM1740.4 933.4l-11.5 -20h23zM1745.4 934.1l-11.5 -20h23zM1750.4 934.8l-11.5 -20h23zM1755.4 934.6l-11.5 -20h23zM1760.2 934l-11.5 -20h23zM1765.1 933.5l-11.5 -20h23zM1769.8 932.9l-11.5 -20h23zM1774.5 932.5l-11.5 -20h23zM1779.2 932.3l-11.5 -20h23zM1783.8 932.2l-11.5 -20h23zM1788.3 932.1l-11.5 -20h23zM1792.8 932l-11.5 -20h23zM1797.3 932l-11.5 -20h23zM1801.7 932l-11.5 -20h23zM1806 932l-11.5 -20h23zM1810.3 932l-11.5 -20h23zM1814.6 932l-11.5 -20h23zM1818.8 932.1l-11.5 -20h23zM1823 932.6l-11.5 -20h23zM1827.1 933l-11.5 -20h23zM1831.2 933.5l-11.5 -20h23zM1835.2 933.9l-11.5 -20h23zM1839.2 934.4l-11.5 -20h23zM1843.2 934.8l-11.5 -20h23zM1847.1 935.2l-11.5 -20h23zM1851 935.7l-11.5 -20h23zM1854.9 936.1l-11.5 -20h23zM1858.7 936.5l-11.5 -20h23zM1862.5 936.9l-11.5 -20h23zM1866.2 936.9l-11.5 -20h23zM1869.9 936.8l-11.5 -20h23zM1873.6 936.7l-11.5 -20h23zM1877.2 936.6l-11.5 -20h23zM1880.8 936.5l-11.5 -20h23zM1884.4 936.4l-11.5 -20h23zM1888 936.3l-11.5 -20h23zM1891.5 936.2l-11.5 -20h23zM1895 936.1l-11.5 -20h23zM1898.4 936.1l-11.5 -20h23zM1901.9 936l-11.5 -20h23zM1905.3 935.9l-11.5 -20h23zM1908.6 935.8l-11.5 -20h23zM1912 935.7l-11.5 -20h23zM1915.3 935.6l-11.5 -20h23zM1918.6 935.5l-11.5 -20h23zM1921.8 935.4l-11.5 -20h23zM1925.1 935.3l-11.5 -20h23zM1928.3 935.4l-11.5 -20h23zM1931.5 935.4l-11.5 -20h23zM1934.6 935.5l-11.5 -20h23zM1937.8 935.6l-11.5 -20h23zM1940.9 935.7l-11.5 -20h23zM1944 935.8l-11.5 -20h23zM1947 935.9l-11.5 -20h23zM1950.1 936l-11.5 -20h23zM1953.1 936.1l-11.5 -20h23zM1956.1 936.2l-11.5 -20h23zM1959 936.3l-11.5 -20h23zM1962 936.4l-11.5 -20h23zM1964.9 936.5l-11.5 -20h23zM1967.8 936.6l-11.5 -20h23zM1970.7 936.6l-11.5 -20h23zM1973.6 936.5l-11.5 -20h23zM1976.4 936.5l-11.5 -20h23zM1979.3 936.4l-11.5 -20h23zM1982.1 936.4l-11.5 -20h23zM1984.9 936.3l-11.5 -20h23zM1987.6 936.3l-11.5 -20h23zM1990.4 936.2l-11.5 -20h23zM1993.1 936.2l-11.5 -20h23zM1995.8 936.2l-11.5 -20h23zM1998.5 936.1l-11.5 -20h23zM2001.2 936.1l-11.5 -20h23zM2003.9 936l-11.5 -20h23zM2006.5 936l-11.5 -20h23zM2009.1 935.9l-11.5 -20h23zM2011.7 935.9l-11.5 -20h23zM2014.3 935.9l-11.5 -20h23zM2016.9 935.9l-11.5 -20h23zM2019.5 935.9l-11.5 -20h23zM2022 935.9l-11.5 -20h23zM2024.5 935.9l-11.5 -20h23zM2027 935.9l-11.5 -20h23zM2029.5 935.9l-11.5 -20h23zM2032 935.9l-11.5 -20h23zM2034.5 935.9l-11.5 -20h23zM2036.9 935.9l-11.5 -20h23zM2039.4 935.9l-11.5 -20h23zM2041.8 935.9l-11.5 -20h23zM2044.2 935.9l-11.5 -20h23zM2046.6 935.9l-11.5 -20h23zM2049 935.9l-11.5 -20h23zM2051.3 935.9l-11.5 -20h23zM2053.7 935.9l-11.5 -20h23zM2056 935.9l-11.5 -20h23zM2058.3 935.9l-11.5 -20h23zM2060.6 935.9l-11.5 -20h23zM2062.9 935.9l-11.5 -20h23zM2065.2 935.9l-11.5 -20h23zM2067.5 935.9l-11.5 -20h23zM2069.7 935.9l-11.5 -20h23zM2072 935.9l-11.5 -20h23zM2074.2 935.9l-11.5 -20h23zM2076.4 935.9l-11.5 -20h23zM2078.6 935.9l-11.5 -20h23zM2080.8 935.9l-11.5 -20h23zM2083 935.9l-11.5 -20h23zM2085.2 935.9l-11.5 -20h23zM2087.4 935.9l-11.5 -20h23zM2089.5 935.9l-11.5 -20h23zM2091.6 935.9l-11.5 -20h23zM2093.8 935.9l-11.5 -20h23zM2095.9 935.9l-11.5 -20h23zM2098 935.9l-11.5 -20h23zM2100.1 935.9l-11.5 -20h23zM2102.2 935.9l-11.5 -20h23zM2104.2 935.9l-11.5 -20h23zM2106.3 935.9l-11.5 -20h23zM2108.4 935.9l-11.5 -20h23zM2110.4 935.9l-11.5 -20h23zM2112.4 935.9l-11.5 -20h23zM2114.5 935.9l-11.5 -20h23zM2116.5 935.9l-11.5 -20h23zM2118.5 935.9l-11.5 -20h23zM2120.5 935.9l-11.5 -20h23zM2122.4 935.9l-11.5 -20h23zM2124.4 935.9l-11.5 -20h23zM2126.4 935.9l-11.5 -20h23zM2128.3 935.9l-11.5 -20h23zM2130.3 935.9l-11.5 -20h23zM2132.2 935.9l-11.5 -20h23zM2134.1 935.9l-11.5 -20h23zM2136 935.9l-11.5 -20h23zM2137.9 935.9l-11.5 -20h23zM2139.8 935.9l-11.5 -20h23zM2141.7 935.9l-11.5 -20h23zM2143.6 935.9l-11.5 -20h23zM2145.5 935.9l-11.5 -20h23zM2147.3 935.9l-11.5 -20h23zM2149.2 935.9l-11.5 -20h23zM2151 935.9l-11.5 -20h23zM2152.9 935.9l-11.5 -20h23zM2154.7 935.9l-11.5 -20h23zM2156.5 935.9l-11.5 -20h23zM2158.3 935.9l-11.5 -20h23zM2160.1 935.9l-11.5 -20h23zM2161.9 935.9l-11.5 -20h23zM2163.7 935.9l-11.5 -20h23zM2165.5 935.9l-11.5 -20h23zM2167.3 935.9l-11.5 -20h23zM2169 935.9l-11.5 -20h23zM2170.8 935.9l-11.5 -20h23zM2172.5 935.9l-11.5 -20h23zM2174.3 935.9l-11.5 -20h23zM2176 935.9l-11.5 -20h23zM2177.7 935.9l-11.5 -20h23zM2179.5 935.9l-11.5 -20h23zM2181.2 935.9l-11.5 -20h23zM2182.9 935.9l-11.5 -20h23zM2184.6 935.9l-11.5 -20h23zM2186.3 935.9l-11.5 -20h23zM2187.9 935.9l-11.5 -20h23zM2189.6 935.9l-11.5 -20h23zM2191.3 935.9l-11.5 -20h23zM2193 935.9l-11.5 -20h23zM2194.6 935.9l-11.5 -20h23zM2196.3 935.9l-11.5 -20h23zM2197.9 935.9l-11.5 -20h23zM2199.5 935.9l-11.5 -20h23zM2201.2 935.9l-11.5 -20h23zM2202.8 935.9l-11.5 -20h23zM2204.4 935.9l-11.5 -20h23z" fill="#ff00ff"/>
<polyline points="303,1163.5 345.5,1135.4 384,1110 419.1,1126.7 451.4,1092.5 481.3,1026.7 509.1,1008.3 535.2,1000 559.6,941.7 582.7,897.5 604.5,891.7 625.2,870 644.9,836 663.7,841.8 681.6,826 698.8,794.3 715.3,769.3 731.1,739.3 746.3,721 761,686 775.2,649.5 788.9,624 802.1,613 814.9,603.3 827.3,564.2 839.4,535 851.1,521.7 862.4,498.3 873.5,485 884.3,485 894.7,495 905,513.3 914.9,535 924.7,560.8 934.2,573.3 943.4,588.3 952.5,606.7 961.4,626 970,643 978.5,661.7 986.9,675 995,693.3 1003,707.5 1010.8,708.3 1018.5,709.2 1026.1,708.3 1033.5,706.7 1040.8,708.3 1047.9,712.5 1054.9,720 1061.8,726.7 1068.6,731.7 1075.3,733.3 1081.8,731.7 1088.3,736.7 1094.6,745 1100.9,748.3 1107.1,753.3 1113.1,760 1119.1,766.7 1125,772 1130.8,775 1136.5,773.3 1142.2,771.6 1147.7,770 1153.2,773.4 1158.7,776.7 1164,780 1169.3,783.3 1174.5,784.6 1179.6,785.8 1184.7,787.1 1189.7,788.3 1194.7,788.3 1199.6,788.3 1204.4,788.3 1209.2,788.3 1213.9,792.3 1218.5,796.3 1223.2,800.3 1227.7,804.2 1232.2,806.1 1236.7,808 1241.1,809.9 1245.5,811.7 1249.8,810.4 1254,809.2 1258.3,807.9 1262.5,806.7 1266.6,805.4 1270.7,804.2 1274.8,802.9 1278.8,801.7 1282.7,798.7 1286.7,795.8 1290.6,792.9 1294.4,790 1298.3,790.4 1302.1,790.9 1305.8,791.3 1309.5,791.7 1313.2,791.7 1316.9,791.7 1320.5,791.7 1324.1,791.7 1327.6,793 1331.2,794.2 1334.6,795.5 1338.1,796.7 1341.5,798.4 1345,800 1348.3,801.7 1351.7,803.3 1355,805.8 1358.3,808.3 1361.6,810.8 1364.8,813.3 1368,816.7 1371.2,820.1 1374.4,823.4 1377.5,826.7 1380.6,828.8 1383.7,830.9 1386.8,832.9 1389.8,835 1392.9,835.8 1395.9,836.7 1398.8,837.5 1401.8,838.3 1404.7,838.7 1407.6,839.2 1410.5,839.6 1413.4,840 1416.3,839.6 1419.1,839.1 1421.9,838.7 1424.7,838.3 1427.5,838.1 1430.2,837.9 1433,837.7 1435.7,837.5 1438.4,838.1 1441.1,838.8 1443.7,839.4 1446.4,840 1449,841.8 1451.6,843.6 1454.2,845.3 1456.8,847 1459.4,847.3 1461.9,847.5 1464.4,847.8 1466.9,848 1469.4,848.3 1471.9,848.6 1474.4,848.8 1476.8,849 1479.3,849.3 1481.7,849.5 1484.1,849.7 1486.5,850 1488.9,850.2 1491.3,850.1 1493.6,849.8 1496,849.4 1498.3,849.1 1500.6,848.7 1502.9,848.4 1505.2,848 1507.5,847.6 1509.7,846.9 1512,846.2 1514.2,845.5 1516.4,844.9 1518.6,844.2 1520.8,843.5 1523,842.9 1525.2,842.8 1527.4,842.8 1529.5,842.8 1531.7,842.7 1533.8,842.7 1535.9,842.7 1538,842.7 1540.1,842.7 1542.2,842.4 1544.3,842.1 1546.3,841.8 1548.4,841.4 1550.4,841.1 1552.5,840.8 1554.5,840.5 1556.5,840.2 1558.5,840.6 1560.5,841.1 1562.5,841.6 1564.4,842.1 1566.4,842.6 1568.4,843.1 1570.3,843.6 1572.2,844 1574.2,844.5 1576.1,844.9 1578,845.3 1579.9,845.6 1581.8,846 1583.7,846.4 1585.5,846.8 1587.4,847.2 1589.3,847.5 1591.1,847.7 1592.9,847.7 1594.8,847.7 1596.6,847.7 1598.4,847.7 1600.2,847.7 1602,847.7 1603.8,847.7 1605.6,847.7 1607.4,847.8 1609.1,848 1610.9,848.2 1612.6,848.4 1614.4,848.6 1616.1,848.9 1617.8,849.1 1619.6,849.3 1621.3,849.5 1623,849.7 1624.7,849.9 1626.4,850.1 1628.1,850.3 1629.7,850.5 1631.4,850.7 1633.1,850.9 1634.7,851.2 1636.4,851.4 1638,851.6 1639.7,851.8 1641.3,852.1 1642.9,852.4 1644.5,852.7 1646.1,853.1 1647.8,853.4 1649.3,853.7 1650.9,854 1652.5,854.4 1654.1,854.7 1655.7,855 1657.2,855.1 1658.8,854.9 1660.4,854.6 1661.9,854.4 1663.5,854.2 1665,854 1666.5,853.7 1668.1,853.5 1669.6,853.3 1671.1,853 1672.6,852.8 1674.1,852.6 1675.6,852.5 1677.1,852.4 1678.6,852.3 1680.1,852.2 1681.5,852.1 1683,852 1684.5,851.9 1685.9,851.8 1687.4,851.6 1688.8,851.5 1690.3,851.4 1691.7,851.3 1693.1,851.2 1694.6,851.1 1696,851 1697.4,850.9 1698.8,850.8 1700.2,850.7 1701.6,850.6 1703,850.5 1704.4,850.4 1705.8,850.3 1707.2,850.2 1708.6,850.2 1710,850.2 1711.3,850.2 1712.7,850.2 1714.1,850.2 1715.4,850.2 1716.8,850.2 1718.1,850.2 1719.5,850.2 1720.8,850.2 1722.1,850.2 1723.5,850.2 1724.8,850.2 1726.1,850.2 1727.4,850.2 1728.7,850.2 1730,850.2 1731.3,850.2 1732.6,850.2 1733.9,850.2 1735.2,850.2 1736.5,850.2 1737.8,850.2 1739.1,850.2 1740.4,850.2 1741.6,850.4 1742.9,850.6 1744.2,850.7 1745.4,850.9 1746.7,851 1747.9,851.2 1749.2,851.3 1750.4,851.5 1751.7,851.6 1752.9,851.8 1754.1,851.9 1755.4,852.1 1756.6,852.2 1757.8,852.4 1759,852.5 1760.2,852.7 1761.4,852.8 1762.6,853 1763.9,853.1 1765.1,853.3 1766.2,853.4 1767.4,853.6 1768.6,853.7 1769.8,853.9 1771,854 1772.2,854.2 1773.3,854.3 1774.5,854.5 1775.7,854.7 1776.9,854.8 1778,855 1779.2,855.2 1780.3,855.4 1781.5,855.5 1782.6,855.7 1783.8,855.9 1784.9,856 1786,856.2 1787.2,856.4 1788.3,856.5 1789.4,856.7 1790.6,856.7 1791.7,856.6 1792.8,856.5 1793.9,856.4 1795,856.3 1796.2,856.3 1797.3,856.2 1798.4,856.1 1799.5,856 1800.6,855.9 1801.7,855.8 1802.8,855.7 1803.8,855.6 1804.9,855.5 1806,855.4 1807.1,855.3 1808.2,855.2 1809.2,855.1 1810.3,855 1811.4,854.9 1812.5,854.8 1813.5,854.7 1814.6,854.6 1815.6,854.5 1816.7,854.4 1817.7,854.3 1818.8,854.2 1819.8,854.2 1820.9,854.1 1821.9,854 1823,853.9 1824,853.8 1825,853.7 1826.1,853.7 1827.1,853.6 1828.1,853.5 1829.1,853.4 1830.2,853.3 1831.2,853.3 1832.2,853.2 1833.2,853.1 1834.2,853 1835.2,852.9 1836.2,852.9 1837.2,852.8 1838.2,852.7 1839.2,852.6 1840.2,852.6 1841.2,852.5 1842.2,852.4 1843.2,852.3 1844.2,852.2 1845.2,852.2 1846.1,852.1 1847.1,852 1848.1,851.9 1849.1,852 1850,852 1851,852.1 1852,852.2 1852.9,852.3 1853.9,852.4 1854.9,852.5 1855.8,852.6 1856.8,852.6 1857.7,852.7 1858.7,852.8 1859.6,852.9 1860.6,853 1861.5,853.1 1862.5,853.2 1863.4,853.2 1864.3,853.3 1865.3,853.4 1866.2,853.5 1867.1,853.6 1868.1,853.7 1869,853.8 1869.9,853.8 1870.8,853.9 1871.8,854 1872.7,854.1 1873.6,854.2 1874.5,854.2 1875.4,854.3 1876.3,854.4 1877.2,854.5 1878.1,854.6 1879,854.7 1880,854.7 1880.8,854.8 1881.7,854.9 1882.6,855 1883.5,855.1 1884.4,855.1 1885.3,855.2 1886.2,855.3 1887.1,855.4 1888,855.5 1888.9,855.5 1889.7,855.6 1890.6,855.7 1891.5,855.8 1892.4,855.9 1893.2,855.9 1894.1,856 1895,856.1 1895.8,856.1 1896.7,856 1897.6,856 1898.4,855.9 1899.3,855.9 1900.2,855.9 1901,855.8 1901.9,855.8 1902.7,855.7 1903.6,855.7 1904.4,855.7 1905.3,855.6 1906.1,855.6 1907,855.6 1907.8,855.5 1908.6,855.5 1909.5,855.4 1910.3,855.4 1911.1,855.4 1912,855.3 1912.8,855.3 1913.6,855.2 1914.5,855.2 1915.3,855.2 1916.1,855.1 1916.9,855.1 1917.8,855.1 1918.6,855 1919.4,855 1920.2,854.9 1921,854.9 1921.8,854.9 1922.7,854.8 1923.5,854.8 1924.3,854.8 1925.1,854.7 1925.9,854.7 1926.7,854.6 1927.5,854.6 1928.3,854.6 1929.1,854.5 1929.9,854.5 1930.7,854.5 1931.5,854.4 1932.3,854.4 1933.1,854.4 1933.8,854.3 1934.6,854.3 1935.4,854.2 1936.2,854.2 1937,854.2 1937.8,854.1 1938.5,854.1 1939.3,854.1 1940.1,854 1940.9,854 1941.6,854 1942.4,853.9 1943.2,853.9 1944,853.9 1944.7,853.8 1945.5,853.8 1946.3,853.8 1947,853.7 1947.8,853.7 1948.5,853.6 1949.3,853.6 1950.1,853.6 1950.8,853.5 1951.6,853.5 1952.3,853.5 1953.1,853.4 1953.8,853.4 1954.6,853.4 1955.3,853.3 1956.1,853.3 1956.8,853.3 1957.6,853.2 1958.3,853.2 1959,853.2 1959.8,853.3 1960.5,853.3 1961.3,853.4 1962,853.4 1962.7,853.4 1963.5,853.5 1964.2,853.5 1964.9,853.6 1965.7,853.6 1966.4,853.6 1967.1,853.7 1967.8,853.7 1968.6,853.8 1969.3,853.8 1970,853.8 1970.7,853.9 1971.4,853.9 1972.2,854 1972.9,854 1973.6,854 1974.3,854.1 1975,854.1 1975.7,854.2 1976.4,854.2 1977.1,854.2 1977.9,854.3 1978.6,854.3 1979.3,854.4 1980,854.4 1980.7,854.4 1981.4,854.5 1982.1,854.5 1982.8,854.5 1983.5,854.6 1984.2,854.6 1984.9,854.7 1985.6,854.7 1986.2,854.7 1986.9,854.8 1987.6,854.8 1988.3,854.9 1989,854.9 1989.7,854.9 1990.4,855 1991.1,855 1991.7,855 1992.4,855.1 1993.1,855.1 1993.8,855.2 1994.5,855.2 1995.1,855.2 1995.8,855.3 1996.5,855.3 1997.2,855.3 1997.8,855.4 1998.5,855.4 1999.2,855.5 1999.9,855.5 2000.5,855.5 2001.2,855.6 2001.9,855.6 2002.5,855.6 2003.2,855.7 2003.9,855.7 2004.5,855.7 2005.2,855.8 2005.8,855.8 2006.5,855.9 2007.2,855.9 2007.8,855.9 2008.5,856 2009.1,856 2009.8,856 2010.4,856.1 2011.1,856.1 2011.7,856.1 2012.4,856.1 2013,856.1 2013.7,856.1 2014.3,856.1 2015,856.1 2015.6,856.1 2016.3,856.1 2016.9,856.1 2017.5,856.1 2018.2,856.1 2018.8,856.1 2019.5,856.1 2020.1,856.1 2020.7,856.1 2021.4,856.1 2022,856.1 2022.6,856.1 2023.3,856.1 2023.9,856.1 2024.5,856.1 2025.2,856.1 2025.8,856.1 2026.4,856.1 2027,856.1 2027.7,856.1 2028.3,856.1 2028.9,856.1 2029.5,856.1 2030.1,856.1 2030.8,856.1 2031.4,856.1 2032,856.1 2032.6,856.1 2033.2,856.1 2033.9,856.1 2034.5,856.1 2035.1,856.1 2035.7,856.1 2036.3,856.1 2036.9,856.1 2037.5,856.1 2038.1,856.1 2038.7,856.1 2039.4,856.1 2040,856.1 2040.6,856.1 2041.2,856.1 2041.8,856.1 2042.4,856.1 2043,856.1 2043.6,856.1 2044.2,856.1 2044.8,856.1 2045.4,856.1 2046,856.1 2046.6,856.1 2047.2,856.1 2047.8,856.1 2048.4,856.1 2049,856.1 2049.5,856.1 2050.1,856.1 2050.7,856.1 2051.3,856.1 2051.9,856.1 2052.5,856.1 2053.1,856.1 2053.7,856.1 2054.3,856.1 2054.8,856.1 2055.4,856.1 2056,856.1 2056.6,856.1 2057.2,856.1 2057.7,856.1 2058.3,856.1 2058.9,856.1 2059.5,856.1 2060.1,856.1 2060.6,856.1 2061.2,856.1 2061.8,856.1 2062.4,856.1 2062.9,856.1 2063.5,856.1 2064.1,856.1 2064.6,856.1 2065.2,856.1 2065.8,856.1 2066.3,856.1 2066.9,856.1 2067.5,856.1 2068,856.1 2068.6,856.1 2069.2,856.1 2069.7,856.1 2070.3,856.1 2070.9,856.1 2071.4,856.1 2072,856.1 2072.5,856.1 2073.1,856.1 2073.7,856.1 2074.2,856.1 2074.8,856.1 2075.3,856.1 2075.9,856.1 2076.4,856.1 2077,856.1 2077.5,856.1 2078.1,856.1 2078.6,856.1 2079.2,856.1 2079.7,856.1 2080.3,856.1 2080.8,856.1 2081.4,856.1 2081.9,856.1 2082.5,856.1 2083,856.1 2083.6,856.1 2084.1,856.1 2084.7,856.1 2085.2,856.1 2085.7,856.1 2086.3,856.1 2086.8,856.1 2087.4,856.1 2087.9,856.1 2088.4,856.1 2089,856.1 2089.5,856.1 2090,856.1 2090.6,856.1 2091.1,856.1 2091.6,856.1 2092.2,856.1 2092.7,856.1 2093.2,856.1 2093.8,856.1 2094.3,856.1 2094.8,856.1 2095.4,856.1 2095.9,856.1 2096.4,856.1 2096.9,856.1 2097.5,856.1 2098,856.1 2098.5,856.1 2099,856.1 2099.6,856.1 2100.1,856.1 2100.6,856.1 2101.1,856.1 2101.7,856.1 2102.2,856.1 2102.7,856.1 2103.2,856.1 2103.7,856.1 2104.2,856.1 2104.8,856.1 2105.3,856.1 2105.8,856.1 2106.3,856.1 2106.8,856.1 2107.3,856.1 2107.8,856.1 2108.4,856.1 2108.9,856.1 2109.4,856.1 2109.9,856.1 2110.4,856.1 2110.9,856.1 2111.4,856.1 2111.9,856.1 2112.4,856.1 2112.9,856.1 2113.4,856.1 2113.9,856.1 2114.5,856.1 2115,856.1 2115.5,856.1 2116,856.1 2116.5,856.1 2117,856.1 2117.5,856.1 2118,856.1 2118.5,856.1 2119,856.1 2119.5,856.1 2120,856.1 2120.5,856.1 2120.9,856.1 2121.4,856.1 2121.9,856.1 2122.4,856.1 2122.9,856.1 2123.4,856.1 2123.9,856.1 2124.4,856.1 2124.9,856.1 2125.4,856.1 2125.9,856.1 2126.4,856.1 2126.9,856.1 2127.3,856.1 2127.8,856.1 2128.3,856.1 2128.8,856.1 2129.3,856.1 2129.8,856.1 2130.3,856.1 2130.7,856.1 2131.2,856.1 2131.7,856.1 2132.2,856.1 2132.7,856.1 2133.2,856.1 2133.6,856.1 2134.1,856.1 2134.6,856.1 2135.1,856.1 2135.6,856.1 2136,856.1 2136.5,856.1 2137,856.1 2137.5,856.1 2137.9,856.1 2138.4,856.1 2138.9,856.1 2139.4,856.1 2139.8,856.1 2140.3,856.1 2140.8,856.1 2141.3,856.1 2141.7,856.1 2142.2,856.1 2142.7,856.1 2143.1,856.1 2143.6,856.1 2144.1,856.1 2144.5,856.1 2145,856.1 2145.5,856.1 2145.9,856.1 2146.4,856.1 2146.9,856.1 2147.3,856.1 2147.8,856.1 2148.3,856.1 2148.7,856.1 2149.2,856.1 2149.6,856.1 2150.1,856.1 2150.6,856.1 2151,856.1 2151.5,856.1 2152,856.1 2152.4,856.1 2152.9,856.1 2153.3,856.1 2153.8,856.1 2154.2,856.1 2154.7,856.1 2155.2,856.1 2155.6,856.1 2156.1,856.1 2156.5,856.1 2157,856.1 2157.4,856.1 2157.9,856.1 2158.3,856.1 2158.8,856.1 2159.2,856.1 2159.7,856.1 2160.1,856.1 2160.6,856.1 2161,856.1 2161.5,856.1 2161.9,856.1 2162.4,856.1 2162.8,856.1 2163.3,856.1 2163.7,856.1 2164.2,856.1 2164.6,856.1 2165.1,856.1 2165.5,856.1 2165.9,856.1 2166.4,856.1 2166.8,856.1 2167.3,856.1 2167.7,856.1 2168.2,856.1 2168.6,856.1 2169,856.1 2169.5,856.1 2169.9,856.1 2170.3,856.1 2170.8,856.1 2171.2,856.1 2171.7,856.1 2172.1,856.1 2172.5,856.1 2173,856.1 2173.4,856.1 2173.8,856.1 2174.3,856.1 2174.7,856.1 2175.1,856.1 2175.6,856.1 2176,856.1 2176.4,856.1 2176.9,856.1 2177.3,856.1 2177.7,856.1 2178.2,856.1 2178.6,856.1 2179,856.1 2179.5,856.1 2179.9,856.1 2180.3,856.1 2180.7,856.1 2181.2,856.1 2181.6,856.1 2182,856.1 2182.4,856.1 2182.9,856.1 2183.3,856.1 2183.7,856.1 2184.1,856.1 2184.6,856.1 2185,856.1 2185.4,856.1 2185.8,856.1 2186.3,856.1 2186.7,856.1 2187.1,856.1 2187.5,856.1 2187.9,856.1 2188.4,856.1 2188.8,856.1 2189.2,856.1 2189.6,856.1 2190,856.1 2190.5,856.1 2190.9,856.1 2191.3,856.1 2191.7,856.1 2192.1,856.1 2192.5,856.1 2193,856.1 2193.4,856.1 2193.8,856.1 2194.2,856.1 2194.6,856.1 2195,856.1 2195.4,856.1 2195.8,856.1 2196.3,856.1 2196.7,856.1 2197.1,856.1 2197.5,856.1 2197.9,856.1 2198.3,856.1 2198.7,856.1 2199.1,856.1 2199.5,856.1 2199.9,856.1 2200.4,856.1 2200.8,856.1 2201.2,856.1 2201.6,856.1 2202,856.1 2202.4,856.1 2202.8,856.1 2203.2,856.1 2203.6,856.1 2204,856.1 2204.4,856.1" fill="none" stroke="#808000" stroke-width="7" stroke-linejoin="round" stroke-linecap="round"/>
<path d="M303 1151l12.5 12.5l-12.5 12.5l-12.5 -12.5zM451.4 1080l12.5 12.5l-12.5 12.5l-12.5 -12.5zM559.6 929.2l12.5 12.5l-12.5 12.5l-12.5 -12.5zM644.9 823.5l12.5 12.5l-12.5 12.5l-12.5 -12.5zM715.3 756.8l12.5 12.5l-12.5 12.5l-12.5 -12.5zM775.2 637l12.5 12.5l-12.5 12.5l-12.5 -12.5zM827.3 551.7l12.5 12.5l-12.5 12.5l-12.5 -12.5zM873.5 472.5l12.5 12.5l-12.5 12.5l-12.5 -12.5zM914.9 522.5l12.5 12.5l-12.5 12.5l-12.5 -12.5zM952.5 594.2l12.5 12.5l-12.5 12.5l-12.5 -12.5zM986.9 662.5l12.5 12.5l-12.5 12.5l-12.5 -12.5zM1018.5 696.7l12.5 12.5l-12.5 12.5l-12.5 -12.5zM1047.9 700l12.5 12.5l-12.5 12.5l-12.5 -12.5zM1075.3 720.8l12.5 12.5l-12.5 12.5l-12.5 -12.5zM1100.9 735.8l12.5 12.5l-12.5 12.5l-12.5 -12.5zM1125 759.5l12.5 12.5l-12.5 12.5l-12.5 -12.5zM1147.7 757.5l12.5 12.5l-12.5 12.5l-12.5 -12.5zM1169.3 770.8l12.5 12.5l-12.5 12.5l-12.5 -12.5zM1189.7 775.8l12.5 12.5l-12.5 12.5l-12.5 -12.5zM1209.2 775.8l12.5 12.5l-12.5 12.5l-12.5 -12.5zM1227.7 791.7l12.5 12.5l-12.5 12.5l-12.5 -12.5zM1245.5 799.2l12.5 12.5l-12.5 12.5l-12.5 -12.5zM1262.5 794.2l12.5 12.5l-12.5 12.5l-12.5 -12.5zM1278.8 789.2l12.5 12.5l-12.5 12.5l-12.5 -12.5zM1294.4 777.5l12.5 12.5l-12.5 12.5l-12.5 -12.5zM1309.5 779.2l12.5 12.5l-12.5 12.5l-12.5 -12.5zM1324.1 779.2l12.5 12.5l-12.5 12.5l-12.5 -12.5zM1338.1 784.2l12.5 12.5l-12.5 12.5l-12.5 -12.5zM1351.7 790.8l12.5 12.5l-12.5 12.5l-12.5 -12.5zM1364.8 800.8l12.5 12.5l-12.5 12.5l-12.5 -12.5zM1377.5 814.2l12.5 12.5l-12.5 12.5l-12.5 -12.5zM1389.8 822.5l12.5 12.5l-12.5 12.5l-12.5 -12.5zM1401.8 825.8l12.5 12.5l-12.5 12.5l-12.5 -12.5zM1413.4 827.5l12.5 12.5l-12.5 12.5l-12.5 -12.5zM1424.7 825.8l12.5 12.5l-12.5 12.5l-12.5 -12.5zM1435.7 825l12.5 12.5l-12.5 12.5l-12.5 -12.5zM1446.4 827.5l12.5 12.5l-12.5 12.5l-12.5 -12.5zM1456.8 834.5l12.5 12.5l-12.5 12.5l-12.5 -12.5zM1466.9 835.5l12.5 12.5l-12.5 12.5l-12.5 -12.5zM1476.8 836.5l12.5 12.5l-12.5 12.5l-12.5 -12.5zM1486.5 837.5l12.5 12.5l-12.5 12.5l-12.5 -12.5zM1496 836.9l12.5 12.5l-12.5 12.5l-12.5 -12.5zM1505.2 835.5l12.5 12.5l-12.5 12.5l-12.5 -12.5zM1514.2 833l12.5 12.5l-12.5 12.5l-12.5 -12.5zM1523 830.4l12.5 12.5l-12.5 12.5l-12.5 -12.5zM1531.7 830.2l12.5 12.5l-12.5 12.5l-12.5 -12.5zM1540.1 830.2l12.5 12.5l-12.5 12.5l-12.5 -12.5zM1548.4 828.9l12.5 12.5l-12.5 12.5l-12.5 -12.5zM1556.5 827.7l12.5 12.5l-12.5 12.5l-12.5 -12.5zM1564.4 829.6l12.5 12.5l-12.5 12.5l-12.5 -12.5zM1572.2 831.5l12.5 12.5l-12.5 12.5l-12.5 -12.5zM1579.9 833.1l12.5 12.5l-12.5 12.5l-12.5 -12.5zM1587.4 834.7l12.5 12.5l-12.5 12.5l-12.5 -12.5zM1594.8 835.2l12.5 12.5l-12.5 12.5l-12.5 -12.5zM1602 835.2l12.5 12.5l-12.5 12.5l-12.5 -12.5zM1609.1 835.5l12.5 12.5l-12.5 12.5l-12.5 -12.5zM1616.1 836.4l12.5 12.5l-12.5 12.5l-12.5 -12.5zM1623 837.2l12.5 12.5l-12.5 12.5l-12.5 -12.5zM1629.7 838l12.5 12.5l-12.5 12.5l-12.5 -12.5zM1636.4 838.9l12.5 12.5l-12.5 12.5l-12.5 -12.5zM1642.9 839.9l12.5 12.5l-12.5 12.5l-12.5 -12.5zM1649.3 841.2l12.5 12.5l-12.5 12.5l-12.5 -12.5zM1655.7 842.5l12.5 12.5l-12.5 12.5l-12.5 -12.5zM1661.9 841.9l12.5 12.5l-12.5 12.5l-12.5 -12.5zM1668.1 841l12.5 12.5l-12.5 12.5l-12.5 -12.5zM1674.1 840.1l12.5 12.5l-12.5 12.5l-12.5 -12.5zM1680.1 839.7l12.5 12.5l-12.5 12.5l-12.5 -12.5zM1685.9 839.3l12.5 12.5l-12.5 12.5l-12.5 -12.5zM1691.7 838.8l12.5 12.5l-12.5 12.5l-12.5 -12.5zM1697.4 838.4l12.5 12.5l-12.5 12.5l-12.5 -12.5zM1703 838l12.5 12.5l-12.5 12.5l-12.5 -12.5zM1708.6 837.7l12.5 12.5l-12.5 12.5l-12.5 -12.5zM1714.1 837.7l12.5 12.5l-12.5 12.5l-12.5 -12.5zM1719.5 837.7l12.5 12.5l-12.5 12.5l-12.5 -12.5zM1724.8 837.7l12.5 12.5l-12.5 12.5l-12.5 -12.5zM1730 837.7l12.5 12.5l-12.5 12.5l-12.5 -12.5zM1735.2 837.7l12.5 12.5l-12.5 12.5l-12.5 -12.5zM1740.4 837.7l12.5 12.5l-12.5 12.5l-12.5 -12.5zM1745.4 838.4l12.5 12.5l-12.5 12.5l-12.5 -12.5zM1750.4 839l12.5 12.5l-12.5 12.5l-12.5 -12.5zM1755.4 839.6l12.5 12.5l-12.5 12.5l-12.5 -12.5zM1760.2 840.2l12.5 12.5l-12.5 12.5l-12.5 -12.5zM1765.1 840.8l12.5 12.5l-12.5 12.5l-12.5 -12.5zM1769.8 841.4l12.5 12.5l-12.5 12.5l-12.5 -12.5zM1774.5 842l12.5 12.5l-12.5 12.5l-12.5 -12.5zM1779.2 842.7l12.5 12.5l-12.5 12.5l-12.5 -12.5zM1783.8 843.4l12.5 12.5l-12.5 12.5l-12.5 -12.5zM1788.3 844l12.5 12.5l-12.5 12.5l-12.5 -12.5zM1792.8 844l12.5 12.5l-12.5 12.5l-12.5 -12.5zM1797.3 843.7l12.5 12.5l-12.5 12.5l-12.5 -12.5zM1801.7 843.3l12.5 12.5l-12.5 12.5l-12.5 -12.5zM1806 842.9l12.5 12.5l-12.5 12.5l-12.5 -12.5zM1810.3 842.5l12.5 12.5l-12.5 12.5l-12.5 -12.5zM1814.6 842.1l12.5 12.5l-12.5 12.5l-12.5 -12.5zM1818.8 841.7l12.5 12.5l-12.5 12.5l-12.5 -12.5zM1823 841.4l12.5 12.5l-12.5 12.5l-12.5 -12.5zM1827.1 841.1l12.5 12.5l-12.5 12.5l-12.5 -12.5zM1831.2 840.8l12.5 12.5l-12.5 12.5l-12.5 -12.5zM1835.2 840.4l12.5 12.5l-12.5 12.5l-12.5 -12.5zM1839.2 840.1l12.5 12.5l-12.5 12.5l-12.5 -12.5zM1843.2 839.8l12.5 12.5l-12.5 12.5l-12.5 -12.5zM1847.1 839.5l12.5 12.5l-12.5 12.5l-12.5 -12.5zM1851 839.6l12.5 12.5l-12.5 12.5l-12.5 -12.5zM1854.9 840l12.5 12.5l-12.5 12.5l-12.5 -12.5zM1858.7 840.3l12.5 12.5l-12.5 12.5l-12.5 -12.5zM1862.5 840.7l12.5 12.5l-12.5 12.5l-12.5 -12.5zM1866.2 841l12.5 12.5l-12.5 12.5l-12.5 -12.5zM1869.9 841.3l12.5 12.5l-12.5 12.5l-12.5 -12.5zM1873.6 841.7l12.5 12.5l-12.5 12.5l-12.5 -12.5zM1877.2 842l12.5 12.5l-12.5 12.5l-12.5 -12.5zM1880.8 842.3l12.5 12.5l-12.5 12.5l-12.5 -12.5zM1884.4 842.6l12.5 12.5l-12.5 12.5l-12.5 -12.5zM1888 843l12.5 12.5l-12.5 12.5l-12.5 -12.5zM1891.5 843.3l12.5 12.5l-12.5 12.5l-12.5 -12.5zM1895 843.6l12.5 12.5l-12.5 12.5l-12.5 -12.5zM1898.4 843.4l12.5 12.5l-12.5 12.5l-12.5 -12.5zM1901.9 843.3l12.5 12.5l-12.5 12.5l-12.5 -12.5zM1905.3 843.1l12.5 12.5l-12.5 12.5l-12.5 -12.5zM1908.6 843l12.5 12.5l-12.5 12.5l-12.5 -12.5zM1912 842.8l12.5 12.5l-12.5 12.5l-12.5 -12.5zM1915.3 842.7l12.5 12.5l-12.5 12.5l-12.5 -12.5zM1918.6 842.5l12.5 12.5l-12.5 12.5l-12.5 -12.5zM1921.8 842.4l12.5 12.5l-12.5 12.5l-12.5 -12.5zM1925.1 842.2l12.5 12.5l-12.5 12.5l-12.5 -12.5zM1928.3 842.1l12.5 12.5l-12.5 12.5l-12.5 -12.5zM1931.5 841.9l12.5 12.5l-12.5 12.5l-12.5 -12.5zM1934.6 841.8l12.5 12.5l-12.5 12.5l-12.5 -12.5zM1937.8 841.6l12.5 12.5l-12.5 12.5l-12.5 -12.5zM1940.9 841.5l12.5 12.5l-12.5 12.5l-12.5 -12.5zM1944 841.4l12.5 12.5l-12.5 12.5l-12.5 -12.5zM1947 841.2l12.5 12.5l-12.5 12.5l-12.5 -12.5zM1950.1 841.1l12.5 12.5l-12.5 12.5l-12.5 -12.5zM1953.1 840.9l12.5 12.5l-12.5 12.5l-12.5 -12.5zM1956.1 840.8l12.5 12.5l-12.5 12.5l-12.5 -12.5zM1959 840.7l12.5 12.5l-12.5 12.5l-12.5 -12.5zM1962 840.9l12.5 12.5l-12.5 12.5l-12.5 -12.5zM1964.9 841.1l12.5 12.5l-12.5 12.5l-12.5 -12.5zM1967.8 841.2l12.5 12.5l-12.5 12.5l-12.5 -12.5zM1970.7 841.4l12.5 12.5l-12.5 12.5l-12.5 -12.5zM1973.6 841.5l12.5 12.5l-12.5 12.5l-12.5 -12.5zM1976.4 841.7l12.5 12.5l-12.5 12.5l-12.5 -12.5zM1979.3 841.9l12.5 12.5l-12.5 12.5l-12.5 -12.5zM1982.1 842l12.5 12.5l-12.5 12.5l-12.5 -12.5zM1984.9 842.2l12.5 12.5l-12.5 12.5l-12.5 -12.5zM1987.6 842.3l12.5 12.5l-12.5 12.5l-12.5 -12.5zM1990.4 842.5l12.5 12.5l-12.5 12.5l-12.5 -12.5zM1993.1 842.6l12.5 12.5l-12.5 12.5l-12.5 -12.5zM1995.8 842.8l12.5 12.5l-12.5 12.5l-12.5 -12.5zM1998.5 842.9l12.5 12.5l-12.5 12.5l-12.5 -12.5zM2001.2 843.1l12.5 12.5l-12.5 12.5l-12.5 -12.5zM2003.9 843.2l12.5 12.5l-12.5 12.5l-12.5 -12.5zM2006.5 843.4l12.5 12.5l-12.5 12.5l-12.5 -12.5zM2009.1 843.5l12.5 12.5l-12.5 12.5l-12.5 -12.5zM2011.7 843.6l12.5 12.5l-12.5 12.5l-12.5 -12.5zM2014.3 843.6l12.5 12.5l-12.5 12.5l-12.5 -12.5zM2016.9 843.6l12.5 12.5l-12.5 12.5l-12.5 -12.5zM2019.5 843.6l12.5 12.5l-12.5 12.5l-12.5 -12.5zM2022 843.6l12.5 12.5l-12.5 12.5l-12.5 -12.5zM2024.5 843.6l12.5 12.5l-12.5 12.5l-12.5 -12.5zM2027 843.6l12.5 12.5l-12.5 12.5l-12.5 -12.5zM2029.5 843.6l12.5 12.5l-12.5 12.5l-12.5 -12.5zM2032 843.6l12.5 12.5l-12.5 12.5l-12.5 -12.5zM2034.5 843.6l12.5 12.5l-12.5 12.5l-12.5 -12.5zM2036.9 843.6l12.5 12.5l-12.5 12.5l-12.5 -12.5zM2039.4 843.6l12.5 12.5l-12.5 12.5l-12.5 -12.5zM2041.8 843.6l12.5 12.5l-12.5 12.5l-12.5 -12.5zM2044.2 843.6l12.5 12.5l-12.5 12.5l-12.5 -12.5zM2046.6 843.6l12.5 12.5l-12.5 12.5l-12.5 -12.5zM2049 843.6l12.5 12.5l-12.5 12.5l-12.5 -12.5zM2051.3 843.6l12.5 12.5l-12.5 12.5l-12.5 -12.5zM2053.7 843.6l12.5 12.5l-12.5 12.5l-12.5 -12.5zM2056 843.6l12.5 12.5l-12.5 12.5l-12.5 -12.5zM2058.3 843.6l12.5 12.5l-12.5 12.5l-12.5 -12.5zM2060.6 843.6l12.5 12.5l-12.5 12.5l-12.5 -12.5zM2062.9 843.6l12.5 12.5l-12.5 12.5l-12.5 -12.5zM2065.2 843.6l12.5 12.5l-12.5 12.5l-12.5 -12.5zM2067.5 843.6l12.5 12.5l-12.5 12.5l-12.5 -12.5zM2069.7 843.6l12.5 12.5l-12.5 12.5l-12.5 -12.5zM2072 843.6l12.5 12.5l-12.5 12.5l-12.5 -12.5zM2074.2 843.6l12.5 12.5l-12.5 12.5l-12.5 -12.5zM2076.4 843.6l12.5 12.5l-12.5 12.5l-12.5 -12.5zM2078.6 843.6l12.5 12.5l-12.5 12.5l-12.5 -12.5zM2080.8 843.6l12.5 12.5l-12.5 12.5l-12.5 -12.5zM2083 843.6l12.5 12.5l-12.5 12.5l-12.5 -12.5zM2085.2 843.6l12.5 12.5l-12.5 12.5l-12.5 -12.5zM2087.4 843.6l12.5 12.5l-12.5 12.5l-12.5 -12.5zM2089.5 843.6l12.5 12.5l-12.5 12.5l-12.5 -12.5zM2091.6 843.6l12.5 12.5l-12.5 12.5l-12.5 -12.5zM2093.8 843.6l12.5 12.5l-12.5 12.5l-12.5 -12.5zM2095.9 843.6l12.5 12.5l-12.5 12.5l-12.5 -12.5zM2098 843.6l12.5 12.5l-12.5 12.5l-12.5 -12.5zM2100.1 843.6l12.5 12.5l-12.5 12.5l-12.5 -12.5zM2102.2 843.6l12.5 12.5l-12.5 12.5l-12.5 -12.5zM2104.2 843.6l12.5 12.5l-12.5 12.5l-12.5 -12.5zM2106.3 843.6l12.5 12.5l-12.5 12.5l-12.5 -12.5zM2108.4 843.6l12.5 12.5l-12.5 12.5l-12.5 -12.5zM2110.4 843.6l12.5 12.5l-12.5 12.5l-12.5 -12.5zM2112.4 843.6l12.5 12.5l-12.5 12.5l-12.5 -12.5zM2114.5 843.6l12.5 12.5l-12.5 12.5l-12.5 -12.5zM2116.5 843.6l12.5 12.5l-12.5 12.5l-12.5 -12.5zM2118.5 843.6l12.5 12.5l-12.5 12.5l-12.5 -12.5zM2120.5 843.6l12.5 12.5l-12.5 12.5l-12.5 -12.5zM2122.4 843.6l12.5 12.5l-12.5 12.5l-12.5 -12.5zM2124.4 843.6l12.5 12.5l-12.5 12.5l-12.5 -12.5zM2126.4 843.6l12.5 12.5l-12.5 12.5l-12.5 -12.5zM2128.3 843.6l12.5 12.5l-12.5 12.5l-12.5 -12.5zM2130.3 843.6l12.5 12.5l-12.5 12.5l-12.5 -12.5zM2132.2 843.6l12.5 12.5l-12.5 12.5l-12.5 -12.5zM2134.1 843.6l12.5 12.5l-12.5 12.5l-12.5 -12.5zM2136 843.6l12.5 12.5l-12.5 12.5l-12.5 -12.5zM2137.9 843.6l12.5 12.5l-12.5 12.5l-12.5 -12.5zM2139.8 843.6l12.5 12.5l-12.5 12.5l-12.5 -12.5zM2141.7 843.6l12.5 12.5l-12.5 12.5l-12.5 -12.5zM2143.6 843.6l12.5 12.5l-12.5 12.5l-12.5 -12.5zM2145.5 843.6l12.5 12.5l-12.5 12.5l-12.5 -12.5zM2147.3 843.6l12.5 12.5l-12.5 12.5l-12.5 -12.5zM2149.2 843.6l12.5 12.5l-12.5 12.5l-12.5 -12.5zM2151 843.6l12.5 12.5l-12.5 12.5l-12.5 -12.5zM2152.9 843.6l12.5 12.5l-12.5 12.5l-12.5 -12.5zM2154.7 843.6l12.5 12.5l-12.5 12.5l-12.5 -12.5zM2156.5 843.6l12.5 12.5l-12.5 12.5l-12.5 -12.5zM2158.3 843.6l12.5 12.5l-12.5 12.5l-12.5 -12.5zM2160.1 843.6l12.5 12.5l-12.5 12.5l-12.5 -12.5zM2161.9 843.6l12.5 12.5l-12.5 12.5l-12.5 -12.5zM2163.7 843.6l12.5 12.5l-12.5 12.5l-12.5 -12.5zM2165.5 843.6l12.5 12.5l-12.5 12.5l-12.5 -12.5zM2167.3 843.6l12.5 12.5l-12.5 12.5l-12.5 -12.5zM2169 843.6l12.5 12.5l-12.5 12.5l-12.5 -12.5zM2170.8 843.6l12.5 12.5l-12.5 12.5l-12.5 -12.5zM2172.5 843.6l12.5 12.5l-12.5 12.5l-12.5 -12.5zM2174.3 843.6l12.5 12.5l-12.5 12.5l-12.5 -12.5zM2176 843.6l12.5 12.5l-12.5 12.5l-12.5 -12.5zM2177.7 843.6l12.5 12.5l-12.5 12.5l-12.5 -12.5zM2179.5 843.6l12.5 12.5l-12.5 12.5l-12.5 -12.5zM2181.2 843.6l12.5 12.5l-12.5 12.5l-12.5 -12.5zM2182.9 843.6l12.5 12.5l-12.5 12.5l-12.5 -12.5zM2184.6 843.6l12.5 12.5l-12.5 12.5l-12.5 -12.5zM2186.3 843.6l12.5 12.5l-12.5 12.5l-12.5 -12.5zM2187.9 843.6l12.5 12.5l-12.5 12.5l-12.5 -12.5zM2189.6 843.6l12.5 12.5l-12.5 12.5l-12.5 -12.5zM2191.3 843.6l12.5 12.5l-12.5 12.5l-12.5 -12.5zM2193 843.6l12.5 12.5l-12.5 12.5l-12.5 -12.5zM2194.6 843.6l12.5 12.5l-12.5 12.5l-12.5 -12.5zM2196.3 843.6l12.5 12.5l-12.5 12.5l-12.5 -12.5zM2197.9 843.6l12.5 12.5l-12.5 12.5l-12.5 -12.5zM2199.5 843.6l12.5 12.5l-12.5 12.5l-12.5 -12.5zM2201.2 843.6l12.5 12.5l-12.5 12.5l-12.5 -12.5zM2202.8 843.6l12.5 12.5l-12.5 12.5l-12.5 -12.5zM2204.4 843.6l12.5 12.5l-12.5 12.5l-12.5 -12.5z" fill="#808000"/>
<polyline points="303,1167.4 345.5,1142.5 384,1120 419.1,1106.7 451.4,1072.5 481.3,1030 509.1,1015 535.2,1013.3 559.6,968.3 582.7,914.2 604.5,905 625.2,895 644.9,866 663.7,861 681.6,846 698.8,824.3 715.3,812.7 731.1,782.7 746.3,766 761,744.3 775.2,704 788.9,685.5 802.1,669.7 814.9,665.5 827.3,630.8 839.4,609.5 851.1,591.7 862.4,560 873.5,534.2 884.3,511.7 894.7,493.3 905,478.3 914.9,457.5 924.7,455 934.2,461.7 943.4,466.7 952.5,486.7 961.4,511.7 970,541.7 978.5,565 986.9,598.3 995,620 1003,638.3 1010.8,646 1018.5,652 1026.1,656.7 1033.5,660 1040.8,665 1047.9,668.3 1054.9,673.3 1061.8,676.7 1068.6,677.5 1075.3,678.3 1081.8,678.3 1088.3,681.7 1094.6,690 1100.9,700 1107.1,710.8 1113.1,715 1119.1,718.3 1125,720 1130.8,723.3 1136.5,728.7 1142.2,734 1147.7,739.2 1153.2,743.9 1158.7,748.5 1164,753 1169.3,757.5 1174.5,757.9 1179.6,758.4 1184.7,758.8 1189.7,759.2 1194.7,760.2 1199.6,761.3 1204.4,762.3 1209.2,763.3 1213.9,763.1 1218.5,762.9 1223.2,762.7 1227.7,762.5 1232.2,762.7 1236.7,762.9 1241.1,763.1 1245.5,763.3 1249.8,763.7 1254,764.2 1258.3,764.6 1262.5,765 1266.6,767.5 1270.7,770.1 1274.8,772.5 1278.8,775 1282.7,780.7 1286.7,786.4 1290.6,792 1294.4,797.5 1298.3,798.3 1302.1,799.2 1305.8,800 1309.5,800.8 1313.2,799.1 1316.9,797.5 1320.5,795.8 1324.1,794.2 1327.6,791.7 1331.2,789.2 1334.6,786.7 1338.1,784.2 1341.5,782.7 1345,781.2 1348.3,779.8 1351.7,778.3 1355,778.5 1358.3,778.8 1361.6,779 1364.8,779.2 1368,781.1 1371.2,783 1374.4,784.8 1377.5,786.7 1380.6,789.9 1383.7,793 1386.8,796.1 1389.8,799.2 1392.9,801.1 1395.9,803 1398.8,804.8 1401.8,806.7 1404.7,809.2 1407.6,811.7 1410.5,814.2 1413.4,816.7 1416.3,817.3 1419.1,818 1421.9,818.6 1424.7,819.2 1427.5,817.3 1430.2,815.4 1433,813.6 1435.7,811.7 1438.4,811.3 1441.1,810.8 1443.7,810.4 1446.4,810 1449,811 1451.6,811.9 1454.2,812.9 1456.8,813.9 1459.4,814.8 1461.9,815.8 1464.4,816.7 1466.9,817.6 1469.4,818.6 1471.9,819.5 1474.4,820.2 1476.8,820.5 1479.3,820.9 1481.7,821.3 1484.1,821.6 1486.5,822 1488.9,822.3 1491.3,822.4 1493.6,822.3 1496,822.2 1498.3,822.1 1500.6,822 1502.9,821.9 1505.2,821.8 1507.5,821.7 1509.7,821.8 1512,821.8 1514.2,821.8 1516.4,821.9 1518.6,821.9 1520.8,822 1523,822 1525.2,822.4 1527.4,822.9 1529.5,823.4 1531.7,823.9 1533.8,824.4 1535.9,824.9 1538,825.3 1540.1,825.8 1542.2,826.6 1544.3,827.4 1546.3,828.1 1548.4,828.9 1550.4,829.7 1552.5,830.4 1554.5,831.2 1556.5,831.9 1558.5,831.9 1560.5,831.7 1562.5,831.6 1564.4,831.4 1566.4,831.3 1568.4,831.2 1570.3,831 1572.2,830.9 1574.2,830.8 1576.1,830.7 1578,830.6 1579.9,830.5 1581.8,830.4 1583.7,830.3 1585.5,830.2 1587.4,830.1 1589.3,830 1591.1,830.1 1592.9,830.1 1594.8,830.2 1596.6,830.3 1598.4,830.4 1600.2,830.5 1602,830.6 1603.8,830.7 1605.6,830.7 1607.4,830.8 1609.1,830.9 1610.9,831 1612.6,831.1 1614.4,831.2 1616.1,831.3 1617.8,831.4 1619.6,831.5 1621.3,831.5 1623,831.6 1624.7,831.7 1626.4,831.8 1628.1,831.9 1629.7,832 1631.4,832.1 1633.1,832.1 1634.7,832.2 1636.4,832.3 1638,832.4 1639.7,832.5 1641.3,832.6 1642.9,832.7 1644.5,832.8 1646.1,832.9 1647.8,833 1649.3,833.1 1650.9,833.2 1652.5,833.3 1654.1,833.3 1655.7,833.4 1657.2,833.5 1658.8,833.6 1660.4,833.7 1661.9,833.8 1663.5,833.9 1665,834 1666.5,834.1 1668.1,834.2 1669.6,834.3 1671.1,834.4 1672.6,834.5 1674.1,834.5 1675.6,834.6 1677.1,834.6 1678.6,834.6 1680.1,834.7 1681.5,834.7 1683,834.7 1684.5,834.8 1685.9,834.8 1687.4,834.8 1688.8,834.9 1690.3,834.9 1691.7,834.9 1693.1,835 1694.6,835 1696,835 1697.4,835.1 1698.8,835.1 1700.2,835.1 1701.6,835.2 1703,835.2 1704.4,835.2 1705.8,835.3 1707.2,835.4 1708.6,835.5 1710,835.6 1711.3,835.8 1712.7,835.9 1714.1,836.1 1715.4,836.2 1716.8,836.3 1718.1,836.5 1719.5,836.6 1720.8,836.7 1722.1,836.9 1723.5,837 1724.8,837.1 1726.1,837.3 1727.4,837.4 1728.7,837.5 1730,837.7 1731.3,837.8 1732.6,837.9 1733.9,838.1 1735.2,838.2 1736.5,838.3 1737.8,838.5 1739.1,838.6 1740.4,838.7 1741.6,838.7 1742.9,838.8 1744.2,838.8 1745.4,838.8 1746.7,838.9 1747.9,838.9 1749.2,838.9 1750.4,839 1751.7,839 1752.9,839 1754.1,839 1755.4,839.1 1756.6,839.1 1757.8,839.1 1759,839.2 1760.2,839.2 1761.4,839.2 1762.6,839.2 1763.9,839.3 1765.1,839.3 1766.2,839.3 1767.4,839.4 1768.6,839.4 1769.8,839.4 1771,839.4 1772.2,839.5 1773.3,839.5 1774.5,839.5 1775.7,839.4 1776.9,839.4 1778,839.3 1779.2,839.3 1780.3,839.2 1781.5,839.2 1782.6,839.1 1783.8,839.1 1784.9,839.1 1786,839 1787.2,839 1788.3,838.9 1789.4,838.9 1790.6,838.8 1791.7,838.8 1792.8,838.8 1793.9,838.7 1795,838.7 1796.2,838.6 1797.3,838.6 1798.4,838.5 1799.5,838.5 1800.6,838.5 1801.7,838.4 1802.8,838.4 1803.8,838.3 1804.9,838.3 1806,838.3 1807.1,838.2 1808.2,838.2 1809.2,838.1 1810.3,838.1 1811.4,838.1 1812.5,838 1813.5,838 1814.6,837.9 1815.6,837.9 1816.7,837.8 1817.7,837.8 1818.8,837.8 1819.8,837.8 1820.9,837.8 1821.9,837.8 1823,837.8 1824,837.8 1825,837.8 1826.1,837.7 1827.1,837.7 1828.1,837.7 1829.1,837.7 1830.2,837.7 1831.2,837.7 1832.2,837.7 1833.2,837.7 1834.2,837.7 1835.2,837.7 1836.2,837.7 1837.2,837.7 1838.2,837.7 1839.2,837.7 1840.2,837.7 1841.2,837.6 1842.2,837.6 1843.2,837.6 1844.2,837.6 1845.2,837.6 1846.1,837.6 1847.1,837.6 1848.1,837.6 1849.1,837.7 1850,837.8 1851,838 1852,838.2 1852.9,838.3 1853.9,838.5 1854.9,838.6 1855.8,838.8 1856.8,838.9 1857.7,839.1 1858.7,839.2 1859.6,839.4 1860.6,839.5 1861.5,839.7 1862.5,839.8 1863.4,840 1864.3,840.1 1865.3,840.3 1866.2,840.4 1867.1,840.6 1868.1,840.7 1869,840.9 1869.9,841 1870.8,841.1 1871.8,841.3 1872.7,841.4 1873.6,841.6 1874.5,841.7 1875.4,841.9 1876.3,842 1877.2,842.2 1878.1,842.3 1879,842.5 1880,842.6 1880.8,842.7 1881.7,842.9 1882.6,843 1883.5,843.2 1884.4,843.3 1885.3,843.3 1886.2,843.2 1887.1,843.2 1888,843.1 1888.9,843.1 1889.7,843.1 1890.6,843 1891.5,843 1892.4,842.9 1893.2,842.9 1894.1,842.9 1895,842.8 1895.8,842.8 1896.7,842.7 1897.6,842.7 1898.4,842.7 1899.3,842.6 1900.2,842.6 1901,842.5 1901.9,842.5 1902.7,842.5 1903.6,842.4 1904.4,842.4 1905.3,842.3 1906.1,842.3 1907,842.3 1907.8,842.2 1908.6,842.2 1909.5,842.1 1910.3,842.1 1911.1,842.1 1912,842 1912.8,842 1913.6,842 1914.5,841.9 1915.3,841.9 1916.1,841.8 1916.9,841.8 1917.8,841.8 1918.6,841.7 1919.4,841.7 1920.2,841.7 1921,841.6 1921.8,841.6 1922.7,841.5 1923.5,841.5 1924.3,841.5 1925.1,841.4 1925.9,841.4 1926.7,841.4 1927.5,841.3 1928.3,841.3 1929.1,841.2 1929.9,841.2 1930.7,841.2 1931.5,841.1 1932.3,841.1 1933.1,841.1 1933.8,841 1934.6,841 1935.4,841 1936.2,840.9 1937,840.9 1937.8,840.8 1938.5,840.8 1939.3,840.8 1940.1,840.7 1940.9,840.7 1941.6,840.7 1942.4,840.6 1943.2,840.6 1944,840.6 1944.7,840.5 1945.5,840.5 1946.3,840.5 1947,840.4 1947.8,840.4 1948.5,840.3 1949.3,840.3 1950.1,840.3 1950.8,840.2 1951.6,840.2 1952.3,840.2 1953.1,840.1 1953.8,840.1 1954.6,840.1 1955.3,840 1956.1,840 1956.8,840 1957.6,839.9 1958.3,839.9 1959,839.9 1959.8,840 1960.5,840 1961.3,840.1 1962,840.1 1962.7,840.2 1963.5,840.2 1964.2,840.3 1964.9,840.3 1965.7,840.3 1966.4,840.4 1967.1,840.4 1967.8,840.5 1968.6,840.5 1969.3,840.6 1970,840.6 1970.7,840.7 1971.4,840.7 1972.2,840.7 1972.9,840.8 1973.6,840.8 1974.3,840.9 1975,840.9 1975.7,841 1976.4,841 1977.1,841 1977.9,841.1 1978.6,841.1 1979.3,841.2 1980,841.2 1980.7,841.3 1981.4,841.3 1982.1,841.3 1982.8,841.4 1983.5,841.4 1984.2,841.5 1984.9,841.5 1985.6,841.6 1986.2,841.6 1986.9,841.6 1987.6,841.7 1988.3,841.7 1989,841.8 1989.7,841.8 1990.4,841.8 1991.1,841.9 1991.7,841.9 1992.4,842 1993.1,842 1993.8,842.1 1994.5,842.1 1995.1,842.1 1995.8,842.2 1996.5,842.2 1997.2,842.3 1997.8,842.3 1998.5,842.3 1999.2,842.4 1999.9,842.4 2000.5,842.5 2001.2,842.5 2001.9,842.5 2002.5,842.6 2003.2,842.6 2003.9,842.7 2004.5,842.7 2005.2,842.7 2005.8,842.8 2006.5,842.8 2007.2,842.9 2007.8,842.9 2008.5,842.9 2009.1,843 2009.8,843 2010.4,843.1 2011.1,843.1 2011.7,843.1 2012.4,843.1 2013,843.1 2013.7,843 2014.3,843 2015,843 2015.6,843 2016.3,843 2016.9,843 2017.5,843 2018.2,843 2018.8,842.9 2019.5,842.9 2020.1,842.9 2020.7,842.9 2021.4,842.9 2022,842.9 2022.6,842.9 2023.3,842.8 2023.9,842.8 2024.5,842.8 2025.2,842.8 2025.8,842.8 2026.4,842.8 2027,842.8 2027.7,842.8 2028.3,842.7 2028.9,842.7 2029.5,842.7 2030.1,842.7 2030.8,842.7 2031.4,842.7 2032,842.7 2032.6,842.7 2033.2,842.6 2033.9,842.6 2034.5,842.6 2035.1,842.6 2035.7,842.6 2036.3,842.6 2036.9,842.6 2037.5,842.6 2038.1,842.5 2038.7,842.5 2039.4,842.5 2040,842.5 2040.6,842.5 2041.2,842.5 2041.8,842.5 2042.4,842.5 2043,842.4 2043.6,842.4 2044.2,842.4 2044.8,842.4 2045.4,842.4 2046,842.4 2046.6,842.4 2047.2,842.4 2047.8,842.3 2048.4,842.3 2049,842.3 2049.5,842.3 2050.1,842.3 2050.7,842.3 2051.3,842.3 2051.9,842.3 2052.5,842.2 2053.1,842.2 2053.7,842.2 2054.3,842.2 2054.8,842.2 2055.4,842.2 2056,842.2 2056.6,842.2 2057.2,842.1 2057.7,842.1 2058.3,842.1 2058.9,842.1 2059.5,842.1 2060.1,842.1 2060.6,842.1 2061.2,842.1 2061.8,842.1 2062.4,842 2062.9,842 2063.5,842 2064.1,842 2064.6,842 2065.2,842 2065.8,842 2066.3,842 2066.9,841.9 2067.5,841.9 2068,841.9 2068.6,841.9 2069.2,841.9 2069.7,841.9 2070.3,841.9 2070.9,841.9 2071.4,841.9 2072,841.8 2072.5,841.8 2073.1,841.8 2073.7,841.8 2074.2,841.8 2074.8,841.8 2075.3,841.8 2075.9,841.9 2076.4,841.9 2077,841.9 2077.5,841.9 2078.1,841.9 2078.6,841.9 2079.2,842 2079.7,842 2080.3,842 2080.8,842 2081.4,842 2081.9,842 2082.5,842.1 2083,842.1 2083.6,842.1 2084.1,842.1 2084.7,842.1 2085.2,842.1 2085.7,842.2 2086.3,842.2 2086.8,842.2 2087.4,842.2 2087.9,842.2 2088.4,842.2 2089,842.3 2089.5,842.3 2090,842.3 2090.6,842.3 2091.1,842.3 2091.6,842.3 2092.2,842.4 2092.7,842.4 2093.2,842.4 2093.8,842.4 2094.3,842.4 2094.8,842.4 2095.4,842.5 2095.9,842.5 2096.4,842.5 2096.9,842.5 2097.5,842.5 2098,842.5 2098.5,842.5 2099,842.6 2099.6,842.6 2100.1,842.6 2100.6,842.6 2101.1,842.6 2101.7,842.6 2102.2,842.7 2102.7,842.7 2103.2,842.7 2103.7,842.7 2104.2,842.7 2104.8,842.7 2105.3,842.8 2105.8,842.8 2106.3,842.8 2106.8,842.8 2107.3,842.8 2107.8,842.8 2108.4,842.8 2108.9,842.9 2109.4,842.9 2109.9,842.9 2110.4,842.9 2110.9,842.9 2111.4,842.9 2111.9,843 2112.4,843 2112.9,843 2113.4,843 2113.9,843 2114.5,843 2115,843 2115.5,843.1 2116,843.1 2116.5,843.1 2117,843.1 2117.5,843.1 2118,843.1 2118.5,843.1 2119,843.1 2119.5,843.1 2120,843.1 2120.5,843.1 2120.9,843.1 2121.4,843.1 2121.9,843 2122.4,843 2122.9,843 2123.4,843 2123.9,843 2124.4,843 2124.9,843 2125.4,843 2125.9,843 2126.4,843 2126.9,843 2127.3,843 2127.8,843 2128.3,843 2128.8,843 2129.3,843 2129.8,843 2130.3,843 2130.7,843 2131.2,842.9 2131.7,842.9 2132.2,842.9 2132.7,842.9 2133.2,842.9 2133.6,842.9 2134.1,842.9 2134.6,842.9 2135.1,842.9 2135.6,842.9 2136,842.9 2136.5,842.9 2137,842.9 2137.5,842.9 2137.9,842.9 2138.4,842.9 2138.9,842.9 2139.4,842.9 2139.8,842.9 2140.3,842.9 2140.8,842.9 2141.3,842.8 2141.7,842.8 2142.2,842.8 2142.7,842.8 2143.1,842.8 2143.6,842.8 2144.1,842.8 2144.5,842.8 2145,842.8 2145.5,842.8 2145.9,842.8 2146.4,842.8 2146.9,842.8 2147.3,842.8 2147.8,842.8 2148.3,842.8 2148.7,842.8 2149.2,842.8 2149.6,842.8 2150.1,842.8 2150.6,842.8 2151,842.7 2151.5,842.7 2152,842.7 2152.4,842.7 2152.9,842.7 2153.3,842.7 2153.8,842.7 2154.2,842.7 2154.7,842.7 2155.2,842.7 2155.6,842.7 2156.1,842.7 2156.5,842.7 2157,842.7 2157.4,842.7 2157.9,842.7 2158.3,842.7 2158.8,842.7 2159.2,842.7 2159.7,842.7 2160.1,842.7 2160.6,842.6 2161,842.6 2161.5,842.6 2161.9,842.6 2162.4,842.6 2162.8,842.6 2163.3,842.6 2163.7,842.6 2164.2,842.6 2164.6,842.6 2165.1,842.6 2165.5,842.6 2165.9,842.6 2166.4,842.6 2166.8,842.6 2167.3,842.6 2167.7,842.6 2168.2,842.6 2168.6,842.6 2169,842.6 2169.5,842.6 2169.9,842.6 2170.3,842.5 2170.8,842.5 2171.2,842.5 2171.7,842.5 2172.1,842.5 2172.5,842.5 2173,842.5 2173.4,842.5 2173.8,842.5 2174.3,842.5 2174.7,842.5 2175.1,842.5 2175.6,842.5 2176,842.5 2176.4,842.5 2176.9,842.5 2177.3,842.5 2177.7,842.5 2178.2,842.5 2178.6,842.5 2179,842.5 2179.5,842.5 2179.9,842.4 2180.3,842.4 2180.7,842.4 2181.2,842.4 2181.6,842.4 2182,842.4 2182.4,842.4 2182.9,842.4 2183.3,842.4 2183.7,842.4 2184.1,842.4 2184.6,842.4 2185,842.4 2185.4,842.4 2185.8,842.4 2186.3,842.4 2186.7,842.4 2187.1,842.4 2187.5,842.4 2187.9,842.4 2188.4,842.4 2188.8,842.4 2189.2,842.4 2189.6,842.3 2190,842.3 2190.5,842.3 2190.9,842.3 2191.3,842.3 2191.7,842.3 2192.1,842.3 2192.5,842.3 2193,842.3 2193.4,842.3 2193.8,842.3 2194.2,842.3 2194.6,842.3 2195,842.3 2195.4,842.3 2195.8,842.3 2196.3,842.3 2196.7,842.3 2197.1,842.3 2197.5,842.3 2197.9,842.3 2198.3,842.3 2198.7,842.3 2199.1,842.3 2199.5,842.2 2199.9,842.2 2200.4,842.2 2200.8,842.2 2201.2,842.2 2201.6,842.2 2202,842.2 2202.4,842.2 2202.8,842.2 2203.2,842.2 2203.6,842.2 2204,842.2 2204.4,842.2" fill="none" stroke="#900080" stroke-width="7" stroke-linejoin="round" stroke-linecap="round"/>
<path d="M289.7 1167.4l20 -11.5v23zM438.1 1072.5l20 -11.5v23zM546.3 968.3l20 -11.5v23zM631.6 866l20 -11.5v23zM702 812.7l20 -11.5v23zM761.9 704l20 -11.5v23zM814 630.8l20 -11.5v23zM860.2 534.2l20 -11.5v23zM901.6 457.5l20 -11.5v23zM939.2 486.7l20 -11.5v23zM973.6 598.3l20 -11.5v23zM1005.2 652l20 -11.5v23zM1034.6 668.3l20 -11.5v23zM1062 678.3l20 -11.5v23zM1087.6 700l20 -11.5v23zM1111.7 720l20 -11.5v23zM1134.4 739.2l20 -11.5v23zM1156 757.5l20 -11.5v23zM1176.4 759.2l20 -11.5v23zM1195.9 763.3l20 -11.5v23zM1214.4 762.5l20 -11.5v23zM1232.2 763.3l20 -11.5v23zM1249.2 765l20 -11.5v23zM1265.5 775l20 -11.5v23zM1281.1 797.5l20 -11.5v23zM1296.2 800.8l20 -11.5v23zM1310.8 794.2l20 -11.5v23zM1324.8 784.2l20 -11.5v23zM1338.4 778.3l20 -11.5v23zM1351.5 779.2l20 -11.5v23zM1364.2 786.7l20 -11.5v23zM1376.5 799.2l20 -11.5v23zM1388.5 806.7l20 -11.5v23zM1400.1 816.7l20 -11.5v23zM1411.4 819.2l20 -11.5v23zM1422.4 811.7l20 -11.5v23zM1433.1 810l20 -11.5v23zM1443.5 813.9l20 -11.5v23zM1453.6 817.6l20 -11.5v23zM1463.5 820.5l20 -11.5v23zM1473.2 822l20 -11.5v23zM1482.7 822.2l20 -11.5v23zM1491.9 821.8l20 -11.5v23zM1500.9 821.8l20 -11.5v23zM1509.7 822l20 -11.5v23zM1518.4 823.9l20 -11.5v23zM1526.8 825.8l20 -11.5v23zM1535.1 828.9l20 -11.5v23zM1543.2 831.9l20 -11.5v23zM1551.1 831.4l20 -11.5v23zM1558.9 830.9l20 -11.5v23zM1566.6 830.5l20 -11.5v23zM1574.1 830.1l20 -11.5v23zM1581.5 830.2l20 -11.5v23zM1588.7 830.6l20 -11.5v23zM1595.8 830.9l20 -11.5v23zM1602.8 831.3l20 -11.5v23zM1609.7 831.6l20 -11.5v23zM1616.4 832l20 -11.5v23zM1623.1 832.3l20 -11.5v23zM1629.6 832.7l20 -11.5v23zM1636 833.1l20 -11.5v23zM1642.4 833.4l20 -11.5v23zM1648.6 833.8l20 -11.5v23zM1654.8 834.2l20 -11.5v23zM1660.8 834.5l20 -11.5v23zM1666.8 834.7l20 -11.5v23zM1672.6 834.8l20 -11.5v23zM1678.4 834.9l20 -11.5v23zM1684.1 835.1l20 -11.5v23zM1689.7 835.2l20 -11.5v23zM1695.3 835.5l20 -11.5v23zM1700.8 836.1l20 -11.5v23zM1706.2 836.6l20 -11.5v23zM1711.5 837.1l20 -11.5v23zM1716.7 837.7l20 -11.5v23zM1721.9 838.2l20 -11.5v23zM1727.1 838.7l20 -11.5v23zM1732.1 838.8l20 -11.5v23zM1737.1 839l20 -11.5v23zM1742.1 839.1l20 -11.5v23zM1746.9 839.2l20 -11.5v23zM1751.8 839.3l20 -11.5v23zM1756.5 839.4l20 -11.5v23zM1761.2 839.5l20 -11.5v23zM1765.9 839.3l20 -11.5v23zM1770.5 839.1l20 -11.5v23zM1775 838.9l20 -11.5v23zM1779.5 838.8l20 -11.5v23zM1784 838.6l20 -11.5v23zM1788.4 838.4l20 -11.5v23zM1792.7 838.3l20 -11.5v23zM1797 838.1l20 -11.5v23zM1801.3 837.9l20 -11.5v23zM1805.5 837.8l20 -11.5v23zM1809.7 837.8l20 -11.5v23zM1813.8 837.7l20 -11.5v23zM1817.9 837.7l20 -11.5v23zM1821.9 837.7l20 -11.5v23zM1825.9 837.7l20 -11.5v23zM1829.9 837.6l20 -11.5v23zM1833.8 837.6l20 -11.5v23zM1837.7 838l20 -11.5v23zM1841.6 838.6l20 -11.5v23zM1845.4 839.2l20 -11.5v23zM1849.2 839.8l20 -11.5v23zM1852.9 840.4l20 -11.5v23zM1856.6 841l20 -11.5v23zM1860.3 841.6l20 -11.5v23zM1863.9 842.2l20 -11.5v23zM1867.5 842.7l20 -11.5v23zM1871.1 843.3l20 -11.5v23zM1874.7 843.1l20 -11.5v23zM1878.2 843l20 -11.5v23zM1881.7 842.8l20 -11.5v23zM1885.1 842.7l20 -11.5v23zM1888.6 842.5l20 -11.5v23zM1892 842.3l20 -11.5v23zM1895.3 842.2l20 -11.5v23zM1898.7 842l20 -11.5v23zM1902 841.9l20 -11.5v23zM1905.3 841.7l20 -11.5v23zM1908.5 841.6l20 -11.5v23zM1911.8 841.4l20 -11.5v23zM1915 841.3l20 -11.5v23zM1918.2 841.1l20 -11.5v23zM1921.3 841l20 -11.5v23zM1924.5 840.8l20 -11.5v23zM1927.6 840.7l20 -11.5v23zM1930.7 840.6l20 -11.5v23zM1933.7 840.4l20 -11.5v23zM1936.8 840.3l20 -11.5v23zM1939.8 840.1l20 -11.5v23zM1942.8 840l20 -11.5v23zM1945.7 839.9l20 -11.5v23zM1948.7 840.1l20 -11.5v23zM1951.6 840.3l20 -11.5v23zM1954.5 840.5l20 -11.5v23zM1957.4 840.7l20 -11.5v23zM1960.3 840.8l20 -11.5v23zM1963.1 841l20 -11.5v23zM1966 841.2l20 -11.5v23zM1968.8 841.3l20 -11.5v23zM1971.6 841.5l20 -11.5v23zM1974.3 841.7l20 -11.5v23zM1977.1 841.8l20 -11.5v23zM1979.8 842l20 -11.5v23zM1982.5 842.2l20 -11.5v23zM1985.2 842.3l20 -11.5v23zM1987.9 842.5l20 -11.5v23zM1990.6 842.7l20 -11.5v23zM1993.2 842.8l20 -11.5v23zM1995.8 843l20 -11.5v23zM1998.4 843.1l20 -11.5v23zM2001 843l20 -11.5v23zM2003.6 843l20 -11.5v23zM2006.2 842.9l20 -11.5v23zM2008.7 842.9l20 -11.5v23zM2011.2 842.8l20 -11.5v23zM2013.7 842.8l20 -11.5v23zM2016.2 842.7l20 -11.5v23zM2018.7 842.7l20 -11.5v23zM2021.2 842.6l20 -11.5v23zM2023.6 842.6l20 -11.5v23zM2026.1 842.5l20 -11.5v23zM2028.5 842.5l20 -11.5v23zM2030.9 842.4l20 -11.5v23zM2033.3 842.4l20 -11.5v23zM2035.7 842.3l20 -11.5v23zM2038 842.3l20 -11.5v23zM2040.4 842.2l20 -11.5v23zM2042.7 842.2l20 -11.5v23zM2045 842.1l20 -11.5v23zM2047.3 842.1l20 -11.5v23zM2049.6 842l20 -11.5v23zM2051.9 842l20 -11.5v23zM2054.2 841.9l20 -11.5v23zM2056.4 841.9l20 -11.5v23zM2058.7 841.8l20 -11.5v23zM2060.9 841.8l20 -11.5v23zM2063.1 841.9l20 -11.5v23zM2065.3 841.9l20 -11.5v23zM2067.5 842l20 -11.5v23zM2069.7 842.1l20 -11.5v23zM2071.9 842.1l20 -11.5v23zM2074.1 842.2l20 -11.5v23zM2076.2 842.3l20 -11.5v23zM2078.3 842.3l20 -11.5v23zM2080.5 842.4l20 -11.5v23zM2082.6 842.5l20 -11.5v23zM2084.7 842.5l20 -11.5v23zM2086.8 842.6l20 -11.5v23zM2088.9 842.7l20 -11.5v23zM2090.9 842.7l20 -11.5v23zM2093 842.8l20 -11.5v23zM2095.1 842.8l20 -11.5v23zM2097.1 842.9l20 -11.5v23zM2099.1 843l20 -11.5v23zM2101.2 843l20 -11.5v23zM2103.2 843.1l20 -11.5v23zM2105.2 843.1l20 -11.5v23zM2107.2 843.1l20 -11.5v23zM2109.1 843l20 -11.5v23zM2111.1 843l20 -11.5v23zM2113.1 843l20 -11.5v23zM2115 843l20 -11.5v23zM2117 843l20 -11.5v23zM2118.9 842.9l20 -11.5v23zM2120.8 842.9l20 -11.5v23zM2122.7 842.9l20 -11.5v23zM2124.6 842.9l20 -11.5v23zM2126.5 842.9l20 -11.5v23zM2128.4 842.8l20 -11.5v23zM2130.3 842.8l20 -11.5v23zM2132.2 842.8l20 -11.5v23zM2134 842.8l20 -11.5v23zM2135.9 842.8l20 -11.5v23zM2137.7 842.7l20 -11.5v23zM2139.6 842.7l20 -11.5v23zM2141.4 842.7l20 -11.5v23zM2143.2 842.7l20 -11.5v23zM2145 842.7l20 -11.5v23zM2146.8 842.7l20 -11.5v23zM2148.6 842.6l20 -11.5v23zM2150.4 842.6l20 -11.5v23zM2152.2 842.6l20 -11.5v23zM2154 842.6l20 -11.5v23zM2155.7 842.6l20 -11.5v23zM2157.5 842.5l20 -11.5v23zM2159.2 842.5l20 -11.5v23zM2161 842.5l20 -11.5v23zM2162.7 842.5l20 -11.5v23zM2164.4 842.5l20 -11.5v23zM2166.2 842.5l20 -11.5v23zM2167.9 842.4l20 -11.5v23zM2169.6 842.4l20 -11.5v23zM2171.3 842.4l20 -11.5v23zM2173 842.4l20 -11.5v23zM2174.6 842.4l20 -11.5v23zM2176.3 842.3l20 -11.5v23zM2178 842.3l20 -11.5v23zM2179.7 842.3l20 -11.5v23zM2181.3 842.3l20 -11.5v23zM2183 842.3l20 -11.5v23zM2184.6 842.3l20 -11.5v23zM2186.2 842.2l20 -11.5v23zM2187.9 842.2l20 -11.5v23zM2189.5 842.2l20 -11.5v23zM2191.1 842.2l20 -11.5v23z" fill="#900080"/>
<polyline points="303,1156.4 345.5,1128.3 384,1102.9 419.1,1093.3 451.4,1078.8 481.3,1086.5 509.1,1046.7 535.2,1016.7 559.6,983.3 582.7,969.2 604.5,975.8 625.2,962.5 644.9,945 663.7,913.3 681.6,886.7 698.8,876.8 715.3,874.3 731.1,854.3 746.3,842.7 761,812.7 775.2,786.8 788.9,783.4 802.1,791.7 814.9,768.4 827.3,756 839.4,759.2 851.1,748 862.4,717 873.5,694 884.3,680 894.7,668 905,636.7 914.9,625 924.7,615 934.2,603.3 943.4,583.3 952.5,569.2 961.4,541.7 970,506.7 978.5,468.3 986.9,440.8 995,415 1003,400.8 1010.8,397.5 1018.5,398.3 1026.1,405 1033.5,412.5 1040.8,423.3 1047.9,439.2 1054.9,456.7 1061.8,483.3 1068.6,506.7 1075.3,524.2 1081.8,546.7 1088.3,566.7 1094.6,578.3 1100.9,591.7 1107.1,603.3 1113.1,615 1119.1,623.3 1125,629.6 1130.8,633.3 1136.5,637.3 1142.2,641.2 1147.7,645 1153.2,652.3 1158.7,659.5 1164,666.7 1169.3,673.7 1174.5,673.1 1179.6,672.5 1184.7,671.9 1189.7,671.3 1194.7,675.9 1199.6,680.4 1204.4,684.8 1209.2,689.2 1213.9,689 1218.5,688.7 1223.2,688.5 1227.7,688.3 1232.2,689.7 1236.7,691 1241.1,692.4 1245.5,693.7 1249.8,695.8 1254,697.9 1258.3,700 1262.5,702 1266.6,704.7 1270.7,707.5 1274.8,710.1 1278.8,712.8 1282.7,713.2 1286.7,713.5 1290.6,713.9 1294.4,714.2 1298.3,716.2 1302.1,718.1 1305.8,720.1 1309.5,722 1313.2,724.7 1316.9,727.4 1320.5,730.1 1324.1,732.8 1327.6,733.8 1331.2,734.8 1334.6,735.7 1338.1,736.7 1341.5,737.6 1345,738.5 1348.3,739.4 1351.7,740.3 1355,740.3 1358.3,740.3 1361.6,740.3 1364.8,740.3 1368,742.6 1371.2,744.9 1374.4,747.2 1377.5,749.5 1380.6,746.9 1383.7,744.3 1386.8,741.7 1389.8,739.2 1392.9,738.2 1395.9,737.2 1398.8,736.3 1401.8,735.3 1404.7,737 1407.6,738.7 1410.5,740.3 1413.4,742 1416.3,745 1419.1,747.9 1421.9,750.8 1424.7,753.7 1427.5,756.1 1430.2,758.5 1433,760.9 1435.7,763.3 1438.4,763.6 1441.1,763.9 1443.7,764.2 1446.4,764.5 1449,763.4 1451.6,762.2 1454.2,761.1 1456.8,760 1459.4,759.2 1461.9,758.4 1464.4,757.7 1466.9,756.9 1469.4,756.2 1471.9,755.4 1474.4,755.6 1476.8,756.8 1479.3,758.1 1481.7,759.4 1484.1,760.6 1486.5,761.9 1488.9,763.1 1491.3,764.1 1493.6,765 1496,765.8 1498.3,766.6 1500.6,767.4 1502.9,768.2 1505.2,769 1507.5,769.7 1509.7,770.4 1512,771 1514.2,771.6 1516.4,772.3 1518.6,772.9 1520.8,773.5 1523,774.1 1525.2,774.6 1527.4,775 1529.5,775.4 1531.7,775.9 1533.8,776.3 1535.9,776.7 1538,777.1 1540.1,777.5 1542.2,777.6 1544.3,777.7 1546.3,777.8 1548.4,777.9 1550.4,778 1552.5,778.1 1554.5,778.2 1556.5,778.3 1558.5,778.3 1560.5,778.3 1562.5,778.3 1564.4,778.3 1566.4,778.3 1568.4,778.3 1570.3,778.3 1572.2,778.3 1574.2,778.4 1576.1,778.7 1578,779 1579.9,779.3 1581.8,779.6 1583.7,779.9 1585.5,780.1 1587.4,780.4 1589.3,780.7 1591.1,781.1 1592.9,781.5 1594.8,782 1596.6,782.5 1598.4,782.9 1600.2,783.4 1602,783.8 1603.8,784.3 1605.6,784.7 1607.4,785.1 1609.1,785.5 1610.9,785.8 1612.6,786.2 1614.4,786.5 1616.1,786.9 1617.8,787.2 1619.6,787.6 1621.3,787.9 1623,788.2 1624.7,788.6 1626.4,788.9 1628.1,789.3 1629.7,789.6 1631.4,790 1633.1,790.3 1634.7,790.6 1636.4,791 1638,791.3 1639.7,791.6 1641.3,791.8 1642.9,791.9 1644.5,792 1646.1,792.1 1647.8,792.2 1649.3,792.3 1650.9,792.4 1652.5,792.5 1654.1,792.6 1655.7,792.7 1657.2,792.8 1658.8,792.8 1660.4,792.8 1661.9,792.8 1663.5,792.8 1665,792.8 1666.5,792.8 1668.1,792.8 1669.6,792.8 1671.1,792.8 1672.6,792.8 1674.1,792.5 1675.6,791.9 1677.1,791.3 1678.6,790.7 1680.1,790.1 1681.5,789.5 1683,789 1684.5,788.4 1685.9,787.8 1687.4,787.2 1688.8,786.7 1690.3,786.2 1691.7,786.1 1693.1,786 1694.6,786 1696,785.9 1697.4,785.8 1698.8,785.7 1700.2,785.6 1701.6,785.6 1703,785.5 1704.4,785.4 1705.8,785.3 1707.2,785.3 1708.6,785.5 1710,785.6 1711.3,785.7 1712.7,785.8 1714.1,785.9 1715.4,786 1716.8,786.1 1718.1,786.3 1719.5,786.4 1720.8,786.5 1722.1,786.6 1723.5,786.7 1724.8,786.9 1726.1,787.2 1727.4,787.4 1728.7,787.6 1730,787.8 1731.3,788 1732.6,788.3 1733.9,788.5 1735.2,788.7 1736.5,788.9 1737.8,789.1 1739.1,789.3 1740.4,789.5 1741.6,789.4 1742.9,789.3 1744.2,789.2 1745.4,789.1 1746.7,789 1747.9,788.9 1749.2,788.8 1750.4,788.8 1751.7,788.7 1752.9,788.6 1754.1,788.5 1755.4,788.4 1756.6,788.3 1757.8,788.2 1759,788.2 1760.2,788.1 1761.4,788 1762.6,787.9 1763.9,787.9 1765.1,787.8 1766.2,787.7 1767.4,787.7 1768.6,787.6 1769.8,787.5 1771,787.4 1772.2,787.4 1773.3,787.3 1774.5,787.4 1775.7,787.5 1776.9,787.6 1778,787.7 1779.2,787.8 1780.3,787.9 1781.5,788 1782.6,788.1 1783.8,788.2 1784.9,788.3 1786,788.4 1787.2,788.5 1788.3,788.6 1789.4,788.7 1790.6,788.8 1791.7,789 1792.8,789.1 1793.9,789.3 1795,789.5 1796.2,789.6 1797.3,789.8 1798.4,790 1799.5,790.1 1800.6,790.3 1801.7,790.4 1802.8,790.6 1803.8,790.8 1804.9,790.9 1806,791.1 1807.1,791.3 1808.2,791.4 1809.2,791.6 1810.3,791.7 1811.4,791.9 1812.5,792 1813.5,792.2 1814.6,792.3 1815.6,792.5 1816.7,792.6 1817.7,792.8 1818.8,793 1819.8,793.2 1820.9,793.5 1821.9,793.7 1823,794 1824,794.2 1825,794.5 1826.1,794.7 1827.1,794.9 1828.1,795.2 1829.1,795.4 1830.2,795.7 1831.2,795.9 1832.2,796.1 1833.2,796.4 1834.2,796.6 1835.2,796.8 1836.2,797.1 1837.2,797.3 1838.2,797.5 1839.2,797.4 1840.2,797.4 1841.2,797.3 1842.2,797.2 1843.2,797.2 1844.2,797.1 1845.2,797 1846.1,797 1847.1,796.9 1848.1,796.8 1849.1,796.8 1850,796.7 1851,796.7 1852,796.6 1852.9,796.5 1853.9,796.5 1854.9,796.4 1855.8,796.3 1856.8,796.3 1857.7,796.2 1858.7,796.2 1859.6,796.1 1860.6,796 1861.5,796 1862.5,795.9 1863.4,795.9 1864.3,795.8 1865.3,795.7 1866.2,795.7 1867.1,795.6 1868.1,795.6 1869,795.5 1869.9,795.4 1870.8,795.4 1871.8,795.3 1872.7,795.3 1873.6,795.2 1874.5,795.1 1875.4,795.1 1876.3,795 1877.2,795 1878.1,794.9 1879,794.8 1880,794.8 1880.8,794.7 1881.7,794.7 1882.6,794.6 1883.5,794.6 1884.4,794.5 1885.3,794.5 1886.2,794.4 1887.1,794.4 1888,794.3 1888.9,794.3 1889.7,794.2 1890.6,794.2 1891.5,794.1 1892.4,794.1 1893.2,794.1 1894.1,794 1895,794 1895.8,793.9 1896.7,793.9 1897.6,793.8 1898.4,793.8 1899.3,793.8 1900.2,793.7 1901,793.7 1901.9,793.6 1902.7,793.6 1903.6,793.5 1904.4,793.5 1905.3,793.5 1906.1,793.4 1907,793.4 1907.8,793.3 1908.6,793.3 1909.5,793.3 1910.3,793.2 1911.1,793.2 1912,793.1 1912.8,793.1 1913.6,793 1914.5,793 1915.3,793 1916.1,792.9 1916.9,792.9 1917.8,792.8 1918.6,792.8 1919.4,792.8 1920.2,792.7 1921,792.7 1921.8,792.6 1922.7,792.6 1923.5,792.6 1924.3,792.5 1925.1,792.5 1925.9,792.4 1926.7,792.4 1927.5,792.5 1928.3,792.5 1929.1,792.6 1929.9,792.6 1930.7,792.7 1931.5,792.7 1932.3,792.8 1933.1,792.9 1933.8,792.9 1934.6,793 1935.4,793 1936.2,793.1 1937,793.1 1937.8,793.2 1938.5,793.2 1939.3,793.3 1940.1,793.3 1940.9,793.4 1941.6,793.5 1942.4,793.5 1943.2,793.6 1944,793.6 1944.7,793.7 1945.5,793.7 1946.3,793.8 1947,793.8 1947.8,793.9 1948.5,793.9 1949.3,794 1950.1,794 1950.8,794.1 1951.6,794.2 1952.3,794.2 1953.1,794.3 1953.8,794.3 1954.6,794.4 1955.3,794.4 1956.1,794.5 1956.8,794.5 1957.6,794.6 1958.3,794.6 1959,794.7 1959.8,794.7 1960.5,794.8 1961.3,794.8 1962,794.9 1962.7,794.9 1963.5,795 1964.2,795 1964.9,795.1 1965.7,795.1 1966.4,795.2 1967.1,795.2 1967.8,795.3 1968.6,795.3 1969.3,795.4 1970,795.4 1970.7,795.5 1971.4,795.5 1972.2,795.6 1972.9,795.6 1973.6,795.7 1974.3,795.7 1975,795.8 1975.7,795.8 1976.4,795.9 1977.1,795.9 1977.9,796 1978.6,796 1979.3,796.1 1980,796.1 1980.7,796.2 1981.4,796.2 1982.1,796.3 1982.8,796.3 1983.5,796.4 1984.2,796.4 1984.9,796.4 1985.6,796.3 1986.2,796.3 1986.9,796.3 1987.6,796.3 1988.3,796.2 1989,796.2 1989.7,796.2 1990.4,796.2 1991.1,796.1 1991.7,796.1 1992.4,796.1 1993.1,796.1 1993.8,796 1994.5,796 1995.1,796 1995.8,796 1996.5,795.9 1997.2,795.9 1997.8,795.9 1998.5,795.9 1999.2,795.8 1999.9,795.8 2000.5,795.8 2001.2,795.8 2001.9,795.7 2002.5,795.7 2003.2,795.7 2003.9,795.7 2004.5,795.6 2005.2,795.6 2005.8,795.6 2006.5,795.6 2007.2,795.5 2007.8,795.5 2008.5,795.5 2009.1,795.5 2009.8,795.4 2010.4,795.4 2011.1,795.4 2011.7,795.4 2012.4,795.5 2013,795.5 2013.7,795.5 2014.3,795.6 2015,795.6 2015.6,795.7 2016.3,795.7 2016.9,795.7 2017.5,795.8 2018.2,795.8 2018.8,795.8 2019.5,795.9 2020.1,795.9 2020.7,795.9 2021.4,796 2022,796 2022.6,796 2023.3,796.1 2023.9,796.1 2024.5,796.1 2025.2,796.2 2025.8,796.2 2026.4,796.2 2027,796.3 2027.7,796.3 2028.3,796.3 2028.9,796.4 2029.5,796.4 2030.1,796.4 2030.8,796.5 2031.4,796.5 2032,796.5 2032.6,796.6 2033.2,796.6 2033.9,796.6 2034.5,796.7 2035.1,796.7 2035.7,796.7 2036.3,796.8 2036.9,796.8 2037.5,796.8 2038.1,796.9 2038.7,796.9 2039.4,796.9 2040,796.8 2040.6,796.8 2041.2,796.8 2041.8,796.8 2042.4,796.7 2043,796.7 2043.6,796.7 2044.2,796.7 2044.8,796.6 2045.4,796.6 2046,796.6 2046.6,796.6 2047.2,796.5 2047.8,796.5 2048.4,796.5 2049,796.5 2049.5,796.4 2050.1,796.4 2050.7,796.4 2051.3,796.4 2051.9,796.3 2052.5,796.3 2053.1,796.3 2053.7,796.3 2054.3,796.2 2054.8,796.2 2055.4,796.2 2056,796.2 2056.6,796.1 2057.2,796.1 2057.7,796.1 2058.3,796.1 2058.9,796 2059.5,796 2060.1,796 2060.6,796 2061.2,795.9 2061.8,795.9 2062.4,795.9 2062.9,795.9 2063.5,795.8 2064.1,795.8 2064.6,795.8 2065.2,795.8 2065.8,795.7 2066.3,795.7 2066.9,795.7 2067.5,795.7 2068,795.7 2068.6,795.6 2069.2,795.6 2069.7,795.6 2070.3,795.6 2070.9,795.5 2071.4,795.5 2072,795.5 2072.5,795.5 2073.1,795.4 2073.7,795.4 2074.2,795.4 2074.8,795.4 2075.3,795.4 2075.9,795.4 2076.4,795.4 2077,795.4 2077.5,795.4 2078.1,795.4 2078.6,795.4 2079.2,795.4 2079.7,795.4 2080.3,795.4 2080.8,795.4 2081.4,795.4 2081.9,795.4 2082.5,795.4 2083,795.4 2083.6,795.4 2084.1,795.4 2084.7,795.4 2085.2,795.4 2085.7,795.4 2086.3,795.4 2086.8,795.4 2087.4,795.4 2087.9,795.4 2088.4,795.4 2089,795.4 2089.5,795.4 2090,795.4 2090.6,795.4 2091.1,795.4 2091.6,795.4 2092.2,795.4 2092.7,795.4 2093.2,795.4 2093.8,795.4 2094.3,795.4 2094.8,795.4 2095.4,795.4 2095.9,795.4 2096.4,795.4 2096.9,795.4 2097.5,795.4 2098,795.4 2098.5,795.4 2099,795.4 2099.6,795.4 2100.1,795.4 2100.6,795.4 2101.1,795.4 2101.7,795.4 2102.2,795.4 2102.7,795.4 2103.2,795.4 2103.7,795.4 2104.2,795.4 2104.8,795.4 2105.3,795.4 2105.8,795.4 2106.3,795.4 2106.8,795.4 2107.3,795.4 2107.8,795.4 2108.4,795.4 2108.9,795.4 2109.4,795.4 2109.9,795.4 2110.4,795.4 2110.9,795.4 2111.4,795.4 2111.9,795.4 2112.4,795.4 2112.9,795.4 2113.4,795.4 2113.9,795.4 2114.5,795.4 2115,795.4 2115.5,795.4 2116,795.4 2116.5,795.4 2117,795.4 2117.5,795.4 2118,795.4 2118.5,795.4 2119,795.4 2119.5,795.4 2120,795.4 2120.5,795.4 2120.9,795.4 2121.4,795.4 2121.9,795.5 2122.4,795.5 2122.9,795.5 2123.4,795.5 2123.9,795.5 2124.4,795.5 2124.9,795.5 2125.4,795.5 2125.9,795.5 2126.4,795.5 2126.9,795.5 2127.3,795.5 2127.8,795.5 2128.3,795.5 2128.8,795.5 2129.3,795.5 2129.8,795.5 2130.3,795.5 2130.7,795.5 2131.2,795.5 2131.7,795.5 2132.2,795.5 2132.7,795.6 2133.2,795.6 2133.6,795.6 2134.1,795.6 2134.6,795.6 2135.1,795.6 2135.6,795.6 2136,795.6 2136.5,795.6 2137,795.6 2137.5,795.6 2137.9,795.6 2138.4,795.6 2138.9,795.6 2139.4,795.6 2139.8,795.6 2140.3,795.6 2140.8,795.6 2141.3,795.6 2141.7,795.6 2142.2,795.6 2142.7,795.6 2143.1,795.7 2143.6,795.7 2144.1,795.7 2144.5,795.7 2145,795.7 2145.5,795.7 2145.9,795.7 2146.4,795.7 2146.9,795.7 2147.3,795.7 2147.8,795.7 2148.3,795.7 2148.7,795.7 2149.2,795.7 2149.6,795.7 2150.1,795.7 2150.6,795.7 2151,795.7 2151.5,795.7 2152,795.7 2152.4,795.7 2152.9,795.7 2153.3,795.7 2153.8,795.8 2154.2,795.8 2154.7,795.8 2155.2,795.8 2155.6,795.8 2156.1,795.8 2156.5,795.8 2157,795.8 2157.4,795.8 2157.9,795.8 2158.3,795.8 2158.8,795.8 2159.2,795.8 2159.7,795.8 2160.1,795.9 2160.6,795.9 2161,795.9 2161.5,795.9 2161.9,796 2162.4,796 2162.8,796 2163.3,796 2163.7,796.1 2164.2,796.1 2164.6,796.1 2165.1,796.1 2165.5,796.2 2165.9,796.2 2166.4,796.2 2166.8,796.2 2167.3,796.3 2167.7,796.3 2168.2,796.3 2168.6,796.3 2169,796.3 2169.5,796.4 2169.9,796.4 2170.3,796.4 2170.8,796.4 2171.2,796.5 2171.7,796.5 2172.1,796.5 2172.5,796.5 2173,796.6 2173.4,796.6 2173.8,796.6 2174.3,796.6 2174.7,796.7 2175.1,796.7 2175.6,796.7 2176,796.7 2176.4,796.7 2176.9,796.8 2177.3,796.8 2177.7,796.8 2178.2,796.8 2178.6,796.9 2179,796.9 2179.5,796.9 2179.9,796.9 2180.3,797 2180.7,797 2181.2,797 2181.6,797 2182,797 2182.4,797.1 2182.9,797.1 2183.3,797.1 2183.7,797.1 2184.1,797.2 2184.6,797.2 2185,797.2 2185.4,797.2 2185.8,797.3 2186.3,797.3 2186.7,797.3 2187.1,797.3 2187.5,797.3 2187.9,797.4 2188.4,797.4 2188.8,797.4 2189.2,797.4 2189.6,797.5 2190,797.5 2190.5,797.5 2190.9,797.5 2191.3,797.5 2191.7,797.5 2192.1,797.4 2192.5,797.4 2193,797.4 2193.4,797.4 2193.8,797.4 2194.2,797.4 2194.6,797.3 2195,797.3 2195.4,797.3 2195.8,797.3 2196.3,797.3 2196.7,797.3 2197.1,797.3 2197.5,797.2 2197.9,797.2 2198.3,797.2 2198.7,797.2 2199.1,797.2 2199.5,797.2 2199.9,797.2 2200.4,797.1 2200.8,797.1 2201.2,797.1 2201.6,797.1 2202,797.1 2202.4,797.1 2202.8,797 2203.2,797 2203.6,797 2204,797 2204.4,797" fill="none" stroke="#008000" stroke-width="7" stroke-linejoin="round" stroke-linecap="round"/>
<path d="M316.3 1156.4l-20 -11.5v23zM464.7 1078.8l-20 -11.5v23zM572.9 983.3l-20 -11.5v23zM658.2 945l-20 -11.5v23zM728.6 874.3l-20 -11.5v23zM788.5 786.8l-20 -11.5v23zM840.6 756l-20 -11.5v23zM886.8 694l-20 -11.5v23zM928.2 625l-20 -11.5v23zM965.8 569.2l-20 -11.5v23zM1000.2 440.8l-20 -11.5v23zM1031.8 398.3l-20 -11.5v23zM1061.2 439.2l-20 -11.5v23zM1088.6 524.2l-20 -11.5v23zM1114.2 591.7l-20 -11.5v23zM1138.3 629.6l-20 -11.5v23zM1161 645l-20 -11.5v23zM1182.6 673.7l-20 -11.5v23zM1203 671.3l-20 -11.5v23zM1222.5 689.2l-20 -11.5v23zM1241 688.3l-20 -11.5v23zM1258.8 693.7l-20 -11.5v23zM1275.8 702l-20 -11.5v23zM1292.1 712.8l-20 -11.5v23zM1307.7 714.2l-20 -11.5v23zM1322.8 722l-20 -11.5v23zM1337.4 732.8l-20 -11.5v23zM1351.4 736.7l-20 -11.5v23zM1365 740.3l-20 -11.5v23zM1378.1 740.3l-20 -11.5v23zM1390.8 749.5l-20 -11.5v23zM1403.1 739.2l-20 -11.5v23zM1415.1 735.3l-20 -11.5v23zM1426.7 742l-20 -11.5v23zM1438 753.7l-20 -11.5v23zM1449 763.3l-20 -11.5v23zM1459.7 764.5l-20 -11.5v23zM1470.1 760l-20 -11.5v23zM1480.2 756.9l-20 -11.5v23zM1490.1 756.8l-20 -11.5v23zM1499.8 761.9l-20 -11.5v23zM1509.3 765.8l-20 -11.5v23zM1518.5 769l-20 -11.5v23zM1527.5 771.6l-20 -11.5v23zM1536.3 774.1l-20 -11.5v23zM1545 775.9l-20 -11.5v23zM1553.4 777.5l-20 -11.5v23zM1561.7 777.9l-20 -11.5v23zM1569.8 778.3l-20 -11.5v23zM1577.7 778.3l-20 -11.5v23zM1585.5 778.3l-20 -11.5v23zM1593.2 779.3l-20 -11.5v23zM1600.7 780.4l-20 -11.5v23zM1608.1 782l-20 -11.5v23zM1615.3 783.8l-20 -11.5v23zM1622.4 785.5l-20 -11.5v23zM1629.4 786.9l-20 -11.5v23zM1636.3 788.2l-20 -11.5v23zM1643 789.6l-20 -11.5v23zM1649.7 791l-20 -11.5v23zM1656.2 791.9l-20 -11.5v23zM1662.6 792.3l-20 -11.5v23zM1669 792.7l-20 -11.5v23zM1675.2 792.8l-20 -11.5v23zM1681.4 792.8l-20 -11.5v23zM1687.4 792.5l-20 -11.5v23zM1693.4 790.1l-20 -11.5v23zM1699.2 787.8l-20 -11.5v23zM1705 786.1l-20 -11.5v23zM1710.7 785.8l-20 -11.5v23zM1716.3 785.5l-20 -11.5v23zM1721.9 785.5l-20 -11.5v23zM1727.4 785.9l-20 -11.5v23zM1732.8 786.4l-20 -11.5v23zM1738.1 786.9l-20 -11.5v23zM1743.3 787.8l-20 -11.5v23zM1748.5 788.7l-20 -11.5v23zM1753.7 789.5l-20 -11.5v23zM1758.7 789.1l-20 -11.5v23zM1763.7 788.8l-20 -11.5v23zM1768.7 788.4l-20 -11.5v23zM1773.5 788.1l-20 -11.5v23zM1778.4 787.8l-20 -11.5v23zM1783.1 787.5l-20 -11.5v23zM1787.8 787.4l-20 -11.5v23zM1792.5 787.8l-20 -11.5v23zM1797.1 788.2l-20 -11.5v23zM1801.6 788.6l-20 -11.5v23zM1806.1 789.1l-20 -11.5v23zM1810.6 789.8l-20 -11.5v23zM1815 790.4l-20 -11.5v23zM1819.3 791.1l-20 -11.5v23zM1823.6 791.7l-20 -11.5v23zM1827.9 792.3l-20 -11.5v23zM1832.1 793l-20 -11.5v23zM1836.3 794l-20 -11.5v23zM1840.4 794.9l-20 -11.5v23zM1844.5 795.9l-20 -11.5v23zM1848.5 796.8l-20 -11.5v23zM1852.5 797.4l-20 -11.5v23zM1856.5 797.2l-20 -11.5v23zM1860.4 796.9l-20 -11.5v23zM1864.3 796.7l-20 -11.5v23zM1868.2 796.4l-20 -11.5v23zM1872 796.2l-20 -11.5v23zM1875.8 795.9l-20 -11.5v23zM1879.5 795.7l-20 -11.5v23zM1883.2 795.4l-20 -11.5v23zM1886.9 795.2l-20 -11.5v23zM1890.5 795l-20 -11.5v23zM1894.1 794.7l-20 -11.5v23zM1897.7 794.5l-20 -11.5v23zM1901.3 794.3l-20 -11.5v23zM1904.8 794.1l-20 -11.5v23zM1908.3 794l-20 -11.5v23zM1911.7 793.8l-20 -11.5v23zM1915.2 793.6l-20 -11.5v23zM1918.6 793.5l-20 -11.5v23zM1921.9 793.3l-20 -11.5v23zM1925.3 793.1l-20 -11.5v23zM1928.6 793l-20 -11.5v23zM1931.9 792.8l-20 -11.5v23zM1935.1 792.6l-20 -11.5v23zM1938.4 792.5l-20 -11.5v23zM1941.6 792.5l-20 -11.5v23zM1944.8 792.7l-20 -11.5v23zM1947.9 793l-20 -11.5v23zM1951.1 793.2l-20 -11.5v23zM1954.2 793.4l-20 -11.5v23zM1957.3 793.6l-20 -11.5v23zM1960.3 793.8l-20 -11.5v23zM1963.4 794l-20 -11.5v23zM1966.4 794.3l-20 -11.5v23zM1969.4 794.5l-20 -11.5v23zM1972.3 794.7l-20 -11.5v23zM1975.3 794.9l-20 -11.5v23zM1978.2 795.1l-20 -11.5v23zM1981.1 795.3l-20 -11.5v23zM1984 795.5l-20 -11.5v23zM1986.9 795.7l-20 -11.5v23zM1989.7 795.9l-20 -11.5v23zM1992.6 796.1l-20 -11.5v23zM1995.4 796.3l-20 -11.5v23zM1998.2 796.4l-20 -11.5v23zM2000.9 796.3l-20 -11.5v23zM2003.7 796.2l-20 -11.5v23zM2006.4 796.1l-20 -11.5v23zM2009.1 796l-20 -11.5v23zM2011.8 795.9l-20 -11.5v23zM2014.5 795.8l-20 -11.5v23zM2017.2 795.7l-20 -11.5v23zM2019.8 795.6l-20 -11.5v23zM2022.4 795.5l-20 -11.5v23zM2025 795.4l-20 -11.5v23zM2027.6 795.6l-20 -11.5v23zM2030.2 795.7l-20 -11.5v23zM2032.8 795.9l-20 -11.5v23zM2035.3 796l-20 -11.5v23zM2037.8 796.1l-20 -11.5v23zM2040.3 796.3l-20 -11.5v23zM2042.8 796.4l-20 -11.5v23zM2045.3 796.5l-20 -11.5v23zM2047.8 796.7l-20 -11.5v23zM2050.2 796.8l-20 -11.5v23zM2052.7 796.9l-20 -11.5v23zM2055.1 796.8l-20 -11.5v23zM2057.5 796.7l-20 -11.5v23zM2059.9 796.6l-20 -11.5v23zM2062.3 796.5l-20 -11.5v23zM2064.6 796.4l-20 -11.5v23zM2067 796.3l-20 -11.5v23zM2069.3 796.2l-20 -11.5v23zM2071.6 796.1l-20 -11.5v23zM2073.9 796l-20 -11.5v23zM2076.2 795.9l-20 -11.5v23zM2078.5 795.8l-20 -11.5v23zM2080.8 795.7l-20 -11.5v23zM2083 795.6l-20 -11.5v23zM2085.3 795.5l-20 -11.5v23zM2087.5 795.4l-20 -11.5v23zM2089.7 795.4l-20 -11.5v23zM2091.9 795.4l-20 -11.5v23zM2094.1 795.4l-20 -11.5v23zM2096.3 795.4l-20 -11.5v23zM2098.5 795.4l-20 -11.5v23zM2100.7 795.4l-20 -11.5v23zM2102.8 795.4l-20 -11.5v23zM2104.9 795.4l-20 -11.5v23zM2107.1 795.4l-20 -11.5v23zM2109.2 795.4l-20 -11.5v23zM2111.3 795.4l-20 -11.5v23zM2113.4 795.4l-20 -11.5v23zM2115.5 795.4l-20 -11.5v23zM2117.5 795.4l-20 -11.5v23zM2119.6 795.4l-20 -11.5v23zM2121.7 795.4l-20 -11.5v23zM2123.7 795.4l-20 -11.5v23zM2125.7 795.4l-20 -11.5v23zM2127.8 795.4l-20 -11.5v23zM2129.8 795.4l-20 -11.5v23zM2131.8 795.4l-20 -11.5v23zM2133.8 795.4l-20 -11.5v23zM2135.7 795.5l-20 -11.5v23zM2137.7 795.5l-20 -11.5v23zM2139.7 795.5l-20 -11.5v23zM2141.6 795.5l-20 -11.5v23zM2143.6 795.5l-20 -11.5v23zM2145.5 795.5l-20 -11.5v23zM2147.4 795.6l-20 -11.5v23zM2149.3 795.6l-20 -11.5v23zM2151.2 795.6l-20 -11.5v23zM2153.1 795.6l-20 -11.5v23zM2155 795.6l-20 -11.5v23zM2156.9 795.7l-20 -11.5v23zM2158.8 795.7l-20 -11.5v23zM2160.6 795.7l-20 -11.5v23zM2162.5 795.7l-20 -11.5v23zM2164.3 795.7l-20 -11.5v23zM2166.2 795.7l-20 -11.5v23zM2168 795.8l-20 -11.5v23zM2169.8 795.8l-20 -11.5v23zM2171.6 795.8l-20 -11.5v23zM2173.4 795.9l-20 -11.5v23zM2175.2 796l-20 -11.5v23zM2177 796.1l-20 -11.5v23zM2178.8 796.2l-20 -11.5v23zM2180.6 796.3l-20 -11.5v23zM2182.3 796.3l-20 -11.5v23zM2184.1 796.4l-20 -11.5v23zM2185.8 796.5l-20 -11.5v23zM2187.6 796.6l-20 -11.5v23zM2189.3 796.7l-20 -11.5v23zM2191 796.8l-20 -11.5v23zM2192.8 796.9l-20 -11.5v23zM2194.5 797l-20 -11.5v23zM2196.2 797.1l-20 -11.5v23zM2197.9 797.2l-20 -11.5v23zM2199.6 797.3l-20 -11.5v23zM2201.2 797.4l-20 -11.5v23zM2202.9 797.5l-20 -11.5v23zM2204.6 797.5l-20 -11.5v23zM2206.3 797.4l-20 -11.5v23zM2207.9 797.3l-20 -11.5v23zM2209.6 797.3l-20 -11.5v23zM2211.2 797.2l-20 -11.5v23zM2212.8 797.2l-20 -11.5v23zM2214.5 797.1l-20 -11.5v23zM2216.1 797l-20 -11.5v23zM2217.7 797l-20 -11.5v23z" fill="#008000"/>
</g>
<g shape-rendering="crispEdges">
<rect x="1756" y="97" width="434" height="548" fill="#000"/>
<rect x="1737" y="78" width="432" height="545" fill="#fff" stroke="#000" stroke-width="4"/>
<path d="M1748.5 115.1H1872.5" stroke="#ff0000" stroke-width="15" stroke-linecap="round" fill="none"/>
<path d="M1749.5 183.2H1871.5" stroke="#000000" stroke-width="7" stroke-linecap="round" fill="none"/>
<path d="M1801 174.2h18v18h-18z" fill="#000000"/>
<path d="M1749.5 251.2H1871.5" stroke="#9000ff" stroke-width="7" stroke-linecap="round" fill="none"/>
<path d="M1800.1 251.2a9.9 9.9 0 1 0 19.8 0a9.9 9.9 0 1 0 -19.8 0z" fill="#9000ff"/>
<path d="M1749.5 319.3H1871.5" stroke="#0000ff" stroke-width="7" stroke-linecap="round" fill="none"/>
<path d="M1810 306l11.5 20h-23z" fill="#0000ff"/>
<path d="M1749.5 387.4H1871.5" stroke="#ff00ff" stroke-width="7" stroke-linecap="round" fill="none"/>
<path d="M1810 400.7l-11.5 -20h23z" fill="#ff00ff"/>
<path d="M1749.5 455.4H1871.5" stroke="#808000" stroke-width="7" stroke-linecap="round" fill="none"/>
<path d="M1810 442.9l12.5 12.5l-12.5 12.5l-12.5 -12.5z" fill="#808000"/>
<path d="M1749.5 523.5H1871.5" stroke="#900080" stroke-width="7" stroke-linecap="round" fill="none"/>
<path d="M1796.7 523.5l20 -11.5v23z" fill="#900080"/>
<path d="M1749.5 591.6H1871.5" stroke="#008000" stroke-width="7" stroke-linecap="round" fill="none"/>
<path d="M1823.3 591.6l-20 -11.5v23z" fill="#008000"/>
</g>
<text transform="translate(1886 134.8) scale(1 1.025)" font-size="55" text-anchor="start">Input FRS</text>
<text transform="translate(1888 202.9) scale(1 1.025)" font-size="55" text-anchor="start" dx="0 0 0 0 0 1 -1">VIF= 1.0Hz</text>
<text transform="translate(1888 270.9) scale(1 1.025)" font-size="55" text-anchor="start">VIF= 2.0Hz</text>
<text transform="translate(1888 339) scale(1 1.025)" font-size="55" text-anchor="start">VIF= 2.5Hz</text>
<text transform="translate(1888 407.1) scale(1 1.025)" font-size="55" text-anchor="start">VIF= 3.0Hz</text>
<text transform="translate(1888 475.1) scale(1 1.025)" font-size="55" text-anchor="start">VIF= 3.5Hz</text>
<text transform="translate(1888 543.2) scale(1 1.025)" font-size="55" text-anchor="start">VIF= 4.0Hz</text>
<text transform="translate(1888 611.3) scale(1 1.025)" font-size="55" text-anchor="start">VIF= 5.0Hz</text>
<text transform="translate(299.9 1437.8) scale(1 1.025)" font-size="54.5" text-anchor="end" dx="1">1</text>
<text transform="translate(299.9 982.3) scale(1 1.025)" font-size="54.5" text-anchor="end" dx="1 -1">10</text>
<text transform="translate(299.9 526.8) scale(1 1.025)" font-size="54.5" text-anchor="end" dx="1 -1">100</text>
<text transform="translate(299.9 71.3) scale(1 1.025)" font-size="54.5" text-anchor="end" dx="1 -1">1000</text>
<text transform="translate(345.5 1510.9) scale(1 1.025)" font-size="54.5" text-anchor="middle" dx="1">1</text>
<text transform="translate(1274.8 1510.9) scale(1 1.025)" font-size="54.5" text-anchor="middle" dx="1 -1">10</text>
<text transform="translate(2204 1510.9) scale(1 1.025)" font-size="54.5" text-anchor="middle" dx="1 -1">100</text>
<text transform="translate(1274.8 1617.8) scale(1 1.035)" font-size="67.2" text-anchor="middle">Frequency (Hz)</text>
<text transform="translate(74 751.4) rotate(-90) scale(1 1.035)" font-size="67.6" text-anchor="middle">Spectral Acceleration (g)</text>
<path d="M2024 197H2035V205H2024zM2041 197H2052V205H2041zM273 1432H283V1439H273zM290 1432H300V1439H290zM243 977H253V984H243zM260 977H270V984H260zM212 521H223V528H212zM229 521H239V528H229zM182 66H193V73H182zM199 66H209V73H199zM334 1505H344V1513H334zM351 1505H361V1513H351zM1248 1505H1258V1513H1248zM1265 1505H1275V1513H1265zM2162 1505H2172V1513H2162zM2179 1505H2189V1513H2179z" fill="#fff" shape-rendering="crispEdges"/>
</svg></body></html>
